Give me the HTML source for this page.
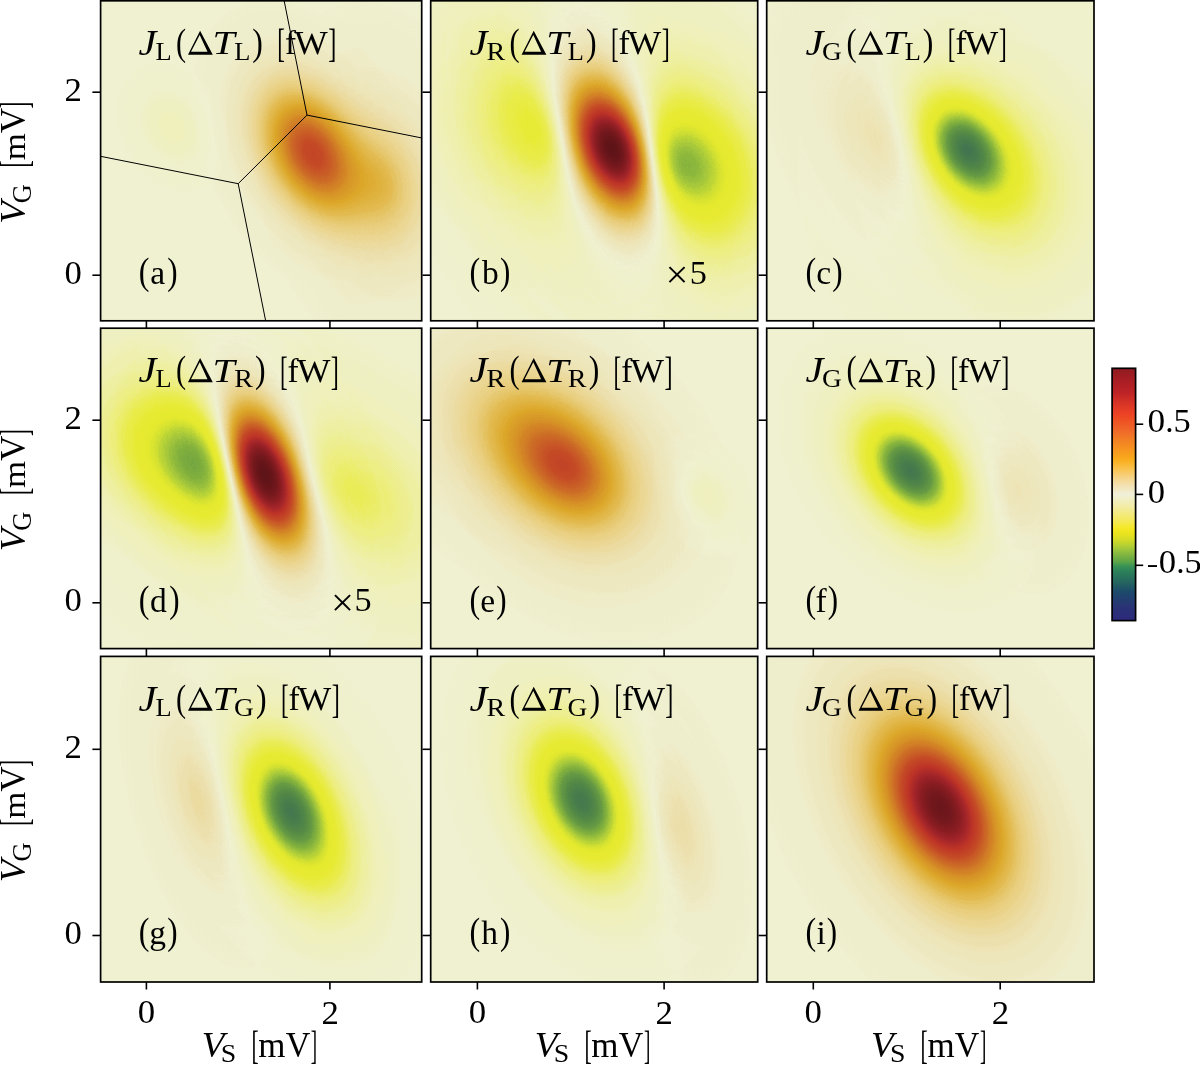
<!DOCTYPE html><html><head><meta charset="utf-8"><style>html,body{margin:0;padding:0;background:#fff;width:1200px;height:1065px;overflow:hidden}svg{display:block}text{font-family:"Liberation Serif",serif;fill:#000}.pl{mix-blend-mode:plus-lighter}</style></head><body>
<svg width="1200" height="1065" viewBox="0 0 1200 1065">
<defs>
<radialGradient id="gRn0_5"><stop offset="0.0000" stop-color="#ff0000" stop-opacity="1.00000"/><stop offset="0.0250" stop-color="#ff0000" stop-opacity="0.97695"/><stop offset="0.0500" stop-color="#ff0000" stop-opacity="0.91458"/><stop offset="0.0750" stop-color="#ff0000" stop-opacity="0.82833"/><stop offset="0.1000" stop-color="#ff0000" stop-opacity="0.73352"/><stop offset="0.1250" stop-color="#ff0000" stop-opacity="0.64056"/><stop offset="0.1500" stop-color="#ff0000" stop-opacity="0.55484"/><stop offset="0.1750" stop-color="#ff0000" stop-opacity="0.47838"/><stop offset="0.2000" stop-color="#ff0000" stop-opacity="0.41140"/><stop offset="0.2250" stop-color="#ff0000" stop-opacity="0.35331"/><stop offset="0.2500" stop-color="#ff0000" stop-opacity="0.30318"/><stop offset="0.2750" stop-color="#ff0000" stop-opacity="0.26007"/><stop offset="0.3000" stop-color="#ff0000" stop-opacity="0.22303"/><stop offset="0.3250" stop-color="#ff0000" stop-opacity="0.19124"/><stop offset="0.3500" stop-color="#ff0000" stop-opacity="0.16398"/><stop offset="0.3750" stop-color="#ff0000" stop-opacity="0.14060"/><stop offset="0.4000" stop-color="#ff0000" stop-opacity="0.12054"/><stop offset="0.4250" stop-color="#ff0000" stop-opacity="0.10335"/><stop offset="0.4500" stop-color="#ff0000" stop-opacity="0.08861"/><stop offset="0.4750" stop-color="#ff0000" stop-opacity="0.07597"/><stop offset="0.5000" stop-color="#ff0000" stop-opacity="0.06514"/><stop offset="0.5250" stop-color="#ff0000" stop-opacity="0.05584"/><stop offset="0.5500" stop-color="#ff0000" stop-opacity="0.04788"/><stop offset="0.5750" stop-color="#ff0000" stop-opacity="0.04105"/><stop offset="0.6000" stop-color="#ff0000" stop-opacity="0.03519"/><stop offset="0.6250" stop-color="#ff0000" stop-opacity="0.03017"/><stop offset="0.6500" stop-color="#ff0000" stop-opacity="0.02587"/><stop offset="0.6750" stop-color="#ff0000" stop-opacity="0.02218"/><stop offset="0.7000" stop-color="#ff0000" stop-opacity="0.01902"/><stop offset="0.7250" stop-color="#ff0000" stop-opacity="0.01630"/><stop offset="0.7500" stop-color="#ff0000" stop-opacity="0.01398"/><stop offset="0.7750" stop-color="#ff0000" stop-opacity="0.01198"/><stop offset="0.8000" stop-color="#ff0000" stop-opacity="0.01028"/><stop offset="0.8250" stop-color="#ff0000" stop-opacity="0.00881"/><stop offset="0.8500" stop-color="#ff0000" stop-opacity="0.00755"/><stop offset="0.8750" stop-color="#ff0000" stop-opacity="0.00648"/><stop offset="0.9000" stop-color="#ff0000" stop-opacity="0.00555"/><stop offset="0.9250" stop-color="#ff0000" stop-opacity="0.00476"/><stop offset="0.9500" stop-color="#ff0000" stop-opacity="0.00408"/><stop offset="0.9750" stop-color="#ff0000" stop-opacity="0.00350"/><stop offset="1.0000" stop-color="#ff0000" stop-opacity="0.00000"/></radialGradient>
<radialGradient id="gRn0_6"><stop offset="0.0000" stop-color="#ff0000" stop-opacity="1.00000"/><stop offset="0.0250" stop-color="#ff0000" stop-opacity="0.98024"/><stop offset="0.0500" stop-color="#ff0000" stop-opacity="0.92557"/><stop offset="0.0750" stop-color="#ff0000" stop-opacity="0.84720"/><stop offset="0.1000" stop-color="#ff0000" stop-opacity="0.75761"/><stop offset="0.1250" stop-color="#ff0000" stop-opacity="0.66665"/><stop offset="0.1500" stop-color="#ff0000" stop-opacity="0.58043"/><stop offset="0.1750" stop-color="#ff0000" stop-opacity="0.50199"/><stop offset="0.2000" stop-color="#ff0000" stop-opacity="0.43236"/><stop offset="0.2250" stop-color="#ff0000" stop-opacity="0.37145"/><stop offset="0.2500" stop-color="#ff0000" stop-opacity="0.31863"/><stop offset="0.2750" stop-color="#ff0000" stop-opacity="0.27308"/><stop offset="0.3000" stop-color="#ff0000" stop-opacity="0.23391"/><stop offset="0.3250" stop-color="#ff0000" stop-opacity="0.20030"/><stop offset="0.3500" stop-color="#ff0000" stop-opacity="0.17148"/><stop offset="0.3750" stop-color="#ff0000" stop-opacity="0.14679"/><stop offset="0.4000" stop-color="#ff0000" stop-opacity="0.12565"/><stop offset="0.4250" stop-color="#ff0000" stop-opacity="0.10755"/><stop offset="0.4500" stop-color="#ff0000" stop-opacity="0.09205"/><stop offset="0.4750" stop-color="#ff0000" stop-opacity="0.07878"/><stop offset="0.5000" stop-color="#ff0000" stop-opacity="0.06743"/><stop offset="0.5250" stop-color="#ff0000" stop-opacity="0.05771"/><stop offset="0.5500" stop-color="#ff0000" stop-opacity="0.04940"/><stop offset="0.5750" stop-color="#ff0000" stop-opacity="0.04228"/><stop offset="0.6000" stop-color="#ff0000" stop-opacity="0.03618"/><stop offset="0.6250" stop-color="#ff0000" stop-opacity="0.03097"/><stop offset="0.6500" stop-color="#ff0000" stop-opacity="0.02651"/><stop offset="0.6750" stop-color="#ff0000" stop-opacity="0.02269"/><stop offset="0.7000" stop-color="#ff0000" stop-opacity="0.01942"/><stop offset="0.7250" stop-color="#ff0000" stop-opacity="0.01662"/><stop offset="0.7500" stop-color="#ff0000" stop-opacity="0.01422"/><stop offset="0.7750" stop-color="#ff0000" stop-opacity="0.01217"/><stop offset="0.8000" stop-color="#ff0000" stop-opacity="0.01042"/><stop offset="0.8250" stop-color="#ff0000" stop-opacity="0.00892"/><stop offset="0.8500" stop-color="#ff0000" stop-opacity="0.00763"/><stop offset="0.8750" stop-color="#ff0000" stop-opacity="0.00653"/><stop offset="0.9000" stop-color="#ff0000" stop-opacity="0.00559"/><stop offset="0.9250" stop-color="#ff0000" stop-opacity="0.00479"/><stop offset="0.9500" stop-color="#ff0000" stop-opacity="0.00410"/><stop offset="0.9750" stop-color="#ff0000" stop-opacity="0.00351"/><stop offset="1.0000" stop-color="#ff0000" stop-opacity="0.00000"/></radialGradient>
<radialGradient id="gRn0_7"><stop offset="0.0000" stop-color="#ff0000" stop-opacity="1.00000"/><stop offset="0.0250" stop-color="#ff0000" stop-opacity="0.98261"/><stop offset="0.0500" stop-color="#ff0000" stop-opacity="0.93381"/><stop offset="0.0750" stop-color="#ff0000" stop-opacity="0.86208"/><stop offset="0.1000" stop-color="#ff0000" stop-opacity="0.77765"/><stop offset="0.1250" stop-color="#ff0000" stop-opacity="0.68944"/><stop offset="0.1500" stop-color="#ff0000" stop-opacity="0.60376"/><stop offset="0.1750" stop-color="#ff0000" stop-opacity="0.52426"/><stop offset="0.2000" stop-color="#ff0000" stop-opacity="0.45267"/><stop offset="0.2250" stop-color="#ff0000" stop-opacity="0.38940"/><stop offset="0.2500" stop-color="#ff0000" stop-opacity="0.33416"/><stop offset="0.2750" stop-color="#ff0000" stop-opacity="0.28630"/><stop offset="0.3000" stop-color="#ff0000" stop-opacity="0.24506"/><stop offset="0.3250" stop-color="#ff0000" stop-opacity="0.20961"/><stop offset="0.3500" stop-color="#ff0000" stop-opacity="0.17923"/><stop offset="0.3750" stop-color="#ff0000" stop-opacity="0.15320"/><stop offset="0.4000" stop-color="#ff0000" stop-opacity="0.13093"/><stop offset="0.4250" stop-color="#ff0000" stop-opacity="0.11189"/><stop offset="0.4500" stop-color="#ff0000" stop-opacity="0.09561"/><stop offset="0.4750" stop-color="#ff0000" stop-opacity="0.08170"/><stop offset="0.5000" stop-color="#ff0000" stop-opacity="0.06980"/><stop offset="0.5250" stop-color="#ff0000" stop-opacity="0.05964"/><stop offset="0.5500" stop-color="#ff0000" stop-opacity="0.05096"/><stop offset="0.5750" stop-color="#ff0000" stop-opacity="0.04354"/><stop offset="0.6000" stop-color="#ff0000" stop-opacity="0.03720"/><stop offset="0.6250" stop-color="#ff0000" stop-opacity="0.03178"/><stop offset="0.6500" stop-color="#ff0000" stop-opacity="0.02716"/><stop offset="0.6750" stop-color="#ff0000" stop-opacity="0.02320"/><stop offset="0.7000" stop-color="#ff0000" stop-opacity="0.01982"/><stop offset="0.7250" stop-color="#ff0000" stop-opacity="0.01694"/><stop offset="0.7500" stop-color="#ff0000" stop-opacity="0.01447"/><stop offset="0.7750" stop-color="#ff0000" stop-opacity="0.01236"/><stop offset="0.8000" stop-color="#ff0000" stop-opacity="0.01056"/><stop offset="0.8250" stop-color="#ff0000" stop-opacity="0.00903"/><stop offset="0.8500" stop-color="#ff0000" stop-opacity="0.00771"/><stop offset="0.8750" stop-color="#ff0000" stop-opacity="0.00659"/><stop offset="0.9000" stop-color="#ff0000" stop-opacity="0.00563"/><stop offset="0.9250" stop-color="#ff0000" stop-opacity="0.00481"/><stop offset="0.9500" stop-color="#ff0000" stop-opacity="0.00411"/><stop offset="0.9750" stop-color="#ff0000" stop-opacity="0.00351"/><stop offset="1.0000" stop-color="#ff0000" stop-opacity="0.00000"/></radialGradient>
<radialGradient id="gRn0_8"><stop offset="0.0000" stop-color="#ff0000" stop-opacity="1.00000"/><stop offset="0.0250" stop-color="#ff0000" stop-opacity="0.98441"/><stop offset="0.0500" stop-color="#ff0000" stop-opacity="0.94019"/><stop offset="0.0750" stop-color="#ff0000" stop-opacity="0.87402"/><stop offset="0.1000" stop-color="#ff0000" stop-opacity="0.79438"/><stop offset="0.1250" stop-color="#ff0000" stop-opacity="0.70923"/><stop offset="0.1500" stop-color="#ff0000" stop-opacity="0.62474"/><stop offset="0.1750" stop-color="#ff0000" stop-opacity="0.54494"/><stop offset="0.2000" stop-color="#ff0000" stop-opacity="0.47201"/><stop offset="0.2250" stop-color="#ff0000" stop-opacity="0.40685"/><stop offset="0.2500" stop-color="#ff0000" stop-opacity="0.34950"/><stop offset="0.2750" stop-color="#ff0000" stop-opacity="0.29954"/><stop offset="0.3000" stop-color="#ff0000" stop-opacity="0.25632"/><stop offset="0.3250" stop-color="#ff0000" stop-opacity="0.21910"/><stop offset="0.3500" stop-color="#ff0000" stop-opacity="0.18716"/><stop offset="0.3750" stop-color="#ff0000" stop-opacity="0.15979"/><stop offset="0.4000" stop-color="#ff0000" stop-opacity="0.13638"/><stop offset="0.4250" stop-color="#ff0000" stop-opacity="0.11637"/><stop offset="0.4500" stop-color="#ff0000" stop-opacity="0.09929"/><stop offset="0.4750" stop-color="#ff0000" stop-opacity="0.08470"/><stop offset="0.5000" stop-color="#ff0000" stop-opacity="0.07225"/><stop offset="0.5250" stop-color="#ff0000" stop-opacity="0.06163"/><stop offset="0.5500" stop-color="#ff0000" stop-opacity="0.05257"/><stop offset="0.5750" stop-color="#ff0000" stop-opacity="0.04484"/><stop offset="0.6000" stop-color="#ff0000" stop-opacity="0.03825"/><stop offset="0.6250" stop-color="#ff0000" stop-opacity="0.03262"/><stop offset="0.6500" stop-color="#ff0000" stop-opacity="0.02782"/><stop offset="0.6750" stop-color="#ff0000" stop-opacity="0.02373"/><stop offset="0.7000" stop-color="#ff0000" stop-opacity="0.02024"/><stop offset="0.7250" stop-color="#ff0000" stop-opacity="0.01726"/><stop offset="0.7500" stop-color="#ff0000" stop-opacity="0.01472"/><stop offset="0.7750" stop-color="#ff0000" stop-opacity="0.01256"/><stop offset="0.8000" stop-color="#ff0000" stop-opacity="0.01071"/><stop offset="0.8250" stop-color="#ff0000" stop-opacity="0.00914"/><stop offset="0.8500" stop-color="#ff0000" stop-opacity="0.00779"/><stop offset="0.8750" stop-color="#ff0000" stop-opacity="0.00665"/><stop offset="0.9000" stop-color="#ff0000" stop-opacity="0.00567"/><stop offset="0.9250" stop-color="#ff0000" stop-opacity="0.00484"/><stop offset="0.9500" stop-color="#ff0000" stop-opacity="0.00412"/><stop offset="0.9750" stop-color="#ff0000" stop-opacity="0.00352"/><stop offset="1.0000" stop-color="#ff0000" stop-opacity="0.00000"/></radialGradient>
<radialGradient id="gRn0_87"><stop offset="0.0000" stop-color="#ff0000" stop-opacity="1.00000"/><stop offset="0.0250" stop-color="#ff0000" stop-opacity="0.98542"/><stop offset="0.0500" stop-color="#ff0000" stop-opacity="0.94385"/><stop offset="0.0750" stop-color="#ff0000" stop-opacity="0.88104"/><stop offset="0.1000" stop-color="#ff0000" stop-opacity="0.80447"/><stop offset="0.1250" stop-color="#ff0000" stop-opacity="0.72151"/><stop offset="0.1500" stop-color="#ff0000" stop-opacity="0.63810"/><stop offset="0.1750" stop-color="#ff0000" stop-opacity="0.55841"/><stop offset="0.2000" stop-color="#ff0000" stop-opacity="0.48488"/><stop offset="0.2250" stop-color="#ff0000" stop-opacity="0.41866"/><stop offset="0.2500" stop-color="#ff0000" stop-opacity="0.36003"/><stop offset="0.2750" stop-color="#ff0000" stop-opacity="0.30873"/><stop offset="0.3000" stop-color="#ff0000" stop-opacity="0.26421"/><stop offset="0.3250" stop-color="#ff0000" stop-opacity="0.22580"/><stop offset="0.3500" stop-color="#ff0000" stop-opacity="0.19278"/><stop offset="0.3750" stop-color="#ff0000" stop-opacity="0.16448"/><stop offset="0.4000" stop-color="#ff0000" stop-opacity="0.14026"/><stop offset="0.4250" stop-color="#ff0000" stop-opacity="0.11958"/><stop offset="0.4500" stop-color="#ff0000" stop-opacity="0.10192"/><stop offset="0.4750" stop-color="#ff0000" stop-opacity="0.08685"/><stop offset="0.5000" stop-color="#ff0000" stop-opacity="0.07401"/><stop offset="0.5250" stop-color="#ff0000" stop-opacity="0.06306"/><stop offset="0.5500" stop-color="#ff0000" stop-opacity="0.05372"/><stop offset="0.5750" stop-color="#ff0000" stop-opacity="0.04577"/><stop offset="0.6000" stop-color="#ff0000" stop-opacity="0.03899"/><stop offset="0.6250" stop-color="#ff0000" stop-opacity="0.03322"/><stop offset="0.6500" stop-color="#ff0000" stop-opacity="0.02830"/><stop offset="0.6750" stop-color="#ff0000" stop-opacity="0.02411"/><stop offset="0.7000" stop-color="#ff0000" stop-opacity="0.02054"/><stop offset="0.7250" stop-color="#ff0000" stop-opacity="0.01750"/><stop offset="0.7500" stop-color="#ff0000" stop-opacity="0.01490"/><stop offset="0.7750" stop-color="#ff0000" stop-opacity="0.01270"/><stop offset="0.8000" stop-color="#ff0000" stop-opacity="0.01082"/><stop offset="0.8250" stop-color="#ff0000" stop-opacity="0.00921"/><stop offset="0.8500" stop-color="#ff0000" stop-opacity="0.00785"/><stop offset="0.8750" stop-color="#ff0000" stop-opacity="0.00669"/><stop offset="0.9000" stop-color="#ff0000" stop-opacity="0.00570"/><stop offset="0.9250" stop-color="#ff0000" stop-opacity="0.00485"/><stop offset="0.9500" stop-color="#ff0000" stop-opacity="0.00413"/><stop offset="0.9750" stop-color="#ff0000" stop-opacity="0.00352"/><stop offset="1.0000" stop-color="#ff0000" stop-opacity="0.00000"/></radialGradient>
<radialGradient id="gRn1"><stop offset="0.0000" stop-color="#ff0000" stop-opacity="1.00000"/><stop offset="0.0250" stop-color="#ff0000" stop-opacity="0.98693"/><stop offset="0.0500" stop-color="#ff0000" stop-opacity="0.94938"/><stop offset="0.0750" stop-color="#ff0000" stop-opacity="0.89183"/><stop offset="0.1000" stop-color="#ff0000" stop-opacity="0.82038"/><stop offset="0.1250" stop-color="#ff0000" stop-opacity="0.74134"/><stop offset="0.1500" stop-color="#ff0000" stop-opacity="0.66025"/><stop offset="0.1750" stop-color="#ff0000" stop-opacity="0.58128"/><stop offset="0.2000" stop-color="#ff0000" stop-opacity="0.50718"/><stop offset="0.2250" stop-color="#ff0000" stop-opacity="0.43951"/><stop offset="0.2500" stop-color="#ff0000" stop-opacity="0.37892"/><stop offset="0.2750" stop-color="#ff0000" stop-opacity="0.32544"/><stop offset="0.3000" stop-color="#ff0000" stop-opacity="0.27872"/><stop offset="0.3250" stop-color="#ff0000" stop-opacity="0.23821"/><stop offset="0.3500" stop-color="#ff0000" stop-opacity="0.20328"/><stop offset="0.3750" stop-color="#ff0000" stop-opacity="0.17329"/><stop offset="0.4000" stop-color="#ff0000" stop-opacity="0.14760"/><stop offset="0.4250" stop-color="#ff0000" stop-opacity="0.12564"/><stop offset="0.4500" stop-color="#ff0000" stop-opacity="0.10691"/><stop offset="0.4750" stop-color="#ff0000" stop-opacity="0.09094"/><stop offset="0.5000" stop-color="#ff0000" stop-opacity="0.07734"/><stop offset="0.5250" stop-color="#ff0000" stop-opacity="0.06577"/><stop offset="0.5500" stop-color="#ff0000" stop-opacity="0.05592"/><stop offset="0.5750" stop-color="#ff0000" stop-opacity="0.04754"/><stop offset="0.6000" stop-color="#ff0000" stop-opacity="0.04041"/><stop offset="0.6250" stop-color="#ff0000" stop-opacity="0.03435"/><stop offset="0.6500" stop-color="#ff0000" stop-opacity="0.02920"/><stop offset="0.6750" stop-color="#ff0000" stop-opacity="0.02482"/><stop offset="0.7000" stop-color="#ff0000" stop-opacity="0.02110"/><stop offset="0.7250" stop-color="#ff0000" stop-opacity="0.01793"/><stop offset="0.7500" stop-color="#ff0000" stop-opacity="0.01524"/><stop offset="0.7750" stop-color="#ff0000" stop-opacity="0.01296"/><stop offset="0.8000" stop-color="#ff0000" stop-opacity="0.01101"/><stop offset="0.8250" stop-color="#ff0000" stop-opacity="0.00936"/><stop offset="0.8500" stop-color="#ff0000" stop-opacity="0.00796"/><stop offset="0.8750" stop-color="#ff0000" stop-opacity="0.00676"/><stop offset="0.9000" stop-color="#ff0000" stop-opacity="0.00575"/><stop offset="0.9250" stop-color="#ff0000" stop-opacity="0.00489"/><stop offset="0.9500" stop-color="#ff0000" stop-opacity="0.00415"/><stop offset="0.9750" stop-color="#ff0000" stop-opacity="0.00353"/><stop offset="1.0000" stop-color="#ff0000" stop-opacity="0.00000"/></radialGradient>
<radialGradient id="gRn1_2"><stop offset="0.0000" stop-color="#ff0000" stop-opacity="1.00000"/><stop offset="0.0250" stop-color="#ff0000" stop-opacity="0.98862"/><stop offset="0.0500" stop-color="#ff0000" stop-opacity="0.95565"/><stop offset="0.0750" stop-color="#ff0000" stop-opacity="0.90436"/><stop offset="0.1000" stop-color="#ff0000" stop-opacity="0.83939"/><stop offset="0.1250" stop-color="#ff0000" stop-opacity="0.76585"/><stop offset="0.1500" stop-color="#ff0000" stop-opacity="0.68853"/><stop offset="0.1750" stop-color="#ff0000" stop-opacity="0.61142"/><stop offset="0.2000" stop-color="#ff0000" stop-opacity="0.53747"/><stop offset="0.2250" stop-color="#ff0000" stop-opacity="0.46861"/><stop offset="0.2500" stop-color="#ff0000" stop-opacity="0.40592"/><stop offset="0.2750" stop-color="#ff0000" stop-opacity="0.34982"/><stop offset="0.3000" stop-color="#ff0000" stop-opacity="0.30026"/><stop offset="0.3250" stop-color="#ff0000" stop-opacity="0.25693"/><stop offset="0.3500" stop-color="#ff0000" stop-opacity="0.21932"/><stop offset="0.3750" stop-color="#ff0000" stop-opacity="0.18687"/><stop offset="0.4000" stop-color="#ff0000" stop-opacity="0.15900"/><stop offset="0.4250" stop-color="#ff0000" stop-opacity="0.13514"/><stop offset="0.4500" stop-color="#ff0000" stop-opacity="0.11477"/><stop offset="0.4750" stop-color="#ff0000" stop-opacity="0.09740"/><stop offset="0.5000" stop-color="#ff0000" stop-opacity="0.08263"/><stop offset="0.5250" stop-color="#ff0000" stop-opacity="0.07007"/><stop offset="0.5500" stop-color="#ff0000" stop-opacity="0.05940"/><stop offset="0.5750" stop-color="#ff0000" stop-opacity="0.05035"/><stop offset="0.6000" stop-color="#ff0000" stop-opacity="0.04267"/><stop offset="0.6250" stop-color="#ff0000" stop-opacity="0.03615"/><stop offset="0.6500" stop-color="#ff0000" stop-opacity="0.03063"/><stop offset="0.6750" stop-color="#ff0000" stop-opacity="0.02595"/><stop offset="0.7000" stop-color="#ff0000" stop-opacity="0.02199"/><stop offset="0.7250" stop-color="#ff0000" stop-opacity="0.01862"/><stop offset="0.7500" stop-color="#ff0000" stop-opacity="0.01578"/><stop offset="0.7750" stop-color="#ff0000" stop-opacity="0.01336"/><stop offset="0.8000" stop-color="#ff0000" stop-opacity="0.01132"/><stop offset="0.8250" stop-color="#ff0000" stop-opacity="0.00959"/><stop offset="0.8500" stop-color="#ff0000" stop-opacity="0.00812"/><stop offset="0.8750" stop-color="#ff0000" stop-opacity="0.00688"/><stop offset="0.9000" stop-color="#ff0000" stop-opacity="0.00583"/><stop offset="0.9250" stop-color="#ff0000" stop-opacity="0.00494"/><stop offset="0.9500" stop-color="#ff0000" stop-opacity="0.00418"/><stop offset="0.9750" stop-color="#ff0000" stop-opacity="0.00354"/><stop offset="1.0000" stop-color="#ff0000" stop-opacity="0.00000"/></radialGradient>
<radialGradient id="gRn1_36"><stop offset="0.0000" stop-color="#ff0000" stop-opacity="1.00000"/><stop offset="0.0250" stop-color="#ff0000" stop-opacity="0.98961"/><stop offset="0.0500" stop-color="#ff0000" stop-opacity="0.95937"/><stop offset="0.0750" stop-color="#ff0000" stop-opacity="0.91195"/><stop offset="0.1000" stop-color="#ff0000" stop-opacity="0.85118"/><stop offset="0.1250" stop-color="#ff0000" stop-opacity="0.78145"/><stop offset="0.1500" stop-color="#ff0000" stop-opacity="0.70705"/><stop offset="0.1750" stop-color="#ff0000" stop-opacity="0.63173"/><stop offset="0.2000" stop-color="#ff0000" stop-opacity="0.55844"/><stop offset="0.2250" stop-color="#ff0000" stop-opacity="0.48927"/><stop offset="0.2500" stop-color="#ff0000" stop-opacity="0.42554"/><stop offset="0.2750" stop-color="#ff0000" stop-opacity="0.36790"/><stop offset="0.3000" stop-color="#ff0000" stop-opacity="0.31654"/><stop offset="0.3250" stop-color="#ff0000" stop-opacity="0.27129"/><stop offset="0.3500" stop-color="#ff0000" stop-opacity="0.23180"/><stop offset="0.3750" stop-color="#ff0000" stop-opacity="0.19757"/><stop offset="0.4000" stop-color="#ff0000" stop-opacity="0.16806"/><stop offset="0.4250" stop-color="#ff0000" stop-opacity="0.14275"/><stop offset="0.4500" stop-color="#ff0000" stop-opacity="0.12110"/><stop offset="0.4750" stop-color="#ff0000" stop-opacity="0.10264"/><stop offset="0.5000" stop-color="#ff0000" stop-opacity="0.08693"/><stop offset="0.5250" stop-color="#ff0000" stop-opacity="0.07358"/><stop offset="0.5500" stop-color="#ff0000" stop-opacity="0.06225"/><stop offset="0.5750" stop-color="#ff0000" stop-opacity="0.05265"/><stop offset="0.6000" stop-color="#ff0000" stop-opacity="0.04452"/><stop offset="0.6250" stop-color="#ff0000" stop-opacity="0.03763"/><stop offset="0.6500" stop-color="#ff0000" stop-opacity="0.03181"/><stop offset="0.6750" stop-color="#ff0000" stop-opacity="0.02688"/><stop offset="0.7000" stop-color="#ff0000" stop-opacity="0.02271"/><stop offset="0.7250" stop-color="#ff0000" stop-opacity="0.01919"/><stop offset="0.7500" stop-color="#ff0000" stop-opacity="0.01621"/><stop offset="0.7750" stop-color="#ff0000" stop-opacity="0.01370"/><stop offset="0.8000" stop-color="#ff0000" stop-opacity="0.01157"/><stop offset="0.8250" stop-color="#ff0000" stop-opacity="0.00978"/><stop offset="0.8500" stop-color="#ff0000" stop-opacity="0.00826"/><stop offset="0.8750" stop-color="#ff0000" stop-opacity="0.00698"/><stop offset="0.9000" stop-color="#ff0000" stop-opacity="0.00589"/><stop offset="0.9250" stop-color="#ff0000" stop-opacity="0.00498"/><stop offset="0.9500" stop-color="#ff0000" stop-opacity="0.00420"/><stop offset="0.9750" stop-color="#ff0000" stop-opacity="0.00355"/><stop offset="1.0000" stop-color="#ff0000" stop-opacity="0.00000"/></radialGradient>
<radialGradient id="gRn1_5"><stop offset="0.0000" stop-color="#ff0000" stop-opacity="1.00000"/><stop offset="0.0250" stop-color="#ff0000" stop-opacity="0.99030"/><stop offset="0.0500" stop-color="#ff0000" stop-opacity="0.96199"/><stop offset="0.0750" stop-color="#ff0000" stop-opacity="0.91734"/><stop offset="0.1000" stop-color="#ff0000" stop-opacity="0.85967"/><stop offset="0.1250" stop-color="#ff0000" stop-opacity="0.79288"/><stop offset="0.1500" stop-color="#ff0000" stop-opacity="0.72087"/><stop offset="0.1750" stop-color="#ff0000" stop-opacity="0.64717"/><stop offset="0.2000" stop-color="#ff0000" stop-opacity="0.57468"/><stop offset="0.2250" stop-color="#ff0000" stop-opacity="0.50556"/><stop offset="0.2500" stop-color="#ff0000" stop-opacity="0.44126"/><stop offset="0.2750" stop-color="#ff0000" stop-opacity="0.38261"/><stop offset="0.3000" stop-color="#ff0000" stop-opacity="0.32996"/><stop offset="0.3250" stop-color="#ff0000" stop-opacity="0.28328"/><stop offset="0.3500" stop-color="#ff0000" stop-opacity="0.24232"/><stop offset="0.3750" stop-color="#ff0000" stop-opacity="0.20667"/><stop offset="0.4000" stop-color="#ff0000" stop-opacity="0.17585"/><stop offset="0.4250" stop-color="#ff0000" stop-opacity="0.14933"/><stop offset="0.4500" stop-color="#ff0000" stop-opacity="0.12661"/><stop offset="0.4750" stop-color="#ff0000" stop-opacity="0.10722"/><stop offset="0.5000" stop-color="#ff0000" stop-opacity="0.09070"/><stop offset="0.5250" stop-color="#ff0000" stop-opacity="0.07667"/><stop offset="0.5500" stop-color="#ff0000" stop-opacity="0.06477"/><stop offset="0.5750" stop-color="#ff0000" stop-opacity="0.05469"/><stop offset="0.6000" stop-color="#ff0000" stop-opacity="0.04616"/><stop offset="0.6250" stop-color="#ff0000" stop-opacity="0.03894"/><stop offset="0.6500" stop-color="#ff0000" stop-opacity="0.03285"/><stop offset="0.6750" stop-color="#ff0000" stop-opacity="0.02770"/><stop offset="0.7000" stop-color="#ff0000" stop-opacity="0.02336"/><stop offset="0.7250" stop-color="#ff0000" stop-opacity="0.01969"/><stop offset="0.7500" stop-color="#ff0000" stop-opacity="0.01660"/><stop offset="0.7750" stop-color="#ff0000" stop-opacity="0.01399"/><stop offset="0.8000" stop-color="#ff0000" stop-opacity="0.01179"/><stop offset="0.8250" stop-color="#ff0000" stop-opacity="0.00994"/><stop offset="0.8500" stop-color="#ff0000" stop-opacity="0.00838"/><stop offset="0.8750" stop-color="#ff0000" stop-opacity="0.00706"/><stop offset="0.9000" stop-color="#ff0000" stop-opacity="0.00595"/><stop offset="0.9250" stop-color="#ff0000" stop-opacity="0.00501"/><stop offset="0.9500" stop-color="#ff0000" stop-opacity="0.00422"/><stop offset="0.9750" stop-color="#ff0000" stop-opacity="0.00356"/><stop offset="1.0000" stop-color="#ff0000" stop-opacity="0.00000"/></radialGradient>
<radialGradient id="gRn1_864"><stop offset="0.0000" stop-color="#ff0000" stop-opacity="1.00000"/><stop offset="0.0250" stop-color="#ff0000" stop-opacity="0.99160"/><stop offset="0.0500" stop-color="#ff0000" stop-opacity="0.96695"/><stop offset="0.0750" stop-color="#ff0000" stop-opacity="0.92769"/><stop offset="0.1000" stop-color="#ff0000" stop-opacity="0.87627"/><stop offset="0.1250" stop-color="#ff0000" stop-opacity="0.81565"/><stop offset="0.1500" stop-color="#ff0000" stop-opacity="0.74899"/><stop offset="0.1750" stop-color="#ff0000" stop-opacity="0.67931"/><stop offset="0.2000" stop-color="#ff0000" stop-opacity="0.60927"/><stop offset="0.2250" stop-color="#ff0000" stop-opacity="0.54105"/><stop offset="0.2500" stop-color="#ff0000" stop-opacity="0.47628"/><stop offset="0.2750" stop-color="#ff0000" stop-opacity="0.41608"/><stop offset="0.3000" stop-color="#ff0000" stop-opacity="0.36109"/><stop offset="0.3250" stop-color="#ff0000" stop-opacity="0.31160"/><stop offset="0.3500" stop-color="#ff0000" stop-opacity="0.26759"/><stop offset="0.3750" stop-color="#ff0000" stop-opacity="0.22885"/><stop offset="0.4000" stop-color="#ff0000" stop-opacity="0.19504"/><stop offset="0.4250" stop-color="#ff0000" stop-opacity="0.16574"/><stop offset="0.4500" stop-color="#ff0000" stop-opacity="0.14049"/><stop offset="0.4750" stop-color="#ff0000" stop-opacity="0.11885"/><stop offset="0.5000" stop-color="#ff0000" stop-opacity="0.10036"/><stop offset="0.5250" stop-color="#ff0000" stop-opacity="0.08463"/><stop offset="0.5500" stop-color="#ff0000" stop-opacity="0.07128"/><stop offset="0.5750" stop-color="#ff0000" stop-opacity="0.05998"/><stop offset="0.6000" stop-color="#ff0000" stop-opacity="0.05042"/><stop offset="0.6250" stop-color="#ff0000" stop-opacity="0.04236"/><stop offset="0.6500" stop-color="#ff0000" stop-opacity="0.03557"/><stop offset="0.6750" stop-color="#ff0000" stop-opacity="0.02985"/><stop offset="0.7000" stop-color="#ff0000" stop-opacity="0.02504"/><stop offset="0.7250" stop-color="#ff0000" stop-opacity="0.02100"/><stop offset="0.7500" stop-color="#ff0000" stop-opacity="0.01761"/><stop offset="0.7750" stop-color="#ff0000" stop-opacity="0.01476"/><stop offset="0.8000" stop-color="#ff0000" stop-opacity="0.01237"/><stop offset="0.8250" stop-color="#ff0000" stop-opacity="0.01037"/><stop offset="0.8500" stop-color="#ff0000" stop-opacity="0.00869"/><stop offset="0.8750" stop-color="#ff0000" stop-opacity="0.00728"/><stop offset="0.9000" stop-color="#ff0000" stop-opacity="0.00610"/><stop offset="0.9250" stop-color="#ff0000" stop-opacity="0.00511"/><stop offset="0.9500" stop-color="#ff0000" stop-opacity="0.00428"/><stop offset="0.9750" stop-color="#ff0000" stop-opacity="0.00358"/><stop offset="1.0000" stop-color="#ff0000" stop-opacity="0.00000"/></radialGradient>
<radialGradient id="gRn2"><stop offset="0.0000" stop-color="#ff0000" stop-opacity="1.00000"/><stop offset="0.0250" stop-color="#ff0000" stop-opacity="0.99196"/><stop offset="0.0500" stop-color="#ff0000" stop-opacity="0.96834"/><stop offset="0.0750" stop-color="#ff0000" stop-opacity="0.93061"/><stop offset="0.1000" stop-color="#ff0000" stop-opacity="0.88101"/><stop offset="0.1250" stop-color="#ff0000" stop-opacity="0.82226"/><stop offset="0.1500" stop-color="#ff0000" stop-opacity="0.75730"/><stop offset="0.1750" stop-color="#ff0000" stop-opacity="0.68899"/><stop offset="0.2000" stop-color="#ff0000" stop-opacity="0.61989"/><stop offset="0.2250" stop-color="#ff0000" stop-opacity="0.55215"/><stop offset="0.2500" stop-color="#ff0000" stop-opacity="0.48745"/><stop offset="0.2750" stop-color="#ff0000" stop-opacity="0.42694"/><stop offset="0.3000" stop-color="#ff0000" stop-opacity="0.37137"/><stop offset="0.3250" stop-color="#ff0000" stop-opacity="0.32110"/><stop offset="0.3500" stop-color="#ff0000" stop-opacity="0.27619"/><stop offset="0.3750" stop-color="#ff0000" stop-opacity="0.23650"/><stop offset="0.4000" stop-color="#ff0000" stop-opacity="0.20174"/><stop offset="0.4250" stop-color="#ff0000" stop-opacity="0.17153"/><stop offset="0.4500" stop-color="#ff0000" stop-opacity="0.14544"/><stop offset="0.4750" stop-color="#ff0000" stop-opacity="0.12302"/><stop offset="0.5000" stop-color="#ff0000" stop-opacity="0.10386"/><stop offset="0.5250" stop-color="#ff0000" stop-opacity="0.08753"/><stop offset="0.5500" stop-color="#ff0000" stop-opacity="0.07366"/><stop offset="0.5750" stop-color="#ff0000" stop-opacity="0.06192"/><stop offset="0.6000" stop-color="#ff0000" stop-opacity="0.05200"/><stop offset="0.6250" stop-color="#ff0000" stop-opacity="0.04363"/><stop offset="0.6500" stop-color="#ff0000" stop-opacity="0.03658"/><stop offset="0.6750" stop-color="#ff0000" stop-opacity="0.03065"/><stop offset="0.7000" stop-color="#ff0000" stop-opacity="0.02567"/><stop offset="0.7250" stop-color="#ff0000" stop-opacity="0.02149"/><stop offset="0.7500" stop-color="#ff0000" stop-opacity="0.01799"/><stop offset="0.7750" stop-color="#ff0000" stop-opacity="0.01505"/><stop offset="0.8000" stop-color="#ff0000" stop-opacity="0.01259"/><stop offset="0.8250" stop-color="#ff0000" stop-opacity="0.01053"/><stop offset="0.8500" stop-color="#ff0000" stop-opacity="0.00880"/><stop offset="0.8750" stop-color="#ff0000" stop-opacity="0.00736"/><stop offset="0.9000" stop-color="#ff0000" stop-opacity="0.00615"/><stop offset="0.9250" stop-color="#ff0000" stop-opacity="0.00514"/><stop offset="0.9500" stop-color="#ff0000" stop-opacity="0.00430"/><stop offset="0.9750" stop-color="#ff0000" stop-opacity="0.00359"/><stop offset="1.0000" stop-color="#ff0000" stop-opacity="0.00000"/></radialGradient>
<radialGradient id="gRn3_07"><stop offset="0.0000" stop-color="#ff0000" stop-opacity="1.00000"/><stop offset="0.0250" stop-color="#ff0000" stop-opacity="0.99364"/><stop offset="0.0500" stop-color="#ff0000" stop-opacity="0.97486"/><stop offset="0.0750" stop-color="#ff0000" stop-opacity="0.94450"/><stop offset="0.1000" stop-color="#ff0000" stop-opacity="0.90390"/><stop offset="0.1250" stop-color="#ff0000" stop-opacity="0.85478"/><stop offset="0.1500" stop-color="#ff0000" stop-opacity="0.79906"/><stop offset="0.1750" stop-color="#ff0000" stop-opacity="0.73879"/><stop offset="0.2000" stop-color="#ff0000" stop-opacity="0.67594"/><stop offset="0.2250" stop-color="#ff0000" stop-opacity="0.61235"/><stop offset="0.2500" stop-color="#ff0000" stop-opacity="0.54962"/><stop offset="0.2750" stop-color="#ff0000" stop-opacity="0.48907"/><stop offset="0.3000" stop-color="#ff0000" stop-opacity="0.43172"/><stop offset="0.3250" stop-color="#ff0000" stop-opacity="0.37828"/><stop offset="0.3500" stop-color="#ff0000" stop-opacity="0.32923"/><stop offset="0.3750" stop-color="#ff0000" stop-opacity="0.28476"/><stop offset="0.4000" stop-color="#ff0000" stop-opacity="0.24492"/><stop offset="0.4250" stop-color="#ff0000" stop-opacity="0.20957"/><stop offset="0.4500" stop-color="#ff0000" stop-opacity="0.17850"/><stop offset="0.4750" stop-color="#ff0000" stop-opacity="0.15141"/><stop offset="0.5000" stop-color="#ff0000" stop-opacity="0.12795"/><stop offset="0.5250" stop-color="#ff0000" stop-opacity="0.10776"/><stop offset="0.5500" stop-color="#ff0000" stop-opacity="0.09049"/><stop offset="0.5750" stop-color="#ff0000" stop-opacity="0.07578"/><stop offset="0.6000" stop-color="#ff0000" stop-opacity="0.06332"/><stop offset="0.6250" stop-color="#ff0000" stop-opacity="0.05279"/><stop offset="0.6500" stop-color="#ff0000" stop-opacity="0.04393"/><stop offset="0.6750" stop-color="#ff0000" stop-opacity="0.03649"/><stop offset="0.7000" stop-color="#ff0000" stop-opacity="0.03027"/><stop offset="0.7250" stop-color="#ff0000" stop-opacity="0.02508"/><stop offset="0.7500" stop-color="#ff0000" stop-opacity="0.02075"/><stop offset="0.7750" stop-color="#ff0000" stop-opacity="0.01715"/><stop offset="0.8000" stop-color="#ff0000" stop-opacity="0.01417"/><stop offset="0.8250" stop-color="#ff0000" stop-opacity="0.01169"/><stop offset="0.8500" stop-color="#ff0000" stop-opacity="0.00964"/><stop offset="0.8750" stop-color="#ff0000" stop-opacity="0.00795"/><stop offset="0.9000" stop-color="#ff0000" stop-opacity="0.00655"/><stop offset="0.9250" stop-color="#ff0000" stop-opacity="0.00539"/><stop offset="0.9500" stop-color="#ff0000" stop-opacity="0.00443"/><stop offset="0.9750" stop-color="#ff0000" stop-opacity="0.00365"/><stop offset="1.0000" stop-color="#ff0000" stop-opacity="0.00000"/></radialGradient>
<radialGradient id="gRn3_5"><stop offset="0.0000" stop-color="#ff0000" stop-opacity="1.00000"/><stop offset="0.0250" stop-color="#ff0000" stop-opacity="0.99401"/><stop offset="0.0500" stop-color="#ff0000" stop-opacity="0.97631"/><stop offset="0.0750" stop-color="#ff0000" stop-opacity="0.94762"/><stop offset="0.1000" stop-color="#ff0000" stop-opacity="0.90913"/><stop offset="0.1250" stop-color="#ff0000" stop-opacity="0.86234"/><stop offset="0.1500" stop-color="#ff0000" stop-opacity="0.80898"/><stop offset="0.1750" stop-color="#ff0000" stop-opacity="0.75089"/><stop offset="0.2000" stop-color="#ff0000" stop-opacity="0.68990"/><stop offset="0.2250" stop-color="#ff0000" stop-opacity="0.62773"/><stop offset="0.2500" stop-color="#ff0000" stop-opacity="0.56593"/><stop offset="0.2750" stop-color="#ff0000" stop-opacity="0.50581"/><stop offset="0.3000" stop-color="#ff0000" stop-opacity="0.44841"/><stop offset="0.3250" stop-color="#ff0000" stop-opacity="0.39451"/><stop offset="0.3500" stop-color="#ff0000" stop-opacity="0.34465"/><stop offset="0.3750" stop-color="#ff0000" stop-opacity="0.29913"/><stop offset="0.4000" stop-color="#ff0000" stop-opacity="0.25806"/><stop offset="0.4250" stop-color="#ff0000" stop-opacity="0.22139"/><stop offset="0.4500" stop-color="#ff0000" stop-opacity="0.18898"/><stop offset="0.4750" stop-color="#ff0000" stop-opacity="0.16056"/><stop offset="0.5000" stop-color="#ff0000" stop-opacity="0.13584"/><stop offset="0.5250" stop-color="#ff0000" stop-opacity="0.11449"/><stop offset="0.5500" stop-color="#ff0000" stop-opacity="0.09616"/><stop offset="0.5750" stop-color="#ff0000" stop-opacity="0.08050"/><stop offset="0.6000" stop-color="#ff0000" stop-opacity="0.06721"/><stop offset="0.6250" stop-color="#ff0000" stop-opacity="0.05596"/><stop offset="0.6500" stop-color="#ff0000" stop-opacity="0.04649"/><stop offset="0.6750" stop-color="#ff0000" stop-opacity="0.03855"/><stop offset="0.7000" stop-color="#ff0000" stop-opacity="0.03190"/><stop offset="0.7250" stop-color="#ff0000" stop-opacity="0.02635"/><stop offset="0.7500" stop-color="#ff0000" stop-opacity="0.02174"/><stop offset="0.7750" stop-color="#ff0000" stop-opacity="0.01790"/><stop offset="0.8000" stop-color="#ff0000" stop-opacity="0.01473"/><stop offset="0.8250" stop-color="#ff0000" stop-opacity="0.01211"/><stop offset="0.8500" stop-color="#ff0000" stop-opacity="0.00994"/><stop offset="0.8750" stop-color="#ff0000" stop-opacity="0.00816"/><stop offset="0.9000" stop-color="#ff0000" stop-opacity="0.00669"/><stop offset="0.9250" stop-color="#ff0000" stop-opacity="0.00548"/><stop offset="0.9500" stop-color="#ff0000" stop-opacity="0.00448"/><stop offset="0.9750" stop-color="#ff0000" stop-opacity="0.00367"/><stop offset="1.0000" stop-color="#ff0000" stop-opacity="0.00000"/></radialGradient>
<radialGradient id="gRp1"><stop offset="0.0000" stop-color="#ff0000" stop-opacity="1.00000"/><stop offset="0.0250" stop-color="#ff0000" stop-opacity="0.98734"/><stop offset="0.0500" stop-color="#ff0000" stop-opacity="0.95090"/><stop offset="0.0750" stop-color="#ff0000" stop-opacity="0.89491"/><stop offset="0.1000" stop-color="#ff0000" stop-opacity="0.82516"/><stop offset="0.1250" stop-color="#ff0000" stop-opacity="0.74770"/><stop offset="0.1500" stop-color="#ff0000" stop-opacity="0.66787"/><stop offset="0.1750" stop-color="#ff0000" stop-opacity="0.58977"/><stop offset="0.2000" stop-color="#ff0000" stop-opacity="0.51617"/><stop offset="0.2250" stop-color="#ff0000" stop-opacity="0.44867"/><stop offset="0.2500" stop-color="#ff0000" stop-opacity="0.38798"/><stop offset="0.2750" stop-color="#ff0000" stop-opacity="0.33420"/><stop offset="0.3000" stop-color="#ff0000" stop-opacity="0.28704"/><stop offset="0.3250" stop-color="#ff0000" stop-opacity="0.24602"/><stop offset="0.3500" stop-color="#ff0000" stop-opacity="0.21053"/><stop offset="0.3750" stop-color="#ff0000" stop-opacity="0.17995"/><stop offset="0.4000" stop-color="#ff0000" stop-opacity="0.15369"/><stop offset="0.4250" stop-color="#ff0000" stop-opacity="0.13118"/><stop offset="0.4500" stop-color="#ff0000" stop-opacity="0.11192"/><stop offset="0.4750" stop-color="#ff0000" stop-opacity="0.09545"/><stop offset="0.5000" stop-color="#ff0000" stop-opacity="0.08139"/><stop offset="0.5250" stop-color="#ff0000" stop-opacity="0.06939"/><stop offset="0.5500" stop-color="#ff0000" stop-opacity="0.05915"/><stop offset="0.5750" stop-color="#ff0000" stop-opacity="0.05041"/><stop offset="0.6000" stop-color="#ff0000" stop-opacity="0.04297"/><stop offset="0.6250" stop-color="#ff0000" stop-opacity="0.03662"/><stop offset="0.6500" stop-color="#ff0000" stop-opacity="0.03121"/><stop offset="0.6750" stop-color="#ff0000" stop-opacity="0.02660"/><stop offset="0.7000" stop-color="#ff0000" stop-opacity="0.02266"/><stop offset="0.7250" stop-color="#ff0000" stop-opacity="0.01931"/><stop offset="0.7500" stop-color="#ff0000" stop-opacity="0.01646"/><stop offset="0.7750" stop-color="#ff0000" stop-opacity="0.01403"/><stop offset="0.8000" stop-color="#ff0000" stop-opacity="0.01195"/><stop offset="0.8250" stop-color="#ff0000" stop-opacity="0.01018"/><stop offset="0.8500" stop-color="#ff0000" stop-opacity="0.00868"/><stop offset="0.8750" stop-color="#ff0000" stop-opacity="0.00740"/><stop offset="0.9000" stop-color="#ff0000" stop-opacity="0.00630"/><stop offset="0.9250" stop-color="#ff0000" stop-opacity="0.00537"/><stop offset="0.9500" stop-color="#ff0000" stop-opacity="0.00458"/><stop offset="0.9750" stop-color="#ff0000" stop-opacity="0.00390"/><stop offset="1.0000" stop-color="#ff0000" stop-opacity="0.00000"/></radialGradient>
<radialGradient id="gGn0_5"><stop offset="0.0000" stop-color="#00ff00" stop-opacity="1.00000"/><stop offset="0.0250" stop-color="#00ff00" stop-opacity="0.97695"/><stop offset="0.0500" stop-color="#00ff00" stop-opacity="0.91458"/><stop offset="0.0750" stop-color="#00ff00" stop-opacity="0.82833"/><stop offset="0.1000" stop-color="#00ff00" stop-opacity="0.73352"/><stop offset="0.1250" stop-color="#00ff00" stop-opacity="0.64056"/><stop offset="0.1500" stop-color="#00ff00" stop-opacity="0.55484"/><stop offset="0.1750" stop-color="#00ff00" stop-opacity="0.47838"/><stop offset="0.2000" stop-color="#00ff00" stop-opacity="0.41140"/><stop offset="0.2250" stop-color="#00ff00" stop-opacity="0.35331"/><stop offset="0.2500" stop-color="#00ff00" stop-opacity="0.30318"/><stop offset="0.2750" stop-color="#00ff00" stop-opacity="0.26007"/><stop offset="0.3000" stop-color="#00ff00" stop-opacity="0.22303"/><stop offset="0.3250" stop-color="#00ff00" stop-opacity="0.19124"/><stop offset="0.3500" stop-color="#00ff00" stop-opacity="0.16398"/><stop offset="0.3750" stop-color="#00ff00" stop-opacity="0.14060"/><stop offset="0.4000" stop-color="#00ff00" stop-opacity="0.12054"/><stop offset="0.4250" stop-color="#00ff00" stop-opacity="0.10335"/><stop offset="0.4500" stop-color="#00ff00" stop-opacity="0.08861"/><stop offset="0.4750" stop-color="#00ff00" stop-opacity="0.07597"/><stop offset="0.5000" stop-color="#00ff00" stop-opacity="0.06514"/><stop offset="0.5250" stop-color="#00ff00" stop-opacity="0.05584"/><stop offset="0.5500" stop-color="#00ff00" stop-opacity="0.04788"/><stop offset="0.5750" stop-color="#00ff00" stop-opacity="0.04105"/><stop offset="0.6000" stop-color="#00ff00" stop-opacity="0.03519"/><stop offset="0.6250" stop-color="#00ff00" stop-opacity="0.03017"/><stop offset="0.6500" stop-color="#00ff00" stop-opacity="0.02587"/><stop offset="0.6750" stop-color="#00ff00" stop-opacity="0.02218"/><stop offset="0.7000" stop-color="#00ff00" stop-opacity="0.01902"/><stop offset="0.7250" stop-color="#00ff00" stop-opacity="0.01630"/><stop offset="0.7500" stop-color="#00ff00" stop-opacity="0.01398"/><stop offset="0.7750" stop-color="#00ff00" stop-opacity="0.01198"/><stop offset="0.8000" stop-color="#00ff00" stop-opacity="0.01028"/><stop offset="0.8250" stop-color="#00ff00" stop-opacity="0.00881"/><stop offset="0.8500" stop-color="#00ff00" stop-opacity="0.00755"/><stop offset="0.8750" stop-color="#00ff00" stop-opacity="0.00648"/><stop offset="0.9000" stop-color="#00ff00" stop-opacity="0.00555"/><stop offset="0.9250" stop-color="#00ff00" stop-opacity="0.00476"/><stop offset="0.9500" stop-color="#00ff00" stop-opacity="0.00408"/><stop offset="0.9750" stop-color="#00ff00" stop-opacity="0.00350"/><stop offset="1.0000" stop-color="#00ff00" stop-opacity="0.00000"/></radialGradient>
<radialGradient id="gGn0_6"><stop offset="0.0000" stop-color="#00ff00" stop-opacity="1.00000"/><stop offset="0.0250" stop-color="#00ff00" stop-opacity="0.98024"/><stop offset="0.0500" stop-color="#00ff00" stop-opacity="0.92557"/><stop offset="0.0750" stop-color="#00ff00" stop-opacity="0.84720"/><stop offset="0.1000" stop-color="#00ff00" stop-opacity="0.75761"/><stop offset="0.1250" stop-color="#00ff00" stop-opacity="0.66665"/><stop offset="0.1500" stop-color="#00ff00" stop-opacity="0.58043"/><stop offset="0.1750" stop-color="#00ff00" stop-opacity="0.50199"/><stop offset="0.2000" stop-color="#00ff00" stop-opacity="0.43236"/><stop offset="0.2250" stop-color="#00ff00" stop-opacity="0.37145"/><stop offset="0.2500" stop-color="#00ff00" stop-opacity="0.31863"/><stop offset="0.2750" stop-color="#00ff00" stop-opacity="0.27308"/><stop offset="0.3000" stop-color="#00ff00" stop-opacity="0.23391"/><stop offset="0.3250" stop-color="#00ff00" stop-opacity="0.20030"/><stop offset="0.3500" stop-color="#00ff00" stop-opacity="0.17148"/><stop offset="0.3750" stop-color="#00ff00" stop-opacity="0.14679"/><stop offset="0.4000" stop-color="#00ff00" stop-opacity="0.12565"/><stop offset="0.4250" stop-color="#00ff00" stop-opacity="0.10755"/><stop offset="0.4500" stop-color="#00ff00" stop-opacity="0.09205"/><stop offset="0.4750" stop-color="#00ff00" stop-opacity="0.07878"/><stop offset="0.5000" stop-color="#00ff00" stop-opacity="0.06743"/><stop offset="0.5250" stop-color="#00ff00" stop-opacity="0.05771"/><stop offset="0.5500" stop-color="#00ff00" stop-opacity="0.04940"/><stop offset="0.5750" stop-color="#00ff00" stop-opacity="0.04228"/><stop offset="0.6000" stop-color="#00ff00" stop-opacity="0.03618"/><stop offset="0.6250" stop-color="#00ff00" stop-opacity="0.03097"/><stop offset="0.6500" stop-color="#00ff00" stop-opacity="0.02651"/><stop offset="0.6750" stop-color="#00ff00" stop-opacity="0.02269"/><stop offset="0.7000" stop-color="#00ff00" stop-opacity="0.01942"/><stop offset="0.7250" stop-color="#00ff00" stop-opacity="0.01662"/><stop offset="0.7500" stop-color="#00ff00" stop-opacity="0.01422"/><stop offset="0.7750" stop-color="#00ff00" stop-opacity="0.01217"/><stop offset="0.8000" stop-color="#00ff00" stop-opacity="0.01042"/><stop offset="0.8250" stop-color="#00ff00" stop-opacity="0.00892"/><stop offset="0.8500" stop-color="#00ff00" stop-opacity="0.00763"/><stop offset="0.8750" stop-color="#00ff00" stop-opacity="0.00653"/><stop offset="0.9000" stop-color="#00ff00" stop-opacity="0.00559"/><stop offset="0.9250" stop-color="#00ff00" stop-opacity="0.00479"/><stop offset="0.9500" stop-color="#00ff00" stop-opacity="0.00410"/><stop offset="0.9750" stop-color="#00ff00" stop-opacity="0.00351"/><stop offset="1.0000" stop-color="#00ff00" stop-opacity="0.00000"/></radialGradient>
<radialGradient id="gGn0_7"><stop offset="0.0000" stop-color="#00ff00" stop-opacity="1.00000"/><stop offset="0.0250" stop-color="#00ff00" stop-opacity="0.98261"/><stop offset="0.0500" stop-color="#00ff00" stop-opacity="0.93381"/><stop offset="0.0750" stop-color="#00ff00" stop-opacity="0.86208"/><stop offset="0.1000" stop-color="#00ff00" stop-opacity="0.77765"/><stop offset="0.1250" stop-color="#00ff00" stop-opacity="0.68944"/><stop offset="0.1500" stop-color="#00ff00" stop-opacity="0.60376"/><stop offset="0.1750" stop-color="#00ff00" stop-opacity="0.52426"/><stop offset="0.2000" stop-color="#00ff00" stop-opacity="0.45267"/><stop offset="0.2250" stop-color="#00ff00" stop-opacity="0.38940"/><stop offset="0.2500" stop-color="#00ff00" stop-opacity="0.33416"/><stop offset="0.2750" stop-color="#00ff00" stop-opacity="0.28630"/><stop offset="0.3000" stop-color="#00ff00" stop-opacity="0.24506"/><stop offset="0.3250" stop-color="#00ff00" stop-opacity="0.20961"/><stop offset="0.3500" stop-color="#00ff00" stop-opacity="0.17923"/><stop offset="0.3750" stop-color="#00ff00" stop-opacity="0.15320"/><stop offset="0.4000" stop-color="#00ff00" stop-opacity="0.13093"/><stop offset="0.4250" stop-color="#00ff00" stop-opacity="0.11189"/><stop offset="0.4500" stop-color="#00ff00" stop-opacity="0.09561"/><stop offset="0.4750" stop-color="#00ff00" stop-opacity="0.08170"/><stop offset="0.5000" stop-color="#00ff00" stop-opacity="0.06980"/><stop offset="0.5250" stop-color="#00ff00" stop-opacity="0.05964"/><stop offset="0.5500" stop-color="#00ff00" stop-opacity="0.05096"/><stop offset="0.5750" stop-color="#00ff00" stop-opacity="0.04354"/><stop offset="0.6000" stop-color="#00ff00" stop-opacity="0.03720"/><stop offset="0.6250" stop-color="#00ff00" stop-opacity="0.03178"/><stop offset="0.6500" stop-color="#00ff00" stop-opacity="0.02716"/><stop offset="0.6750" stop-color="#00ff00" stop-opacity="0.02320"/><stop offset="0.7000" stop-color="#00ff00" stop-opacity="0.01982"/><stop offset="0.7250" stop-color="#00ff00" stop-opacity="0.01694"/><stop offset="0.7500" stop-color="#00ff00" stop-opacity="0.01447"/><stop offset="0.7750" stop-color="#00ff00" stop-opacity="0.01236"/><stop offset="0.8000" stop-color="#00ff00" stop-opacity="0.01056"/><stop offset="0.8250" stop-color="#00ff00" stop-opacity="0.00903"/><stop offset="0.8500" stop-color="#00ff00" stop-opacity="0.00771"/><stop offset="0.8750" stop-color="#00ff00" stop-opacity="0.00659"/><stop offset="0.9000" stop-color="#00ff00" stop-opacity="0.00563"/><stop offset="0.9250" stop-color="#00ff00" stop-opacity="0.00481"/><stop offset="0.9500" stop-color="#00ff00" stop-opacity="0.00411"/><stop offset="0.9750" stop-color="#00ff00" stop-opacity="0.00351"/><stop offset="1.0000" stop-color="#00ff00" stop-opacity="0.00000"/></radialGradient>
<radialGradient id="gGn0_8"><stop offset="0.0000" stop-color="#00ff00" stop-opacity="1.00000"/><stop offset="0.0250" stop-color="#00ff00" stop-opacity="0.98441"/><stop offset="0.0500" stop-color="#00ff00" stop-opacity="0.94019"/><stop offset="0.0750" stop-color="#00ff00" stop-opacity="0.87402"/><stop offset="0.1000" stop-color="#00ff00" stop-opacity="0.79438"/><stop offset="0.1250" stop-color="#00ff00" stop-opacity="0.70923"/><stop offset="0.1500" stop-color="#00ff00" stop-opacity="0.62474"/><stop offset="0.1750" stop-color="#00ff00" stop-opacity="0.54494"/><stop offset="0.2000" stop-color="#00ff00" stop-opacity="0.47201"/><stop offset="0.2250" stop-color="#00ff00" stop-opacity="0.40685"/><stop offset="0.2500" stop-color="#00ff00" stop-opacity="0.34950"/><stop offset="0.2750" stop-color="#00ff00" stop-opacity="0.29954"/><stop offset="0.3000" stop-color="#00ff00" stop-opacity="0.25632"/><stop offset="0.3250" stop-color="#00ff00" stop-opacity="0.21910"/><stop offset="0.3500" stop-color="#00ff00" stop-opacity="0.18716"/><stop offset="0.3750" stop-color="#00ff00" stop-opacity="0.15979"/><stop offset="0.4000" stop-color="#00ff00" stop-opacity="0.13638"/><stop offset="0.4250" stop-color="#00ff00" stop-opacity="0.11637"/><stop offset="0.4500" stop-color="#00ff00" stop-opacity="0.09929"/><stop offset="0.4750" stop-color="#00ff00" stop-opacity="0.08470"/><stop offset="0.5000" stop-color="#00ff00" stop-opacity="0.07225"/><stop offset="0.5250" stop-color="#00ff00" stop-opacity="0.06163"/><stop offset="0.5500" stop-color="#00ff00" stop-opacity="0.05257"/><stop offset="0.5750" stop-color="#00ff00" stop-opacity="0.04484"/><stop offset="0.6000" stop-color="#00ff00" stop-opacity="0.03825"/><stop offset="0.6250" stop-color="#00ff00" stop-opacity="0.03262"/><stop offset="0.6500" stop-color="#00ff00" stop-opacity="0.02782"/><stop offset="0.6750" stop-color="#00ff00" stop-opacity="0.02373"/><stop offset="0.7000" stop-color="#00ff00" stop-opacity="0.02024"/><stop offset="0.7250" stop-color="#00ff00" stop-opacity="0.01726"/><stop offset="0.7500" stop-color="#00ff00" stop-opacity="0.01472"/><stop offset="0.7750" stop-color="#00ff00" stop-opacity="0.01256"/><stop offset="0.8000" stop-color="#00ff00" stop-opacity="0.01071"/><stop offset="0.8250" stop-color="#00ff00" stop-opacity="0.00914"/><stop offset="0.8500" stop-color="#00ff00" stop-opacity="0.00779"/><stop offset="0.8750" stop-color="#00ff00" stop-opacity="0.00665"/><stop offset="0.9000" stop-color="#00ff00" stop-opacity="0.00567"/><stop offset="0.9250" stop-color="#00ff00" stop-opacity="0.00484"/><stop offset="0.9500" stop-color="#00ff00" stop-opacity="0.00412"/><stop offset="0.9750" stop-color="#00ff00" stop-opacity="0.00352"/><stop offset="1.0000" stop-color="#00ff00" stop-opacity="0.00000"/></radialGradient>
<radialGradient id="gGn0_87"><stop offset="0.0000" stop-color="#00ff00" stop-opacity="1.00000"/><stop offset="0.0250" stop-color="#00ff00" stop-opacity="0.98542"/><stop offset="0.0500" stop-color="#00ff00" stop-opacity="0.94385"/><stop offset="0.0750" stop-color="#00ff00" stop-opacity="0.88104"/><stop offset="0.1000" stop-color="#00ff00" stop-opacity="0.80447"/><stop offset="0.1250" stop-color="#00ff00" stop-opacity="0.72151"/><stop offset="0.1500" stop-color="#00ff00" stop-opacity="0.63810"/><stop offset="0.1750" stop-color="#00ff00" stop-opacity="0.55841"/><stop offset="0.2000" stop-color="#00ff00" stop-opacity="0.48488"/><stop offset="0.2250" stop-color="#00ff00" stop-opacity="0.41866"/><stop offset="0.2500" stop-color="#00ff00" stop-opacity="0.36003"/><stop offset="0.2750" stop-color="#00ff00" stop-opacity="0.30873"/><stop offset="0.3000" stop-color="#00ff00" stop-opacity="0.26421"/><stop offset="0.3250" stop-color="#00ff00" stop-opacity="0.22580"/><stop offset="0.3500" stop-color="#00ff00" stop-opacity="0.19278"/><stop offset="0.3750" stop-color="#00ff00" stop-opacity="0.16448"/><stop offset="0.4000" stop-color="#00ff00" stop-opacity="0.14026"/><stop offset="0.4250" stop-color="#00ff00" stop-opacity="0.11958"/><stop offset="0.4500" stop-color="#00ff00" stop-opacity="0.10192"/><stop offset="0.4750" stop-color="#00ff00" stop-opacity="0.08685"/><stop offset="0.5000" stop-color="#00ff00" stop-opacity="0.07401"/><stop offset="0.5250" stop-color="#00ff00" stop-opacity="0.06306"/><stop offset="0.5500" stop-color="#00ff00" stop-opacity="0.05372"/><stop offset="0.5750" stop-color="#00ff00" stop-opacity="0.04577"/><stop offset="0.6000" stop-color="#00ff00" stop-opacity="0.03899"/><stop offset="0.6250" stop-color="#00ff00" stop-opacity="0.03322"/><stop offset="0.6500" stop-color="#00ff00" stop-opacity="0.02830"/><stop offset="0.6750" stop-color="#00ff00" stop-opacity="0.02411"/><stop offset="0.7000" stop-color="#00ff00" stop-opacity="0.02054"/><stop offset="0.7250" stop-color="#00ff00" stop-opacity="0.01750"/><stop offset="0.7500" stop-color="#00ff00" stop-opacity="0.01490"/><stop offset="0.7750" stop-color="#00ff00" stop-opacity="0.01270"/><stop offset="0.8000" stop-color="#00ff00" stop-opacity="0.01082"/><stop offset="0.8250" stop-color="#00ff00" stop-opacity="0.00921"/><stop offset="0.8500" stop-color="#00ff00" stop-opacity="0.00785"/><stop offset="0.8750" stop-color="#00ff00" stop-opacity="0.00669"/><stop offset="0.9000" stop-color="#00ff00" stop-opacity="0.00570"/><stop offset="0.9250" stop-color="#00ff00" stop-opacity="0.00485"/><stop offset="0.9500" stop-color="#00ff00" stop-opacity="0.00413"/><stop offset="0.9750" stop-color="#00ff00" stop-opacity="0.00352"/><stop offset="1.0000" stop-color="#00ff00" stop-opacity="0.00000"/></radialGradient>
<radialGradient id="gGn1"><stop offset="0.0000" stop-color="#00ff00" stop-opacity="1.00000"/><stop offset="0.0250" stop-color="#00ff00" stop-opacity="0.98693"/><stop offset="0.0500" stop-color="#00ff00" stop-opacity="0.94938"/><stop offset="0.0750" stop-color="#00ff00" stop-opacity="0.89183"/><stop offset="0.1000" stop-color="#00ff00" stop-opacity="0.82038"/><stop offset="0.1250" stop-color="#00ff00" stop-opacity="0.74134"/><stop offset="0.1500" stop-color="#00ff00" stop-opacity="0.66025"/><stop offset="0.1750" stop-color="#00ff00" stop-opacity="0.58128"/><stop offset="0.2000" stop-color="#00ff00" stop-opacity="0.50718"/><stop offset="0.2250" stop-color="#00ff00" stop-opacity="0.43951"/><stop offset="0.2500" stop-color="#00ff00" stop-opacity="0.37892"/><stop offset="0.2750" stop-color="#00ff00" stop-opacity="0.32544"/><stop offset="0.3000" stop-color="#00ff00" stop-opacity="0.27872"/><stop offset="0.3250" stop-color="#00ff00" stop-opacity="0.23821"/><stop offset="0.3500" stop-color="#00ff00" stop-opacity="0.20328"/><stop offset="0.3750" stop-color="#00ff00" stop-opacity="0.17329"/><stop offset="0.4000" stop-color="#00ff00" stop-opacity="0.14760"/><stop offset="0.4250" stop-color="#00ff00" stop-opacity="0.12564"/><stop offset="0.4500" stop-color="#00ff00" stop-opacity="0.10691"/><stop offset="0.4750" stop-color="#00ff00" stop-opacity="0.09094"/><stop offset="0.5000" stop-color="#00ff00" stop-opacity="0.07734"/><stop offset="0.5250" stop-color="#00ff00" stop-opacity="0.06577"/><stop offset="0.5500" stop-color="#00ff00" stop-opacity="0.05592"/><stop offset="0.5750" stop-color="#00ff00" stop-opacity="0.04754"/><stop offset="0.6000" stop-color="#00ff00" stop-opacity="0.04041"/><stop offset="0.6250" stop-color="#00ff00" stop-opacity="0.03435"/><stop offset="0.6500" stop-color="#00ff00" stop-opacity="0.02920"/><stop offset="0.6750" stop-color="#00ff00" stop-opacity="0.02482"/><stop offset="0.7000" stop-color="#00ff00" stop-opacity="0.02110"/><stop offset="0.7250" stop-color="#00ff00" stop-opacity="0.01793"/><stop offset="0.7500" stop-color="#00ff00" stop-opacity="0.01524"/><stop offset="0.7750" stop-color="#00ff00" stop-opacity="0.01296"/><stop offset="0.8000" stop-color="#00ff00" stop-opacity="0.01101"/><stop offset="0.8250" stop-color="#00ff00" stop-opacity="0.00936"/><stop offset="0.8500" stop-color="#00ff00" stop-opacity="0.00796"/><stop offset="0.8750" stop-color="#00ff00" stop-opacity="0.00676"/><stop offset="0.9000" stop-color="#00ff00" stop-opacity="0.00575"/><stop offset="0.9250" stop-color="#00ff00" stop-opacity="0.00489"/><stop offset="0.9500" stop-color="#00ff00" stop-opacity="0.00415"/><stop offset="0.9750" stop-color="#00ff00" stop-opacity="0.00353"/><stop offset="1.0000" stop-color="#00ff00" stop-opacity="0.00000"/></radialGradient>
<radialGradient id="gGn1_2"><stop offset="0.0000" stop-color="#00ff00" stop-opacity="1.00000"/><stop offset="0.0250" stop-color="#00ff00" stop-opacity="0.98862"/><stop offset="0.0500" stop-color="#00ff00" stop-opacity="0.95565"/><stop offset="0.0750" stop-color="#00ff00" stop-opacity="0.90436"/><stop offset="0.1000" stop-color="#00ff00" stop-opacity="0.83939"/><stop offset="0.1250" stop-color="#00ff00" stop-opacity="0.76585"/><stop offset="0.1500" stop-color="#00ff00" stop-opacity="0.68853"/><stop offset="0.1750" stop-color="#00ff00" stop-opacity="0.61142"/><stop offset="0.2000" stop-color="#00ff00" stop-opacity="0.53747"/><stop offset="0.2250" stop-color="#00ff00" stop-opacity="0.46861"/><stop offset="0.2500" stop-color="#00ff00" stop-opacity="0.40592"/><stop offset="0.2750" stop-color="#00ff00" stop-opacity="0.34982"/><stop offset="0.3000" stop-color="#00ff00" stop-opacity="0.30026"/><stop offset="0.3250" stop-color="#00ff00" stop-opacity="0.25693"/><stop offset="0.3500" stop-color="#00ff00" stop-opacity="0.21932"/><stop offset="0.3750" stop-color="#00ff00" stop-opacity="0.18687"/><stop offset="0.4000" stop-color="#00ff00" stop-opacity="0.15900"/><stop offset="0.4250" stop-color="#00ff00" stop-opacity="0.13514"/><stop offset="0.4500" stop-color="#00ff00" stop-opacity="0.11477"/><stop offset="0.4750" stop-color="#00ff00" stop-opacity="0.09740"/><stop offset="0.5000" stop-color="#00ff00" stop-opacity="0.08263"/><stop offset="0.5250" stop-color="#00ff00" stop-opacity="0.07007"/><stop offset="0.5500" stop-color="#00ff00" stop-opacity="0.05940"/><stop offset="0.5750" stop-color="#00ff00" stop-opacity="0.05035"/><stop offset="0.6000" stop-color="#00ff00" stop-opacity="0.04267"/><stop offset="0.6250" stop-color="#00ff00" stop-opacity="0.03615"/><stop offset="0.6500" stop-color="#00ff00" stop-opacity="0.03063"/><stop offset="0.6750" stop-color="#00ff00" stop-opacity="0.02595"/><stop offset="0.7000" stop-color="#00ff00" stop-opacity="0.02199"/><stop offset="0.7250" stop-color="#00ff00" stop-opacity="0.01862"/><stop offset="0.7500" stop-color="#00ff00" stop-opacity="0.01578"/><stop offset="0.7750" stop-color="#00ff00" stop-opacity="0.01336"/><stop offset="0.8000" stop-color="#00ff00" stop-opacity="0.01132"/><stop offset="0.8250" stop-color="#00ff00" stop-opacity="0.00959"/><stop offset="0.8500" stop-color="#00ff00" stop-opacity="0.00812"/><stop offset="0.8750" stop-color="#00ff00" stop-opacity="0.00688"/><stop offset="0.9000" stop-color="#00ff00" stop-opacity="0.00583"/><stop offset="0.9250" stop-color="#00ff00" stop-opacity="0.00494"/><stop offset="0.9500" stop-color="#00ff00" stop-opacity="0.00418"/><stop offset="0.9750" stop-color="#00ff00" stop-opacity="0.00354"/><stop offset="1.0000" stop-color="#00ff00" stop-opacity="0.00000"/></radialGradient>
<radialGradient id="gGn1_36"><stop offset="0.0000" stop-color="#00ff00" stop-opacity="1.00000"/><stop offset="0.0250" stop-color="#00ff00" stop-opacity="0.98961"/><stop offset="0.0500" stop-color="#00ff00" stop-opacity="0.95937"/><stop offset="0.0750" stop-color="#00ff00" stop-opacity="0.91195"/><stop offset="0.1000" stop-color="#00ff00" stop-opacity="0.85118"/><stop offset="0.1250" stop-color="#00ff00" stop-opacity="0.78145"/><stop offset="0.1500" stop-color="#00ff00" stop-opacity="0.70705"/><stop offset="0.1750" stop-color="#00ff00" stop-opacity="0.63173"/><stop offset="0.2000" stop-color="#00ff00" stop-opacity="0.55844"/><stop offset="0.2250" stop-color="#00ff00" stop-opacity="0.48927"/><stop offset="0.2500" stop-color="#00ff00" stop-opacity="0.42554"/><stop offset="0.2750" stop-color="#00ff00" stop-opacity="0.36790"/><stop offset="0.3000" stop-color="#00ff00" stop-opacity="0.31654"/><stop offset="0.3250" stop-color="#00ff00" stop-opacity="0.27129"/><stop offset="0.3500" stop-color="#00ff00" stop-opacity="0.23180"/><stop offset="0.3750" stop-color="#00ff00" stop-opacity="0.19757"/><stop offset="0.4000" stop-color="#00ff00" stop-opacity="0.16806"/><stop offset="0.4250" stop-color="#00ff00" stop-opacity="0.14275"/><stop offset="0.4500" stop-color="#00ff00" stop-opacity="0.12110"/><stop offset="0.4750" stop-color="#00ff00" stop-opacity="0.10264"/><stop offset="0.5000" stop-color="#00ff00" stop-opacity="0.08693"/><stop offset="0.5250" stop-color="#00ff00" stop-opacity="0.07358"/><stop offset="0.5500" stop-color="#00ff00" stop-opacity="0.06225"/><stop offset="0.5750" stop-color="#00ff00" stop-opacity="0.05265"/><stop offset="0.6000" stop-color="#00ff00" stop-opacity="0.04452"/><stop offset="0.6250" stop-color="#00ff00" stop-opacity="0.03763"/><stop offset="0.6500" stop-color="#00ff00" stop-opacity="0.03181"/><stop offset="0.6750" stop-color="#00ff00" stop-opacity="0.02688"/><stop offset="0.7000" stop-color="#00ff00" stop-opacity="0.02271"/><stop offset="0.7250" stop-color="#00ff00" stop-opacity="0.01919"/><stop offset="0.7500" stop-color="#00ff00" stop-opacity="0.01621"/><stop offset="0.7750" stop-color="#00ff00" stop-opacity="0.01370"/><stop offset="0.8000" stop-color="#00ff00" stop-opacity="0.01157"/><stop offset="0.8250" stop-color="#00ff00" stop-opacity="0.00978"/><stop offset="0.8500" stop-color="#00ff00" stop-opacity="0.00826"/><stop offset="0.8750" stop-color="#00ff00" stop-opacity="0.00698"/><stop offset="0.9000" stop-color="#00ff00" stop-opacity="0.00589"/><stop offset="0.9250" stop-color="#00ff00" stop-opacity="0.00498"/><stop offset="0.9500" stop-color="#00ff00" stop-opacity="0.00420"/><stop offset="0.9750" stop-color="#00ff00" stop-opacity="0.00355"/><stop offset="1.0000" stop-color="#00ff00" stop-opacity="0.00000"/></radialGradient>
<radialGradient id="gGn1_5"><stop offset="0.0000" stop-color="#00ff00" stop-opacity="1.00000"/><stop offset="0.0250" stop-color="#00ff00" stop-opacity="0.99030"/><stop offset="0.0500" stop-color="#00ff00" stop-opacity="0.96199"/><stop offset="0.0750" stop-color="#00ff00" stop-opacity="0.91734"/><stop offset="0.1000" stop-color="#00ff00" stop-opacity="0.85967"/><stop offset="0.1250" stop-color="#00ff00" stop-opacity="0.79288"/><stop offset="0.1500" stop-color="#00ff00" stop-opacity="0.72087"/><stop offset="0.1750" stop-color="#00ff00" stop-opacity="0.64717"/><stop offset="0.2000" stop-color="#00ff00" stop-opacity="0.57468"/><stop offset="0.2250" stop-color="#00ff00" stop-opacity="0.50556"/><stop offset="0.2500" stop-color="#00ff00" stop-opacity="0.44126"/><stop offset="0.2750" stop-color="#00ff00" stop-opacity="0.38261"/><stop offset="0.3000" stop-color="#00ff00" stop-opacity="0.32996"/><stop offset="0.3250" stop-color="#00ff00" stop-opacity="0.28328"/><stop offset="0.3500" stop-color="#00ff00" stop-opacity="0.24232"/><stop offset="0.3750" stop-color="#00ff00" stop-opacity="0.20667"/><stop offset="0.4000" stop-color="#00ff00" stop-opacity="0.17585"/><stop offset="0.4250" stop-color="#00ff00" stop-opacity="0.14933"/><stop offset="0.4500" stop-color="#00ff00" stop-opacity="0.12661"/><stop offset="0.4750" stop-color="#00ff00" stop-opacity="0.10722"/><stop offset="0.5000" stop-color="#00ff00" stop-opacity="0.09070"/><stop offset="0.5250" stop-color="#00ff00" stop-opacity="0.07667"/><stop offset="0.5500" stop-color="#00ff00" stop-opacity="0.06477"/><stop offset="0.5750" stop-color="#00ff00" stop-opacity="0.05469"/><stop offset="0.6000" stop-color="#00ff00" stop-opacity="0.04616"/><stop offset="0.6250" stop-color="#00ff00" stop-opacity="0.03894"/><stop offset="0.6500" stop-color="#00ff00" stop-opacity="0.03285"/><stop offset="0.6750" stop-color="#00ff00" stop-opacity="0.02770"/><stop offset="0.7000" stop-color="#00ff00" stop-opacity="0.02336"/><stop offset="0.7250" stop-color="#00ff00" stop-opacity="0.01969"/><stop offset="0.7500" stop-color="#00ff00" stop-opacity="0.01660"/><stop offset="0.7750" stop-color="#00ff00" stop-opacity="0.01399"/><stop offset="0.8000" stop-color="#00ff00" stop-opacity="0.01179"/><stop offset="0.8250" stop-color="#00ff00" stop-opacity="0.00994"/><stop offset="0.8500" stop-color="#00ff00" stop-opacity="0.00838"/><stop offset="0.8750" stop-color="#00ff00" stop-opacity="0.00706"/><stop offset="0.9000" stop-color="#00ff00" stop-opacity="0.00595"/><stop offset="0.9250" stop-color="#00ff00" stop-opacity="0.00501"/><stop offset="0.9500" stop-color="#00ff00" stop-opacity="0.00422"/><stop offset="0.9750" stop-color="#00ff00" stop-opacity="0.00356"/><stop offset="1.0000" stop-color="#00ff00" stop-opacity="0.00000"/></radialGradient>
<radialGradient id="gGn1_864"><stop offset="0.0000" stop-color="#00ff00" stop-opacity="1.00000"/><stop offset="0.0250" stop-color="#00ff00" stop-opacity="0.99160"/><stop offset="0.0500" stop-color="#00ff00" stop-opacity="0.96695"/><stop offset="0.0750" stop-color="#00ff00" stop-opacity="0.92769"/><stop offset="0.1000" stop-color="#00ff00" stop-opacity="0.87627"/><stop offset="0.1250" stop-color="#00ff00" stop-opacity="0.81565"/><stop offset="0.1500" stop-color="#00ff00" stop-opacity="0.74899"/><stop offset="0.1750" stop-color="#00ff00" stop-opacity="0.67931"/><stop offset="0.2000" stop-color="#00ff00" stop-opacity="0.60927"/><stop offset="0.2250" stop-color="#00ff00" stop-opacity="0.54105"/><stop offset="0.2500" stop-color="#00ff00" stop-opacity="0.47628"/><stop offset="0.2750" stop-color="#00ff00" stop-opacity="0.41608"/><stop offset="0.3000" stop-color="#00ff00" stop-opacity="0.36109"/><stop offset="0.3250" stop-color="#00ff00" stop-opacity="0.31160"/><stop offset="0.3500" stop-color="#00ff00" stop-opacity="0.26759"/><stop offset="0.3750" stop-color="#00ff00" stop-opacity="0.22885"/><stop offset="0.4000" stop-color="#00ff00" stop-opacity="0.19504"/><stop offset="0.4250" stop-color="#00ff00" stop-opacity="0.16574"/><stop offset="0.4500" stop-color="#00ff00" stop-opacity="0.14049"/><stop offset="0.4750" stop-color="#00ff00" stop-opacity="0.11885"/><stop offset="0.5000" stop-color="#00ff00" stop-opacity="0.10036"/><stop offset="0.5250" stop-color="#00ff00" stop-opacity="0.08463"/><stop offset="0.5500" stop-color="#00ff00" stop-opacity="0.07128"/><stop offset="0.5750" stop-color="#00ff00" stop-opacity="0.05998"/><stop offset="0.6000" stop-color="#00ff00" stop-opacity="0.05042"/><stop offset="0.6250" stop-color="#00ff00" stop-opacity="0.04236"/><stop offset="0.6500" stop-color="#00ff00" stop-opacity="0.03557"/><stop offset="0.6750" stop-color="#00ff00" stop-opacity="0.02985"/><stop offset="0.7000" stop-color="#00ff00" stop-opacity="0.02504"/><stop offset="0.7250" stop-color="#00ff00" stop-opacity="0.02100"/><stop offset="0.7500" stop-color="#00ff00" stop-opacity="0.01761"/><stop offset="0.7750" stop-color="#00ff00" stop-opacity="0.01476"/><stop offset="0.8000" stop-color="#00ff00" stop-opacity="0.01237"/><stop offset="0.8250" stop-color="#00ff00" stop-opacity="0.01037"/><stop offset="0.8500" stop-color="#00ff00" stop-opacity="0.00869"/><stop offset="0.8750" stop-color="#00ff00" stop-opacity="0.00728"/><stop offset="0.9000" stop-color="#00ff00" stop-opacity="0.00610"/><stop offset="0.9250" stop-color="#00ff00" stop-opacity="0.00511"/><stop offset="0.9500" stop-color="#00ff00" stop-opacity="0.00428"/><stop offset="0.9750" stop-color="#00ff00" stop-opacity="0.00358"/><stop offset="1.0000" stop-color="#00ff00" stop-opacity="0.00000"/></radialGradient>
<radialGradient id="gGn2"><stop offset="0.0000" stop-color="#00ff00" stop-opacity="1.00000"/><stop offset="0.0250" stop-color="#00ff00" stop-opacity="0.99196"/><stop offset="0.0500" stop-color="#00ff00" stop-opacity="0.96834"/><stop offset="0.0750" stop-color="#00ff00" stop-opacity="0.93061"/><stop offset="0.1000" stop-color="#00ff00" stop-opacity="0.88101"/><stop offset="0.1250" stop-color="#00ff00" stop-opacity="0.82226"/><stop offset="0.1500" stop-color="#00ff00" stop-opacity="0.75730"/><stop offset="0.1750" stop-color="#00ff00" stop-opacity="0.68899"/><stop offset="0.2000" stop-color="#00ff00" stop-opacity="0.61989"/><stop offset="0.2250" stop-color="#00ff00" stop-opacity="0.55215"/><stop offset="0.2500" stop-color="#00ff00" stop-opacity="0.48745"/><stop offset="0.2750" stop-color="#00ff00" stop-opacity="0.42694"/><stop offset="0.3000" stop-color="#00ff00" stop-opacity="0.37137"/><stop offset="0.3250" stop-color="#00ff00" stop-opacity="0.32110"/><stop offset="0.3500" stop-color="#00ff00" stop-opacity="0.27619"/><stop offset="0.3750" stop-color="#00ff00" stop-opacity="0.23650"/><stop offset="0.4000" stop-color="#00ff00" stop-opacity="0.20174"/><stop offset="0.4250" stop-color="#00ff00" stop-opacity="0.17153"/><stop offset="0.4500" stop-color="#00ff00" stop-opacity="0.14544"/><stop offset="0.4750" stop-color="#00ff00" stop-opacity="0.12302"/><stop offset="0.5000" stop-color="#00ff00" stop-opacity="0.10386"/><stop offset="0.5250" stop-color="#00ff00" stop-opacity="0.08753"/><stop offset="0.5500" stop-color="#00ff00" stop-opacity="0.07366"/><stop offset="0.5750" stop-color="#00ff00" stop-opacity="0.06192"/><stop offset="0.6000" stop-color="#00ff00" stop-opacity="0.05200"/><stop offset="0.6250" stop-color="#00ff00" stop-opacity="0.04363"/><stop offset="0.6500" stop-color="#00ff00" stop-opacity="0.03658"/><stop offset="0.6750" stop-color="#00ff00" stop-opacity="0.03065"/><stop offset="0.7000" stop-color="#00ff00" stop-opacity="0.02567"/><stop offset="0.7250" stop-color="#00ff00" stop-opacity="0.02149"/><stop offset="0.7500" stop-color="#00ff00" stop-opacity="0.01799"/><stop offset="0.7750" stop-color="#00ff00" stop-opacity="0.01505"/><stop offset="0.8000" stop-color="#00ff00" stop-opacity="0.01259"/><stop offset="0.8250" stop-color="#00ff00" stop-opacity="0.01053"/><stop offset="0.8500" stop-color="#00ff00" stop-opacity="0.00880"/><stop offset="0.8750" stop-color="#00ff00" stop-opacity="0.00736"/><stop offset="0.9000" stop-color="#00ff00" stop-opacity="0.00615"/><stop offset="0.9250" stop-color="#00ff00" stop-opacity="0.00514"/><stop offset="0.9500" stop-color="#00ff00" stop-opacity="0.00430"/><stop offset="0.9750" stop-color="#00ff00" stop-opacity="0.00359"/><stop offset="1.0000" stop-color="#00ff00" stop-opacity="0.00000"/></radialGradient>
<radialGradient id="gGn3_07"><stop offset="0.0000" stop-color="#00ff00" stop-opacity="1.00000"/><stop offset="0.0250" stop-color="#00ff00" stop-opacity="0.99364"/><stop offset="0.0500" stop-color="#00ff00" stop-opacity="0.97486"/><stop offset="0.0750" stop-color="#00ff00" stop-opacity="0.94450"/><stop offset="0.1000" stop-color="#00ff00" stop-opacity="0.90390"/><stop offset="0.1250" stop-color="#00ff00" stop-opacity="0.85478"/><stop offset="0.1500" stop-color="#00ff00" stop-opacity="0.79906"/><stop offset="0.1750" stop-color="#00ff00" stop-opacity="0.73879"/><stop offset="0.2000" stop-color="#00ff00" stop-opacity="0.67594"/><stop offset="0.2250" stop-color="#00ff00" stop-opacity="0.61235"/><stop offset="0.2500" stop-color="#00ff00" stop-opacity="0.54962"/><stop offset="0.2750" stop-color="#00ff00" stop-opacity="0.48907"/><stop offset="0.3000" stop-color="#00ff00" stop-opacity="0.43172"/><stop offset="0.3250" stop-color="#00ff00" stop-opacity="0.37828"/><stop offset="0.3500" stop-color="#00ff00" stop-opacity="0.32923"/><stop offset="0.3750" stop-color="#00ff00" stop-opacity="0.28476"/><stop offset="0.4000" stop-color="#00ff00" stop-opacity="0.24492"/><stop offset="0.4250" stop-color="#00ff00" stop-opacity="0.20957"/><stop offset="0.4500" stop-color="#00ff00" stop-opacity="0.17850"/><stop offset="0.4750" stop-color="#00ff00" stop-opacity="0.15141"/><stop offset="0.5000" stop-color="#00ff00" stop-opacity="0.12795"/><stop offset="0.5250" stop-color="#00ff00" stop-opacity="0.10776"/><stop offset="0.5500" stop-color="#00ff00" stop-opacity="0.09049"/><stop offset="0.5750" stop-color="#00ff00" stop-opacity="0.07578"/><stop offset="0.6000" stop-color="#00ff00" stop-opacity="0.06332"/><stop offset="0.6250" stop-color="#00ff00" stop-opacity="0.05279"/><stop offset="0.6500" stop-color="#00ff00" stop-opacity="0.04393"/><stop offset="0.6750" stop-color="#00ff00" stop-opacity="0.03649"/><stop offset="0.7000" stop-color="#00ff00" stop-opacity="0.03027"/><stop offset="0.7250" stop-color="#00ff00" stop-opacity="0.02508"/><stop offset="0.7500" stop-color="#00ff00" stop-opacity="0.02075"/><stop offset="0.7750" stop-color="#00ff00" stop-opacity="0.01715"/><stop offset="0.8000" stop-color="#00ff00" stop-opacity="0.01417"/><stop offset="0.8250" stop-color="#00ff00" stop-opacity="0.01169"/><stop offset="0.8500" stop-color="#00ff00" stop-opacity="0.00964"/><stop offset="0.8750" stop-color="#00ff00" stop-opacity="0.00795"/><stop offset="0.9000" stop-color="#00ff00" stop-opacity="0.00655"/><stop offset="0.9250" stop-color="#00ff00" stop-opacity="0.00539"/><stop offset="0.9500" stop-color="#00ff00" stop-opacity="0.00443"/><stop offset="0.9750" stop-color="#00ff00" stop-opacity="0.00365"/><stop offset="1.0000" stop-color="#00ff00" stop-opacity="0.00000"/></radialGradient>
<radialGradient id="gGn3_5"><stop offset="0.0000" stop-color="#00ff00" stop-opacity="1.00000"/><stop offset="0.0250" stop-color="#00ff00" stop-opacity="0.99401"/><stop offset="0.0500" stop-color="#00ff00" stop-opacity="0.97631"/><stop offset="0.0750" stop-color="#00ff00" stop-opacity="0.94762"/><stop offset="0.1000" stop-color="#00ff00" stop-opacity="0.90913"/><stop offset="0.1250" stop-color="#00ff00" stop-opacity="0.86234"/><stop offset="0.1500" stop-color="#00ff00" stop-opacity="0.80898"/><stop offset="0.1750" stop-color="#00ff00" stop-opacity="0.75089"/><stop offset="0.2000" stop-color="#00ff00" stop-opacity="0.68990"/><stop offset="0.2250" stop-color="#00ff00" stop-opacity="0.62773"/><stop offset="0.2500" stop-color="#00ff00" stop-opacity="0.56593"/><stop offset="0.2750" stop-color="#00ff00" stop-opacity="0.50581"/><stop offset="0.3000" stop-color="#00ff00" stop-opacity="0.44841"/><stop offset="0.3250" stop-color="#00ff00" stop-opacity="0.39451"/><stop offset="0.3500" stop-color="#00ff00" stop-opacity="0.34465"/><stop offset="0.3750" stop-color="#00ff00" stop-opacity="0.29913"/><stop offset="0.4000" stop-color="#00ff00" stop-opacity="0.25806"/><stop offset="0.4250" stop-color="#00ff00" stop-opacity="0.22139"/><stop offset="0.4500" stop-color="#00ff00" stop-opacity="0.18898"/><stop offset="0.4750" stop-color="#00ff00" stop-opacity="0.16056"/><stop offset="0.5000" stop-color="#00ff00" stop-opacity="0.13584"/><stop offset="0.5250" stop-color="#00ff00" stop-opacity="0.11449"/><stop offset="0.5500" stop-color="#00ff00" stop-opacity="0.09616"/><stop offset="0.5750" stop-color="#00ff00" stop-opacity="0.08050"/><stop offset="0.6000" stop-color="#00ff00" stop-opacity="0.06721"/><stop offset="0.6250" stop-color="#00ff00" stop-opacity="0.05596"/><stop offset="0.6500" stop-color="#00ff00" stop-opacity="0.04649"/><stop offset="0.6750" stop-color="#00ff00" stop-opacity="0.03855"/><stop offset="0.7000" stop-color="#00ff00" stop-opacity="0.03190"/><stop offset="0.7250" stop-color="#00ff00" stop-opacity="0.02635"/><stop offset="0.7500" stop-color="#00ff00" stop-opacity="0.02174"/><stop offset="0.7750" stop-color="#00ff00" stop-opacity="0.01790"/><stop offset="0.8000" stop-color="#00ff00" stop-opacity="0.01473"/><stop offset="0.8250" stop-color="#00ff00" stop-opacity="0.01211"/><stop offset="0.8500" stop-color="#00ff00" stop-opacity="0.00994"/><stop offset="0.8750" stop-color="#00ff00" stop-opacity="0.00816"/><stop offset="0.9000" stop-color="#00ff00" stop-opacity="0.00669"/><stop offset="0.9250" stop-color="#00ff00" stop-opacity="0.00548"/><stop offset="0.9500" stop-color="#00ff00" stop-opacity="0.00448"/><stop offset="0.9750" stop-color="#00ff00" stop-opacity="0.00367"/><stop offset="1.0000" stop-color="#00ff00" stop-opacity="0.00000"/></radialGradient>
<radialGradient id="gGp1"><stop offset="0.0000" stop-color="#00ff00" stop-opacity="1.00000"/><stop offset="0.0250" stop-color="#00ff00" stop-opacity="0.98734"/><stop offset="0.0500" stop-color="#00ff00" stop-opacity="0.95090"/><stop offset="0.0750" stop-color="#00ff00" stop-opacity="0.89491"/><stop offset="0.1000" stop-color="#00ff00" stop-opacity="0.82516"/><stop offset="0.1250" stop-color="#00ff00" stop-opacity="0.74770"/><stop offset="0.1500" stop-color="#00ff00" stop-opacity="0.66787"/><stop offset="0.1750" stop-color="#00ff00" stop-opacity="0.58977"/><stop offset="0.2000" stop-color="#00ff00" stop-opacity="0.51617"/><stop offset="0.2250" stop-color="#00ff00" stop-opacity="0.44867"/><stop offset="0.2500" stop-color="#00ff00" stop-opacity="0.38798"/><stop offset="0.2750" stop-color="#00ff00" stop-opacity="0.33420"/><stop offset="0.3000" stop-color="#00ff00" stop-opacity="0.28704"/><stop offset="0.3250" stop-color="#00ff00" stop-opacity="0.24602"/><stop offset="0.3500" stop-color="#00ff00" stop-opacity="0.21053"/><stop offset="0.3750" stop-color="#00ff00" stop-opacity="0.17995"/><stop offset="0.4000" stop-color="#00ff00" stop-opacity="0.15369"/><stop offset="0.4250" stop-color="#00ff00" stop-opacity="0.13118"/><stop offset="0.4500" stop-color="#00ff00" stop-opacity="0.11192"/><stop offset="0.4750" stop-color="#00ff00" stop-opacity="0.09545"/><stop offset="0.5000" stop-color="#00ff00" stop-opacity="0.08139"/><stop offset="0.5250" stop-color="#00ff00" stop-opacity="0.06939"/><stop offset="0.5500" stop-color="#00ff00" stop-opacity="0.05915"/><stop offset="0.5750" stop-color="#00ff00" stop-opacity="0.05041"/><stop offset="0.6000" stop-color="#00ff00" stop-opacity="0.04297"/><stop offset="0.6250" stop-color="#00ff00" stop-opacity="0.03662"/><stop offset="0.6500" stop-color="#00ff00" stop-opacity="0.03121"/><stop offset="0.6750" stop-color="#00ff00" stop-opacity="0.02660"/><stop offset="0.7000" stop-color="#00ff00" stop-opacity="0.02266"/><stop offset="0.7250" stop-color="#00ff00" stop-opacity="0.01931"/><stop offset="0.7500" stop-color="#00ff00" stop-opacity="0.01646"/><stop offset="0.7750" stop-color="#00ff00" stop-opacity="0.01403"/><stop offset="0.8000" stop-color="#00ff00" stop-opacity="0.01195"/><stop offset="0.8250" stop-color="#00ff00" stop-opacity="0.01018"/><stop offset="0.8500" stop-color="#00ff00" stop-opacity="0.00868"/><stop offset="0.8750" stop-color="#00ff00" stop-opacity="0.00740"/><stop offset="0.9000" stop-color="#00ff00" stop-opacity="0.00630"/><stop offset="0.9250" stop-color="#00ff00" stop-opacity="0.00537"/><stop offset="0.9500" stop-color="#00ff00" stop-opacity="0.00458"/><stop offset="0.9750" stop-color="#00ff00" stop-opacity="0.00390"/><stop offset="1.0000" stop-color="#00ff00" stop-opacity="0.00000"/></radialGradient>
<clipPath id="cp00"><rect x="100.6" y="0.8" width="321.1" height="320.0"/></clipPath>
<filter id="f00" filterUnits="userSpaceOnUse" x="98.6" y="-1.2" width="325.1" height="324.0" color-interpolation-filters="sRGB"><feColorMatrix type="matrix" values="0.64 -0.64 0 0 0.50196 0.64 -0.64 0 0 0.50196 0.64 -0.64 0 0 0.50196 0 0 0 0 1"/><feComponentTransfer><feFuncR type="table" tableValues="0.1725 0.1725 0.1725 0.1725 0.1725 0.1725 0.1725 0.1725 0.1725 0.1725 0.1725 0.1725 0.1725 0.1725 0.1725 0.1725 0.1725 0.1725 0.1725 0.1725 0.1725 0.1725 0.1725 0.1725 0.1725 0.1725 0.1725 0.1725 0.1725 0.1725 0.1725 0.1725 0.1725 0.1725 0.1725 0.1725 0.1725 0.1725 0.1725 0.1725 0.1725 0.1725 0.1758 0.1804 0.1850 0.1896 0.1942 0.1988 0.2035 0.2081 0.2127 0.2173 0.2220 0.2267 0.2314 0.2361 0.2408 0.2455 0.2502 0.2549 0.2595 0.2646 0.2704 0.2761 0.2819 0.2877 0.2934 0.2994 0.3065 0.3135 0.3206 0.3276 0.3347 0.3420 0.3529 0.3638 0.3747 0.3856 0.3965 0.4074 0.4263 0.4455 0.4647 0.4840 0.5032 0.5224 0.5481 0.5750 0.6019 0.6288 0.6557 0.6827 0.7137 0.7464 0.7791 0.8118 0.8352 0.8535 0.8717 0.8900 0.8991 0.9010 0.9030 0.9049 0.9068 0.9087 0.9105 0.9120 0.9136 0.9151 0.9166 0.9184 0.9207 0.9230 0.9254 0.9277 0.9297 0.9310 0.9323 0.9336 0.9348 0.9361 0.9373 0.9373 0.9373 0.9373 0.9373 0.9373 0.9373 0.9365 0.9357 0.9349 0.9342 0.9334 0.9313 0.9290 0.9266 0.9243 0.9220 0.9185 0.9146 0.9108 0.9070 0.9031 0.8993 0.8954 0.8916 0.8877 0.8839 0.8805 0.8774 0.8744 0.8713 0.8682 0.8647 0.8609 0.8571 0.8532 0.8494 0.8455 0.8417 0.8377 0.8333 0.8290 0.8247 0.8204 0.8160 0.8117 0.8074 0.8033 0.8002 0.7972 0.7941 0.7910 0.7879 0.7849 0.7818 0.7787 0.7756 0.7725 0.7699 0.7672 0.7645 0.7618 0.7591 0.7564 0.7537 0.7510 0.7483 0.7456 0.7368 0.7264 0.7160 0.7057 0.6953 0.6849 0.6745 0.6641 0.6537 0.6434 0.6334 0.6238 0.6142 0.6046 0.5950 0.5854 0.5758 0.5662 0.5566 0.5469 0.5381 0.5304 0.5227 0.5150 0.5073 0.4997 0.4920 0.4843 0.4766 0.4689 0.4614 0.4549 0.4484 0.4418 0.4353 0.4288 0.4222 0.4157 0.4092 0.4026 0.3961 0.3903 0.3845 0.3788 0.3730 0.3672 0.3615 0.3557 0.3499 0.3442 0.3384 0.3354 0.3331 0.3308 0.3285 0.3262 0.3239 0.3216 0.3193 0.3170 0.3146 0.3123 0.3100 0.3077 0.3054 0.3031"/><feFuncG type="table" tableValues="0.2078 0.2078 0.2078 0.2078 0.2078 0.2078 0.2078 0.2078 0.2078 0.2078 0.2078 0.2078 0.2078 0.2078 0.2078 0.2078 0.2078 0.2078 0.2078 0.2078 0.2078 0.2078 0.2078 0.2078 0.2078 0.2078 0.2078 0.2078 0.2078 0.2078 0.2078 0.2078 0.2158 0.2246 0.2335 0.2423 0.2512 0.2600 0.2689 0.2777 0.2865 0.2954 0.3048 0.3144 0.3240 0.3336 0.3432 0.3528 0.3624 0.3720 0.3817 0.3913 0.3997 0.4070 0.4142 0.4215 0.4288 0.4360 0.4433 0.4505 0.4578 0.4650 0.4720 0.4791 0.4861 0.4932 0.5002 0.5073 0.5143 0.5214 0.5284 0.5355 0.5425 0.5498 0.5601 0.5703 0.5806 0.5908 0.6011 0.6114 0.6265 0.6419 0.6573 0.6727 0.6880 0.7034 0.7199 0.7365 0.7532 0.7699 0.7865 0.8032 0.8203 0.8376 0.8549 0.8722 0.8846 0.8942 0.9038 0.9134 0.9180 0.9186 0.9193 0.9199 0.9206 0.9212 0.9219 0.9227 0.9234 0.9242 0.9250 0.9260 0.9276 0.9291 0.9306 0.9322 0.9336 0.9349 0.9362 0.9375 0.9388 0.9400 0.9413 0.9419 0.9425 0.9432 0.9438 0.9445 0.9451 0.9343 0.9236 0.9128 0.9020 0.8913 0.8812 0.8712 0.8612 0.8512 0.8412 0.8306 0.8198 0.8091 0.7983 0.7875 0.7746 0.7608 0.7469 0.7331 0.7193 0.7073 0.6965 0.6857 0.6750 0.6642 0.6520 0.6382 0.6245 0.6108 0.5970 0.5833 0.5696 0.5551 0.5392 0.5234 0.5075 0.4916 0.4758 0.4599 0.4441 0.4287 0.4152 0.4018 0.3883 0.3749 0.3614 0.3479 0.3345 0.3210 0.3076 0.2941 0.2853 0.2764 0.2676 0.2587 0.2499 0.2411 0.2322 0.2234 0.2145 0.2057 0.1993 0.1935 0.1878 0.1820 0.1762 0.1705 0.1647 0.1589 0.1532 0.1474 0.1433 0.1402 0.1371 0.1340 0.1309 0.1279 0.1248 0.1217 0.1186 0.1156 0.1131 0.1116 0.1100 0.1085 0.1070 0.1054 0.1039 0.1023 0.1008 0.0993 0.0977 0.0962 0.0947 0.0931 0.0916 0.0900 0.0885 0.0870 0.0854 0.0839 0.0824 0.0816 0.0808 0.0800 0.0793 0.0785 0.0777 0.0770 0.0762 0.0754 0.0747 0.0740 0.0735 0.0729 0.0723 0.0717 0.0712 0.0706 0.0700 0.0694 0.0689 0.0683 0.0677 0.0671 0.0666 0.0660"/><feFuncB type="table" tableValues="0.4667 0.4667 0.4667 0.4667 0.4667 0.4667 0.4667 0.4667 0.4667 0.4667 0.4667 0.4667 0.4667 0.4667 0.4667 0.4667 0.4667 0.4667 0.4667 0.4667 0.4667 0.4667 0.4667 0.4667 0.4667 0.4667 0.4667 0.4667 0.4667 0.4667 0.4667 0.4667 0.4615 0.4557 0.4499 0.4442 0.4384 0.4326 0.4269 0.4211 0.4153 0.4096 0.4041 0.3987 0.3933 0.3879 0.3825 0.3772 0.3718 0.3664 0.3610 0.3556 0.3508 0.3465 0.3423 0.3380 0.3337 0.3294 0.3252 0.3209 0.3166 0.3125 0.3087 0.3048 0.3010 0.2971 0.2933 0.2897 0.2871 0.2846 0.2820 0.2794 0.2769 0.2744 0.2724 0.2705 0.2686 0.2667 0.2647 0.2628 0.2597 0.2565 0.2533 0.2501 0.2469 0.2436 0.2410 0.2384 0.2359 0.2333 0.2307 0.2282 0.2219 0.2142 0.2065 0.1988 0.1936 0.1898 0.1859 0.1821 0.1822 0.1854 0.1886 0.1918 0.1950 0.1982 0.2105 0.2343 0.2582 0.2820 0.3058 0.3341 0.3710 0.4079 0.4448 0.4818 0.5169 0.5464 0.5758 0.6053 0.6348 0.6643 0.6928 0.7146 0.7364 0.7582 0.7800 0.8017 0.8235 0.8012 0.7789 0.7566 0.7343 0.7120 0.6863 0.6601 0.6340 0.6078 0.5817 0.5537 0.5253 0.4968 0.4684 0.4399 0.4098 0.3791 0.3483 0.3176 0.2868 0.2616 0.2401 0.2185 0.1970 0.1755 0.1639 0.1622 0.1606 0.1589 0.1573 0.1556 0.1540 0.1528 0.1523 0.1518 0.1513 0.1508 0.1504 0.1499 0.1494 0.1491 0.1495 0.1499 0.1502 0.1506 0.1510 0.1514 0.1518 0.1522 0.1526 0.1529 0.1529 0.1529 0.1529 0.1529 0.1529 0.1529 0.1529 0.1529 0.1529 0.1529 0.1539 0.1550 0.1562 0.1573 0.1585 0.1596 0.1608 0.1619 0.1631 0.1642 0.1629 0.1598 0.1567 0.1536 0.1506 0.1475 0.1444 0.1413 0.1383 0.1352 0.1327 0.1312 0.1296 0.1281 0.1266 0.1250 0.1235 0.1220 0.1204 0.1189 0.1173 0.1153 0.1134 0.1115 0.1096 0.1077 0.1057 0.1038 0.1019 0.1000 0.0980 0.0977 0.0973 0.0969 0.0965 0.0961 0.0957 0.0953 0.0950 0.0946 0.0942 0.0937 0.0931 0.0925 0.0919 0.0913 0.0908 0.0902 0.0896 0.0890 0.0885 0.0879 0.0873 0.0867 0.0862 0.0856"/></feComponentTransfer></filter>
<clipPath id="cp01"><rect x="430.7" y="0.8" width="327.0" height="320.0"/></clipPath>
<filter id="f01" filterUnits="userSpaceOnUse" x="428.7" y="-1.2" width="331.0" height="324.0" color-interpolation-filters="sRGB"><feColorMatrix type="matrix" values="0.64 -0.64 0 0 0.50196 0.64 -0.64 0 0 0.50196 0.64 -0.64 0 0 0.50196 0 0 0 0 1"/><feComponentTransfer><feFuncR type="table" tableValues="0.1725 0.1725 0.1725 0.1725 0.1725 0.1725 0.1725 0.1725 0.1725 0.1725 0.1725 0.1725 0.1725 0.1725 0.1725 0.1725 0.1725 0.1725 0.1725 0.1725 0.1725 0.1725 0.1725 0.1725 0.1725 0.1725 0.1725 0.1725 0.1725 0.1725 0.1725 0.1725 0.1725 0.1725 0.1725 0.1725 0.1725 0.1725 0.1725 0.1725 0.1725 0.1725 0.1758 0.1804 0.1850 0.1896 0.1942 0.1988 0.2035 0.2081 0.2127 0.2173 0.2220 0.2267 0.2314 0.2361 0.2408 0.2455 0.2502 0.2549 0.2595 0.2646 0.2704 0.2761 0.2819 0.2877 0.2934 0.2994 0.3065 0.3135 0.3206 0.3276 0.3347 0.3420 0.3529 0.3638 0.3747 0.3856 0.3965 0.4074 0.4263 0.4455 0.4647 0.4840 0.5032 0.5224 0.5481 0.5750 0.6019 0.6288 0.6557 0.6827 0.7137 0.7464 0.7791 0.8118 0.8352 0.8535 0.8717 0.8900 0.8991 0.9010 0.9030 0.9049 0.9068 0.9087 0.9105 0.9120 0.9136 0.9151 0.9166 0.9184 0.9207 0.9230 0.9254 0.9277 0.9297 0.9310 0.9323 0.9336 0.9348 0.9361 0.9373 0.9373 0.9373 0.9373 0.9373 0.9373 0.9373 0.9365 0.9357 0.9349 0.9342 0.9334 0.9313 0.9290 0.9266 0.9243 0.9220 0.9185 0.9146 0.9108 0.9070 0.9031 0.8993 0.8954 0.8916 0.8877 0.8839 0.8805 0.8774 0.8744 0.8713 0.8682 0.8647 0.8609 0.8571 0.8532 0.8494 0.8455 0.8417 0.8377 0.8333 0.8290 0.8247 0.8204 0.8160 0.8117 0.8074 0.8033 0.8002 0.7972 0.7941 0.7910 0.7879 0.7849 0.7818 0.7787 0.7756 0.7725 0.7699 0.7672 0.7645 0.7618 0.7591 0.7564 0.7537 0.7510 0.7483 0.7456 0.7368 0.7264 0.7160 0.7057 0.6953 0.6849 0.6745 0.6641 0.6537 0.6434 0.6334 0.6238 0.6142 0.6046 0.5950 0.5854 0.5758 0.5662 0.5566 0.5469 0.5381 0.5304 0.5227 0.5150 0.5073 0.4997 0.4920 0.4843 0.4766 0.4689 0.4614 0.4549 0.4484 0.4418 0.4353 0.4288 0.4222 0.4157 0.4092 0.4026 0.3961 0.3903 0.3845 0.3788 0.3730 0.3672 0.3615 0.3557 0.3499 0.3442 0.3384 0.3354 0.3331 0.3308 0.3285 0.3262 0.3239 0.3216 0.3193 0.3170 0.3146 0.3123 0.3100 0.3077 0.3054 0.3031"/><feFuncG type="table" tableValues="0.2078 0.2078 0.2078 0.2078 0.2078 0.2078 0.2078 0.2078 0.2078 0.2078 0.2078 0.2078 0.2078 0.2078 0.2078 0.2078 0.2078 0.2078 0.2078 0.2078 0.2078 0.2078 0.2078 0.2078 0.2078 0.2078 0.2078 0.2078 0.2078 0.2078 0.2078 0.2078 0.2158 0.2246 0.2335 0.2423 0.2512 0.2600 0.2689 0.2777 0.2865 0.2954 0.3048 0.3144 0.3240 0.3336 0.3432 0.3528 0.3624 0.3720 0.3817 0.3913 0.3997 0.4070 0.4142 0.4215 0.4288 0.4360 0.4433 0.4505 0.4578 0.4650 0.4720 0.4791 0.4861 0.4932 0.5002 0.5073 0.5143 0.5214 0.5284 0.5355 0.5425 0.5498 0.5601 0.5703 0.5806 0.5908 0.6011 0.6114 0.6265 0.6419 0.6573 0.6727 0.6880 0.7034 0.7199 0.7365 0.7532 0.7699 0.7865 0.8032 0.8203 0.8376 0.8549 0.8722 0.8846 0.8942 0.9038 0.9134 0.9180 0.9186 0.9193 0.9199 0.9206 0.9212 0.9219 0.9227 0.9234 0.9242 0.9250 0.9260 0.9276 0.9291 0.9306 0.9322 0.9336 0.9349 0.9362 0.9375 0.9388 0.9400 0.9413 0.9419 0.9425 0.9432 0.9438 0.9445 0.9451 0.9343 0.9236 0.9128 0.9020 0.8913 0.8812 0.8712 0.8612 0.8512 0.8412 0.8306 0.8198 0.8091 0.7983 0.7875 0.7746 0.7608 0.7469 0.7331 0.7193 0.7073 0.6965 0.6857 0.6750 0.6642 0.6520 0.6382 0.6245 0.6108 0.5970 0.5833 0.5696 0.5551 0.5392 0.5234 0.5075 0.4916 0.4758 0.4599 0.4441 0.4287 0.4152 0.4018 0.3883 0.3749 0.3614 0.3479 0.3345 0.3210 0.3076 0.2941 0.2853 0.2764 0.2676 0.2587 0.2499 0.2411 0.2322 0.2234 0.2145 0.2057 0.1993 0.1935 0.1878 0.1820 0.1762 0.1705 0.1647 0.1589 0.1532 0.1474 0.1433 0.1402 0.1371 0.1340 0.1309 0.1279 0.1248 0.1217 0.1186 0.1156 0.1131 0.1116 0.1100 0.1085 0.1070 0.1054 0.1039 0.1023 0.1008 0.0993 0.0977 0.0962 0.0947 0.0931 0.0916 0.0900 0.0885 0.0870 0.0854 0.0839 0.0824 0.0816 0.0808 0.0800 0.0793 0.0785 0.0777 0.0770 0.0762 0.0754 0.0747 0.0740 0.0735 0.0729 0.0723 0.0717 0.0712 0.0706 0.0700 0.0694 0.0689 0.0683 0.0677 0.0671 0.0666 0.0660"/><feFuncB type="table" tableValues="0.4667 0.4667 0.4667 0.4667 0.4667 0.4667 0.4667 0.4667 0.4667 0.4667 0.4667 0.4667 0.4667 0.4667 0.4667 0.4667 0.4667 0.4667 0.4667 0.4667 0.4667 0.4667 0.4667 0.4667 0.4667 0.4667 0.4667 0.4667 0.4667 0.4667 0.4667 0.4667 0.4615 0.4557 0.4499 0.4442 0.4384 0.4326 0.4269 0.4211 0.4153 0.4096 0.4041 0.3987 0.3933 0.3879 0.3825 0.3772 0.3718 0.3664 0.3610 0.3556 0.3508 0.3465 0.3423 0.3380 0.3337 0.3294 0.3252 0.3209 0.3166 0.3125 0.3087 0.3048 0.3010 0.2971 0.2933 0.2897 0.2871 0.2846 0.2820 0.2794 0.2769 0.2744 0.2724 0.2705 0.2686 0.2667 0.2647 0.2628 0.2597 0.2565 0.2533 0.2501 0.2469 0.2436 0.2410 0.2384 0.2359 0.2333 0.2307 0.2282 0.2219 0.2142 0.2065 0.1988 0.1936 0.1898 0.1859 0.1821 0.1822 0.1854 0.1886 0.1918 0.1950 0.1982 0.2105 0.2343 0.2582 0.2820 0.3058 0.3341 0.3710 0.4079 0.4448 0.4818 0.5169 0.5464 0.5758 0.6053 0.6348 0.6643 0.6928 0.7146 0.7364 0.7582 0.7800 0.8017 0.8235 0.8012 0.7789 0.7566 0.7343 0.7120 0.6863 0.6601 0.6340 0.6078 0.5817 0.5537 0.5253 0.4968 0.4684 0.4399 0.4098 0.3791 0.3483 0.3176 0.2868 0.2616 0.2401 0.2185 0.1970 0.1755 0.1639 0.1622 0.1606 0.1589 0.1573 0.1556 0.1540 0.1528 0.1523 0.1518 0.1513 0.1508 0.1504 0.1499 0.1494 0.1491 0.1495 0.1499 0.1502 0.1506 0.1510 0.1514 0.1518 0.1522 0.1526 0.1529 0.1529 0.1529 0.1529 0.1529 0.1529 0.1529 0.1529 0.1529 0.1529 0.1529 0.1539 0.1550 0.1562 0.1573 0.1585 0.1596 0.1608 0.1619 0.1631 0.1642 0.1629 0.1598 0.1567 0.1536 0.1506 0.1475 0.1444 0.1413 0.1383 0.1352 0.1327 0.1312 0.1296 0.1281 0.1266 0.1250 0.1235 0.1220 0.1204 0.1189 0.1173 0.1153 0.1134 0.1115 0.1096 0.1077 0.1057 0.1038 0.1019 0.1000 0.0980 0.0977 0.0973 0.0969 0.0965 0.0961 0.0957 0.0953 0.0950 0.0946 0.0942 0.0937 0.0931 0.0925 0.0919 0.0913 0.0908 0.0902 0.0896 0.0890 0.0885 0.0879 0.0873 0.0867 0.0862 0.0856"/></feComponentTransfer></filter>
<clipPath id="cp02"><rect x="766.7" y="0.8" width="327.3" height="320.0"/></clipPath>
<filter id="f02" filterUnits="userSpaceOnUse" x="764.7" y="-1.2" width="331.3" height="324.0" color-interpolation-filters="sRGB"><feColorMatrix type="matrix" values="0.64 -0.64 0 0 0.50196 0.64 -0.64 0 0 0.50196 0.64 -0.64 0 0 0.50196 0 0 0 0 1"/><feComponentTransfer><feFuncR type="table" tableValues="0.1725 0.1725 0.1725 0.1725 0.1725 0.1725 0.1725 0.1725 0.1725 0.1725 0.1725 0.1725 0.1725 0.1725 0.1725 0.1725 0.1725 0.1725 0.1725 0.1725 0.1725 0.1725 0.1725 0.1725 0.1725 0.1725 0.1725 0.1725 0.1725 0.1725 0.1725 0.1725 0.1725 0.1725 0.1725 0.1725 0.1725 0.1725 0.1725 0.1725 0.1725 0.1725 0.1758 0.1804 0.1850 0.1896 0.1942 0.1988 0.2035 0.2081 0.2127 0.2173 0.2220 0.2267 0.2314 0.2361 0.2408 0.2455 0.2502 0.2549 0.2595 0.2646 0.2704 0.2761 0.2819 0.2877 0.2934 0.2994 0.3065 0.3135 0.3206 0.3276 0.3347 0.3420 0.3529 0.3638 0.3747 0.3856 0.3965 0.4074 0.4263 0.4455 0.4647 0.4840 0.5032 0.5224 0.5481 0.5750 0.6019 0.6288 0.6557 0.6827 0.7137 0.7464 0.7791 0.8118 0.8352 0.8535 0.8717 0.8900 0.8991 0.9010 0.9030 0.9049 0.9068 0.9087 0.9105 0.9120 0.9136 0.9151 0.9166 0.9184 0.9207 0.9230 0.9254 0.9277 0.9297 0.9310 0.9323 0.9336 0.9348 0.9361 0.9373 0.9373 0.9373 0.9373 0.9373 0.9373 0.9373 0.9365 0.9357 0.9349 0.9342 0.9334 0.9313 0.9290 0.9266 0.9243 0.9220 0.9185 0.9146 0.9108 0.9070 0.9031 0.8993 0.8954 0.8916 0.8877 0.8839 0.8805 0.8774 0.8744 0.8713 0.8682 0.8647 0.8609 0.8571 0.8532 0.8494 0.8455 0.8417 0.8377 0.8333 0.8290 0.8247 0.8204 0.8160 0.8117 0.8074 0.8033 0.8002 0.7972 0.7941 0.7910 0.7879 0.7849 0.7818 0.7787 0.7756 0.7725 0.7699 0.7672 0.7645 0.7618 0.7591 0.7564 0.7537 0.7510 0.7483 0.7456 0.7368 0.7264 0.7160 0.7057 0.6953 0.6849 0.6745 0.6641 0.6537 0.6434 0.6334 0.6238 0.6142 0.6046 0.5950 0.5854 0.5758 0.5662 0.5566 0.5469 0.5381 0.5304 0.5227 0.5150 0.5073 0.4997 0.4920 0.4843 0.4766 0.4689 0.4614 0.4549 0.4484 0.4418 0.4353 0.4288 0.4222 0.4157 0.4092 0.4026 0.3961 0.3903 0.3845 0.3788 0.3730 0.3672 0.3615 0.3557 0.3499 0.3442 0.3384 0.3354 0.3331 0.3308 0.3285 0.3262 0.3239 0.3216 0.3193 0.3170 0.3146 0.3123 0.3100 0.3077 0.3054 0.3031"/><feFuncG type="table" tableValues="0.2078 0.2078 0.2078 0.2078 0.2078 0.2078 0.2078 0.2078 0.2078 0.2078 0.2078 0.2078 0.2078 0.2078 0.2078 0.2078 0.2078 0.2078 0.2078 0.2078 0.2078 0.2078 0.2078 0.2078 0.2078 0.2078 0.2078 0.2078 0.2078 0.2078 0.2078 0.2078 0.2158 0.2246 0.2335 0.2423 0.2512 0.2600 0.2689 0.2777 0.2865 0.2954 0.3048 0.3144 0.3240 0.3336 0.3432 0.3528 0.3624 0.3720 0.3817 0.3913 0.3997 0.4070 0.4142 0.4215 0.4288 0.4360 0.4433 0.4505 0.4578 0.4650 0.4720 0.4791 0.4861 0.4932 0.5002 0.5073 0.5143 0.5214 0.5284 0.5355 0.5425 0.5498 0.5601 0.5703 0.5806 0.5908 0.6011 0.6114 0.6265 0.6419 0.6573 0.6727 0.6880 0.7034 0.7199 0.7365 0.7532 0.7699 0.7865 0.8032 0.8203 0.8376 0.8549 0.8722 0.8846 0.8942 0.9038 0.9134 0.9180 0.9186 0.9193 0.9199 0.9206 0.9212 0.9219 0.9227 0.9234 0.9242 0.9250 0.9260 0.9276 0.9291 0.9306 0.9322 0.9336 0.9349 0.9362 0.9375 0.9388 0.9400 0.9413 0.9419 0.9425 0.9432 0.9438 0.9445 0.9451 0.9343 0.9236 0.9128 0.9020 0.8913 0.8812 0.8712 0.8612 0.8512 0.8412 0.8306 0.8198 0.8091 0.7983 0.7875 0.7746 0.7608 0.7469 0.7331 0.7193 0.7073 0.6965 0.6857 0.6750 0.6642 0.6520 0.6382 0.6245 0.6108 0.5970 0.5833 0.5696 0.5551 0.5392 0.5234 0.5075 0.4916 0.4758 0.4599 0.4441 0.4287 0.4152 0.4018 0.3883 0.3749 0.3614 0.3479 0.3345 0.3210 0.3076 0.2941 0.2853 0.2764 0.2676 0.2587 0.2499 0.2411 0.2322 0.2234 0.2145 0.2057 0.1993 0.1935 0.1878 0.1820 0.1762 0.1705 0.1647 0.1589 0.1532 0.1474 0.1433 0.1402 0.1371 0.1340 0.1309 0.1279 0.1248 0.1217 0.1186 0.1156 0.1131 0.1116 0.1100 0.1085 0.1070 0.1054 0.1039 0.1023 0.1008 0.0993 0.0977 0.0962 0.0947 0.0931 0.0916 0.0900 0.0885 0.0870 0.0854 0.0839 0.0824 0.0816 0.0808 0.0800 0.0793 0.0785 0.0777 0.0770 0.0762 0.0754 0.0747 0.0740 0.0735 0.0729 0.0723 0.0717 0.0712 0.0706 0.0700 0.0694 0.0689 0.0683 0.0677 0.0671 0.0666 0.0660"/><feFuncB type="table" tableValues="0.4667 0.4667 0.4667 0.4667 0.4667 0.4667 0.4667 0.4667 0.4667 0.4667 0.4667 0.4667 0.4667 0.4667 0.4667 0.4667 0.4667 0.4667 0.4667 0.4667 0.4667 0.4667 0.4667 0.4667 0.4667 0.4667 0.4667 0.4667 0.4667 0.4667 0.4667 0.4667 0.4615 0.4557 0.4499 0.4442 0.4384 0.4326 0.4269 0.4211 0.4153 0.4096 0.4041 0.3987 0.3933 0.3879 0.3825 0.3772 0.3718 0.3664 0.3610 0.3556 0.3508 0.3465 0.3423 0.3380 0.3337 0.3294 0.3252 0.3209 0.3166 0.3125 0.3087 0.3048 0.3010 0.2971 0.2933 0.2897 0.2871 0.2846 0.2820 0.2794 0.2769 0.2744 0.2724 0.2705 0.2686 0.2667 0.2647 0.2628 0.2597 0.2565 0.2533 0.2501 0.2469 0.2436 0.2410 0.2384 0.2359 0.2333 0.2307 0.2282 0.2219 0.2142 0.2065 0.1988 0.1936 0.1898 0.1859 0.1821 0.1822 0.1854 0.1886 0.1918 0.1950 0.1982 0.2105 0.2343 0.2582 0.2820 0.3058 0.3341 0.3710 0.4079 0.4448 0.4818 0.5169 0.5464 0.5758 0.6053 0.6348 0.6643 0.6928 0.7146 0.7364 0.7582 0.7800 0.8017 0.8235 0.8012 0.7789 0.7566 0.7343 0.7120 0.6863 0.6601 0.6340 0.6078 0.5817 0.5537 0.5253 0.4968 0.4684 0.4399 0.4098 0.3791 0.3483 0.3176 0.2868 0.2616 0.2401 0.2185 0.1970 0.1755 0.1639 0.1622 0.1606 0.1589 0.1573 0.1556 0.1540 0.1528 0.1523 0.1518 0.1513 0.1508 0.1504 0.1499 0.1494 0.1491 0.1495 0.1499 0.1502 0.1506 0.1510 0.1514 0.1518 0.1522 0.1526 0.1529 0.1529 0.1529 0.1529 0.1529 0.1529 0.1529 0.1529 0.1529 0.1529 0.1529 0.1539 0.1550 0.1562 0.1573 0.1585 0.1596 0.1608 0.1619 0.1631 0.1642 0.1629 0.1598 0.1567 0.1536 0.1506 0.1475 0.1444 0.1413 0.1383 0.1352 0.1327 0.1312 0.1296 0.1281 0.1266 0.1250 0.1235 0.1220 0.1204 0.1189 0.1173 0.1153 0.1134 0.1115 0.1096 0.1077 0.1057 0.1038 0.1019 0.1000 0.0980 0.0977 0.0973 0.0969 0.0965 0.0961 0.0957 0.0953 0.0950 0.0946 0.0942 0.0937 0.0931 0.0925 0.0919 0.0913 0.0908 0.0902 0.0896 0.0890 0.0885 0.0879 0.0873 0.0867 0.0862 0.0856"/></feComponentTransfer></filter>
<clipPath id="cp10"><rect x="100.6" y="328.2" width="321.1" height="320.4"/></clipPath>
<filter id="f10" filterUnits="userSpaceOnUse" x="98.6" y="326.2" width="325.1" height="324.4" color-interpolation-filters="sRGB"><feColorMatrix type="matrix" values="0.64 -0.64 0 0 0.50196 0.64 -0.64 0 0 0.50196 0.64 -0.64 0 0 0.50196 0 0 0 0 1"/><feComponentTransfer><feFuncR type="table" tableValues="0.1725 0.1725 0.1725 0.1725 0.1725 0.1725 0.1725 0.1725 0.1725 0.1725 0.1725 0.1725 0.1725 0.1725 0.1725 0.1725 0.1725 0.1725 0.1725 0.1725 0.1725 0.1725 0.1725 0.1725 0.1725 0.1725 0.1725 0.1725 0.1725 0.1725 0.1725 0.1725 0.1725 0.1725 0.1725 0.1725 0.1725 0.1725 0.1725 0.1725 0.1725 0.1725 0.1758 0.1804 0.1850 0.1896 0.1942 0.1988 0.2035 0.2081 0.2127 0.2173 0.2220 0.2267 0.2314 0.2361 0.2408 0.2455 0.2502 0.2549 0.2595 0.2646 0.2704 0.2761 0.2819 0.2877 0.2934 0.2994 0.3065 0.3135 0.3206 0.3276 0.3347 0.3420 0.3529 0.3638 0.3747 0.3856 0.3965 0.4074 0.4263 0.4455 0.4647 0.4840 0.5032 0.5224 0.5481 0.5750 0.6019 0.6288 0.6557 0.6827 0.7137 0.7464 0.7791 0.8118 0.8352 0.8535 0.8717 0.8900 0.8991 0.9010 0.9030 0.9049 0.9068 0.9087 0.9105 0.9120 0.9136 0.9151 0.9166 0.9184 0.9207 0.9230 0.9254 0.9277 0.9297 0.9310 0.9323 0.9336 0.9348 0.9361 0.9373 0.9373 0.9373 0.9373 0.9373 0.9373 0.9373 0.9365 0.9357 0.9349 0.9342 0.9334 0.9313 0.9290 0.9266 0.9243 0.9220 0.9185 0.9146 0.9108 0.9070 0.9031 0.8993 0.8954 0.8916 0.8877 0.8839 0.8805 0.8774 0.8744 0.8713 0.8682 0.8647 0.8609 0.8571 0.8532 0.8494 0.8455 0.8417 0.8377 0.8333 0.8290 0.8247 0.8204 0.8160 0.8117 0.8074 0.8033 0.8002 0.7972 0.7941 0.7910 0.7879 0.7849 0.7818 0.7787 0.7756 0.7725 0.7699 0.7672 0.7645 0.7618 0.7591 0.7564 0.7537 0.7510 0.7483 0.7456 0.7368 0.7264 0.7160 0.7057 0.6953 0.6849 0.6745 0.6641 0.6537 0.6434 0.6334 0.6238 0.6142 0.6046 0.5950 0.5854 0.5758 0.5662 0.5566 0.5469 0.5381 0.5304 0.5227 0.5150 0.5073 0.4997 0.4920 0.4843 0.4766 0.4689 0.4614 0.4549 0.4484 0.4418 0.4353 0.4288 0.4222 0.4157 0.4092 0.4026 0.3961 0.3903 0.3845 0.3788 0.3730 0.3672 0.3615 0.3557 0.3499 0.3442 0.3384 0.3354 0.3331 0.3308 0.3285 0.3262 0.3239 0.3216 0.3193 0.3170 0.3146 0.3123 0.3100 0.3077 0.3054 0.3031"/><feFuncG type="table" tableValues="0.2078 0.2078 0.2078 0.2078 0.2078 0.2078 0.2078 0.2078 0.2078 0.2078 0.2078 0.2078 0.2078 0.2078 0.2078 0.2078 0.2078 0.2078 0.2078 0.2078 0.2078 0.2078 0.2078 0.2078 0.2078 0.2078 0.2078 0.2078 0.2078 0.2078 0.2078 0.2078 0.2158 0.2246 0.2335 0.2423 0.2512 0.2600 0.2689 0.2777 0.2865 0.2954 0.3048 0.3144 0.3240 0.3336 0.3432 0.3528 0.3624 0.3720 0.3817 0.3913 0.3997 0.4070 0.4142 0.4215 0.4288 0.4360 0.4433 0.4505 0.4578 0.4650 0.4720 0.4791 0.4861 0.4932 0.5002 0.5073 0.5143 0.5214 0.5284 0.5355 0.5425 0.5498 0.5601 0.5703 0.5806 0.5908 0.6011 0.6114 0.6265 0.6419 0.6573 0.6727 0.6880 0.7034 0.7199 0.7365 0.7532 0.7699 0.7865 0.8032 0.8203 0.8376 0.8549 0.8722 0.8846 0.8942 0.9038 0.9134 0.9180 0.9186 0.9193 0.9199 0.9206 0.9212 0.9219 0.9227 0.9234 0.9242 0.9250 0.9260 0.9276 0.9291 0.9306 0.9322 0.9336 0.9349 0.9362 0.9375 0.9388 0.9400 0.9413 0.9419 0.9425 0.9432 0.9438 0.9445 0.9451 0.9343 0.9236 0.9128 0.9020 0.8913 0.8812 0.8712 0.8612 0.8512 0.8412 0.8306 0.8198 0.8091 0.7983 0.7875 0.7746 0.7608 0.7469 0.7331 0.7193 0.7073 0.6965 0.6857 0.6750 0.6642 0.6520 0.6382 0.6245 0.6108 0.5970 0.5833 0.5696 0.5551 0.5392 0.5234 0.5075 0.4916 0.4758 0.4599 0.4441 0.4287 0.4152 0.4018 0.3883 0.3749 0.3614 0.3479 0.3345 0.3210 0.3076 0.2941 0.2853 0.2764 0.2676 0.2587 0.2499 0.2411 0.2322 0.2234 0.2145 0.2057 0.1993 0.1935 0.1878 0.1820 0.1762 0.1705 0.1647 0.1589 0.1532 0.1474 0.1433 0.1402 0.1371 0.1340 0.1309 0.1279 0.1248 0.1217 0.1186 0.1156 0.1131 0.1116 0.1100 0.1085 0.1070 0.1054 0.1039 0.1023 0.1008 0.0993 0.0977 0.0962 0.0947 0.0931 0.0916 0.0900 0.0885 0.0870 0.0854 0.0839 0.0824 0.0816 0.0808 0.0800 0.0793 0.0785 0.0777 0.0770 0.0762 0.0754 0.0747 0.0740 0.0735 0.0729 0.0723 0.0717 0.0712 0.0706 0.0700 0.0694 0.0689 0.0683 0.0677 0.0671 0.0666 0.0660"/><feFuncB type="table" tableValues="0.4667 0.4667 0.4667 0.4667 0.4667 0.4667 0.4667 0.4667 0.4667 0.4667 0.4667 0.4667 0.4667 0.4667 0.4667 0.4667 0.4667 0.4667 0.4667 0.4667 0.4667 0.4667 0.4667 0.4667 0.4667 0.4667 0.4667 0.4667 0.4667 0.4667 0.4667 0.4667 0.4615 0.4557 0.4499 0.4442 0.4384 0.4326 0.4269 0.4211 0.4153 0.4096 0.4041 0.3987 0.3933 0.3879 0.3825 0.3772 0.3718 0.3664 0.3610 0.3556 0.3508 0.3465 0.3423 0.3380 0.3337 0.3294 0.3252 0.3209 0.3166 0.3125 0.3087 0.3048 0.3010 0.2971 0.2933 0.2897 0.2871 0.2846 0.2820 0.2794 0.2769 0.2744 0.2724 0.2705 0.2686 0.2667 0.2647 0.2628 0.2597 0.2565 0.2533 0.2501 0.2469 0.2436 0.2410 0.2384 0.2359 0.2333 0.2307 0.2282 0.2219 0.2142 0.2065 0.1988 0.1936 0.1898 0.1859 0.1821 0.1822 0.1854 0.1886 0.1918 0.1950 0.1982 0.2105 0.2343 0.2582 0.2820 0.3058 0.3341 0.3710 0.4079 0.4448 0.4818 0.5169 0.5464 0.5758 0.6053 0.6348 0.6643 0.6928 0.7146 0.7364 0.7582 0.7800 0.8017 0.8235 0.8012 0.7789 0.7566 0.7343 0.7120 0.6863 0.6601 0.6340 0.6078 0.5817 0.5537 0.5253 0.4968 0.4684 0.4399 0.4098 0.3791 0.3483 0.3176 0.2868 0.2616 0.2401 0.2185 0.1970 0.1755 0.1639 0.1622 0.1606 0.1589 0.1573 0.1556 0.1540 0.1528 0.1523 0.1518 0.1513 0.1508 0.1504 0.1499 0.1494 0.1491 0.1495 0.1499 0.1502 0.1506 0.1510 0.1514 0.1518 0.1522 0.1526 0.1529 0.1529 0.1529 0.1529 0.1529 0.1529 0.1529 0.1529 0.1529 0.1529 0.1529 0.1539 0.1550 0.1562 0.1573 0.1585 0.1596 0.1608 0.1619 0.1631 0.1642 0.1629 0.1598 0.1567 0.1536 0.1506 0.1475 0.1444 0.1413 0.1383 0.1352 0.1327 0.1312 0.1296 0.1281 0.1266 0.1250 0.1235 0.1220 0.1204 0.1189 0.1173 0.1153 0.1134 0.1115 0.1096 0.1077 0.1057 0.1038 0.1019 0.1000 0.0980 0.0977 0.0973 0.0969 0.0965 0.0961 0.0957 0.0953 0.0950 0.0946 0.0942 0.0937 0.0931 0.0925 0.0919 0.0913 0.0908 0.0902 0.0896 0.0890 0.0885 0.0879 0.0873 0.0867 0.0862 0.0856"/></feComponentTransfer></filter>
<clipPath id="cp11"><rect x="430.7" y="328.2" width="327.0" height="320.4"/></clipPath>
<filter id="f11" filterUnits="userSpaceOnUse" x="428.7" y="326.2" width="331.0" height="324.4" color-interpolation-filters="sRGB"><feColorMatrix type="matrix" values="0.64 -0.64 0 0 0.50196 0.64 -0.64 0 0 0.50196 0.64 -0.64 0 0 0.50196 0 0 0 0 1"/><feComponentTransfer><feFuncR type="table" tableValues="0.1725 0.1725 0.1725 0.1725 0.1725 0.1725 0.1725 0.1725 0.1725 0.1725 0.1725 0.1725 0.1725 0.1725 0.1725 0.1725 0.1725 0.1725 0.1725 0.1725 0.1725 0.1725 0.1725 0.1725 0.1725 0.1725 0.1725 0.1725 0.1725 0.1725 0.1725 0.1725 0.1725 0.1725 0.1725 0.1725 0.1725 0.1725 0.1725 0.1725 0.1725 0.1725 0.1758 0.1804 0.1850 0.1896 0.1942 0.1988 0.2035 0.2081 0.2127 0.2173 0.2220 0.2267 0.2314 0.2361 0.2408 0.2455 0.2502 0.2549 0.2595 0.2646 0.2704 0.2761 0.2819 0.2877 0.2934 0.2994 0.3065 0.3135 0.3206 0.3276 0.3347 0.3420 0.3529 0.3638 0.3747 0.3856 0.3965 0.4074 0.4263 0.4455 0.4647 0.4840 0.5032 0.5224 0.5481 0.5750 0.6019 0.6288 0.6557 0.6827 0.7137 0.7464 0.7791 0.8118 0.8352 0.8535 0.8717 0.8900 0.8991 0.9010 0.9030 0.9049 0.9068 0.9087 0.9105 0.9120 0.9136 0.9151 0.9166 0.9184 0.9207 0.9230 0.9254 0.9277 0.9297 0.9310 0.9323 0.9336 0.9348 0.9361 0.9373 0.9373 0.9373 0.9373 0.9373 0.9373 0.9373 0.9365 0.9357 0.9349 0.9342 0.9334 0.9313 0.9290 0.9266 0.9243 0.9220 0.9185 0.9146 0.9108 0.9070 0.9031 0.8993 0.8954 0.8916 0.8877 0.8839 0.8805 0.8774 0.8744 0.8713 0.8682 0.8647 0.8609 0.8571 0.8532 0.8494 0.8455 0.8417 0.8377 0.8333 0.8290 0.8247 0.8204 0.8160 0.8117 0.8074 0.8033 0.8002 0.7972 0.7941 0.7910 0.7879 0.7849 0.7818 0.7787 0.7756 0.7725 0.7699 0.7672 0.7645 0.7618 0.7591 0.7564 0.7537 0.7510 0.7483 0.7456 0.7368 0.7264 0.7160 0.7057 0.6953 0.6849 0.6745 0.6641 0.6537 0.6434 0.6334 0.6238 0.6142 0.6046 0.5950 0.5854 0.5758 0.5662 0.5566 0.5469 0.5381 0.5304 0.5227 0.5150 0.5073 0.4997 0.4920 0.4843 0.4766 0.4689 0.4614 0.4549 0.4484 0.4418 0.4353 0.4288 0.4222 0.4157 0.4092 0.4026 0.3961 0.3903 0.3845 0.3788 0.3730 0.3672 0.3615 0.3557 0.3499 0.3442 0.3384 0.3354 0.3331 0.3308 0.3285 0.3262 0.3239 0.3216 0.3193 0.3170 0.3146 0.3123 0.3100 0.3077 0.3054 0.3031"/><feFuncG type="table" tableValues="0.2078 0.2078 0.2078 0.2078 0.2078 0.2078 0.2078 0.2078 0.2078 0.2078 0.2078 0.2078 0.2078 0.2078 0.2078 0.2078 0.2078 0.2078 0.2078 0.2078 0.2078 0.2078 0.2078 0.2078 0.2078 0.2078 0.2078 0.2078 0.2078 0.2078 0.2078 0.2078 0.2158 0.2246 0.2335 0.2423 0.2512 0.2600 0.2689 0.2777 0.2865 0.2954 0.3048 0.3144 0.3240 0.3336 0.3432 0.3528 0.3624 0.3720 0.3817 0.3913 0.3997 0.4070 0.4142 0.4215 0.4288 0.4360 0.4433 0.4505 0.4578 0.4650 0.4720 0.4791 0.4861 0.4932 0.5002 0.5073 0.5143 0.5214 0.5284 0.5355 0.5425 0.5498 0.5601 0.5703 0.5806 0.5908 0.6011 0.6114 0.6265 0.6419 0.6573 0.6727 0.6880 0.7034 0.7199 0.7365 0.7532 0.7699 0.7865 0.8032 0.8203 0.8376 0.8549 0.8722 0.8846 0.8942 0.9038 0.9134 0.9180 0.9186 0.9193 0.9199 0.9206 0.9212 0.9219 0.9227 0.9234 0.9242 0.9250 0.9260 0.9276 0.9291 0.9306 0.9322 0.9336 0.9349 0.9362 0.9375 0.9388 0.9400 0.9413 0.9419 0.9425 0.9432 0.9438 0.9445 0.9451 0.9343 0.9236 0.9128 0.9020 0.8913 0.8812 0.8712 0.8612 0.8512 0.8412 0.8306 0.8198 0.8091 0.7983 0.7875 0.7746 0.7608 0.7469 0.7331 0.7193 0.7073 0.6965 0.6857 0.6750 0.6642 0.6520 0.6382 0.6245 0.6108 0.5970 0.5833 0.5696 0.5551 0.5392 0.5234 0.5075 0.4916 0.4758 0.4599 0.4441 0.4287 0.4152 0.4018 0.3883 0.3749 0.3614 0.3479 0.3345 0.3210 0.3076 0.2941 0.2853 0.2764 0.2676 0.2587 0.2499 0.2411 0.2322 0.2234 0.2145 0.2057 0.1993 0.1935 0.1878 0.1820 0.1762 0.1705 0.1647 0.1589 0.1532 0.1474 0.1433 0.1402 0.1371 0.1340 0.1309 0.1279 0.1248 0.1217 0.1186 0.1156 0.1131 0.1116 0.1100 0.1085 0.1070 0.1054 0.1039 0.1023 0.1008 0.0993 0.0977 0.0962 0.0947 0.0931 0.0916 0.0900 0.0885 0.0870 0.0854 0.0839 0.0824 0.0816 0.0808 0.0800 0.0793 0.0785 0.0777 0.0770 0.0762 0.0754 0.0747 0.0740 0.0735 0.0729 0.0723 0.0717 0.0712 0.0706 0.0700 0.0694 0.0689 0.0683 0.0677 0.0671 0.0666 0.0660"/><feFuncB type="table" tableValues="0.4667 0.4667 0.4667 0.4667 0.4667 0.4667 0.4667 0.4667 0.4667 0.4667 0.4667 0.4667 0.4667 0.4667 0.4667 0.4667 0.4667 0.4667 0.4667 0.4667 0.4667 0.4667 0.4667 0.4667 0.4667 0.4667 0.4667 0.4667 0.4667 0.4667 0.4667 0.4667 0.4615 0.4557 0.4499 0.4442 0.4384 0.4326 0.4269 0.4211 0.4153 0.4096 0.4041 0.3987 0.3933 0.3879 0.3825 0.3772 0.3718 0.3664 0.3610 0.3556 0.3508 0.3465 0.3423 0.3380 0.3337 0.3294 0.3252 0.3209 0.3166 0.3125 0.3087 0.3048 0.3010 0.2971 0.2933 0.2897 0.2871 0.2846 0.2820 0.2794 0.2769 0.2744 0.2724 0.2705 0.2686 0.2667 0.2647 0.2628 0.2597 0.2565 0.2533 0.2501 0.2469 0.2436 0.2410 0.2384 0.2359 0.2333 0.2307 0.2282 0.2219 0.2142 0.2065 0.1988 0.1936 0.1898 0.1859 0.1821 0.1822 0.1854 0.1886 0.1918 0.1950 0.1982 0.2105 0.2343 0.2582 0.2820 0.3058 0.3341 0.3710 0.4079 0.4448 0.4818 0.5169 0.5464 0.5758 0.6053 0.6348 0.6643 0.6928 0.7146 0.7364 0.7582 0.7800 0.8017 0.8235 0.8012 0.7789 0.7566 0.7343 0.7120 0.6863 0.6601 0.6340 0.6078 0.5817 0.5537 0.5253 0.4968 0.4684 0.4399 0.4098 0.3791 0.3483 0.3176 0.2868 0.2616 0.2401 0.2185 0.1970 0.1755 0.1639 0.1622 0.1606 0.1589 0.1573 0.1556 0.1540 0.1528 0.1523 0.1518 0.1513 0.1508 0.1504 0.1499 0.1494 0.1491 0.1495 0.1499 0.1502 0.1506 0.1510 0.1514 0.1518 0.1522 0.1526 0.1529 0.1529 0.1529 0.1529 0.1529 0.1529 0.1529 0.1529 0.1529 0.1529 0.1529 0.1539 0.1550 0.1562 0.1573 0.1585 0.1596 0.1608 0.1619 0.1631 0.1642 0.1629 0.1598 0.1567 0.1536 0.1506 0.1475 0.1444 0.1413 0.1383 0.1352 0.1327 0.1312 0.1296 0.1281 0.1266 0.1250 0.1235 0.1220 0.1204 0.1189 0.1173 0.1153 0.1134 0.1115 0.1096 0.1077 0.1057 0.1038 0.1019 0.1000 0.0980 0.0977 0.0973 0.0969 0.0965 0.0961 0.0957 0.0953 0.0950 0.0946 0.0942 0.0937 0.0931 0.0925 0.0919 0.0913 0.0908 0.0902 0.0896 0.0890 0.0885 0.0879 0.0873 0.0867 0.0862 0.0856"/></feComponentTransfer></filter>
<clipPath id="cp12"><rect x="766.7" y="328.2" width="327.3" height="320.4"/></clipPath>
<filter id="f12" filterUnits="userSpaceOnUse" x="764.7" y="326.2" width="331.3" height="324.4" color-interpolation-filters="sRGB"><feColorMatrix type="matrix" values="0.64 -0.64 0 0 0.50196 0.64 -0.64 0 0 0.50196 0.64 -0.64 0 0 0.50196 0 0 0 0 1"/><feComponentTransfer><feFuncR type="table" tableValues="0.1725 0.1725 0.1725 0.1725 0.1725 0.1725 0.1725 0.1725 0.1725 0.1725 0.1725 0.1725 0.1725 0.1725 0.1725 0.1725 0.1725 0.1725 0.1725 0.1725 0.1725 0.1725 0.1725 0.1725 0.1725 0.1725 0.1725 0.1725 0.1725 0.1725 0.1725 0.1725 0.1725 0.1725 0.1725 0.1725 0.1725 0.1725 0.1725 0.1725 0.1725 0.1725 0.1758 0.1804 0.1850 0.1896 0.1942 0.1988 0.2035 0.2081 0.2127 0.2173 0.2220 0.2267 0.2314 0.2361 0.2408 0.2455 0.2502 0.2549 0.2595 0.2646 0.2704 0.2761 0.2819 0.2877 0.2934 0.2994 0.3065 0.3135 0.3206 0.3276 0.3347 0.3420 0.3529 0.3638 0.3747 0.3856 0.3965 0.4074 0.4263 0.4455 0.4647 0.4840 0.5032 0.5224 0.5481 0.5750 0.6019 0.6288 0.6557 0.6827 0.7137 0.7464 0.7791 0.8118 0.8352 0.8535 0.8717 0.8900 0.8991 0.9010 0.9030 0.9049 0.9068 0.9087 0.9105 0.9120 0.9136 0.9151 0.9166 0.9184 0.9207 0.9230 0.9254 0.9277 0.9297 0.9310 0.9323 0.9336 0.9348 0.9361 0.9373 0.9373 0.9373 0.9373 0.9373 0.9373 0.9373 0.9365 0.9357 0.9349 0.9342 0.9334 0.9313 0.9290 0.9266 0.9243 0.9220 0.9185 0.9146 0.9108 0.9070 0.9031 0.8993 0.8954 0.8916 0.8877 0.8839 0.8805 0.8774 0.8744 0.8713 0.8682 0.8647 0.8609 0.8571 0.8532 0.8494 0.8455 0.8417 0.8377 0.8333 0.8290 0.8247 0.8204 0.8160 0.8117 0.8074 0.8033 0.8002 0.7972 0.7941 0.7910 0.7879 0.7849 0.7818 0.7787 0.7756 0.7725 0.7699 0.7672 0.7645 0.7618 0.7591 0.7564 0.7537 0.7510 0.7483 0.7456 0.7368 0.7264 0.7160 0.7057 0.6953 0.6849 0.6745 0.6641 0.6537 0.6434 0.6334 0.6238 0.6142 0.6046 0.5950 0.5854 0.5758 0.5662 0.5566 0.5469 0.5381 0.5304 0.5227 0.5150 0.5073 0.4997 0.4920 0.4843 0.4766 0.4689 0.4614 0.4549 0.4484 0.4418 0.4353 0.4288 0.4222 0.4157 0.4092 0.4026 0.3961 0.3903 0.3845 0.3788 0.3730 0.3672 0.3615 0.3557 0.3499 0.3442 0.3384 0.3354 0.3331 0.3308 0.3285 0.3262 0.3239 0.3216 0.3193 0.3170 0.3146 0.3123 0.3100 0.3077 0.3054 0.3031"/><feFuncG type="table" tableValues="0.2078 0.2078 0.2078 0.2078 0.2078 0.2078 0.2078 0.2078 0.2078 0.2078 0.2078 0.2078 0.2078 0.2078 0.2078 0.2078 0.2078 0.2078 0.2078 0.2078 0.2078 0.2078 0.2078 0.2078 0.2078 0.2078 0.2078 0.2078 0.2078 0.2078 0.2078 0.2078 0.2158 0.2246 0.2335 0.2423 0.2512 0.2600 0.2689 0.2777 0.2865 0.2954 0.3048 0.3144 0.3240 0.3336 0.3432 0.3528 0.3624 0.3720 0.3817 0.3913 0.3997 0.4070 0.4142 0.4215 0.4288 0.4360 0.4433 0.4505 0.4578 0.4650 0.4720 0.4791 0.4861 0.4932 0.5002 0.5073 0.5143 0.5214 0.5284 0.5355 0.5425 0.5498 0.5601 0.5703 0.5806 0.5908 0.6011 0.6114 0.6265 0.6419 0.6573 0.6727 0.6880 0.7034 0.7199 0.7365 0.7532 0.7699 0.7865 0.8032 0.8203 0.8376 0.8549 0.8722 0.8846 0.8942 0.9038 0.9134 0.9180 0.9186 0.9193 0.9199 0.9206 0.9212 0.9219 0.9227 0.9234 0.9242 0.9250 0.9260 0.9276 0.9291 0.9306 0.9322 0.9336 0.9349 0.9362 0.9375 0.9388 0.9400 0.9413 0.9419 0.9425 0.9432 0.9438 0.9445 0.9451 0.9343 0.9236 0.9128 0.9020 0.8913 0.8812 0.8712 0.8612 0.8512 0.8412 0.8306 0.8198 0.8091 0.7983 0.7875 0.7746 0.7608 0.7469 0.7331 0.7193 0.7073 0.6965 0.6857 0.6750 0.6642 0.6520 0.6382 0.6245 0.6108 0.5970 0.5833 0.5696 0.5551 0.5392 0.5234 0.5075 0.4916 0.4758 0.4599 0.4441 0.4287 0.4152 0.4018 0.3883 0.3749 0.3614 0.3479 0.3345 0.3210 0.3076 0.2941 0.2853 0.2764 0.2676 0.2587 0.2499 0.2411 0.2322 0.2234 0.2145 0.2057 0.1993 0.1935 0.1878 0.1820 0.1762 0.1705 0.1647 0.1589 0.1532 0.1474 0.1433 0.1402 0.1371 0.1340 0.1309 0.1279 0.1248 0.1217 0.1186 0.1156 0.1131 0.1116 0.1100 0.1085 0.1070 0.1054 0.1039 0.1023 0.1008 0.0993 0.0977 0.0962 0.0947 0.0931 0.0916 0.0900 0.0885 0.0870 0.0854 0.0839 0.0824 0.0816 0.0808 0.0800 0.0793 0.0785 0.0777 0.0770 0.0762 0.0754 0.0747 0.0740 0.0735 0.0729 0.0723 0.0717 0.0712 0.0706 0.0700 0.0694 0.0689 0.0683 0.0677 0.0671 0.0666 0.0660"/><feFuncB type="table" tableValues="0.4667 0.4667 0.4667 0.4667 0.4667 0.4667 0.4667 0.4667 0.4667 0.4667 0.4667 0.4667 0.4667 0.4667 0.4667 0.4667 0.4667 0.4667 0.4667 0.4667 0.4667 0.4667 0.4667 0.4667 0.4667 0.4667 0.4667 0.4667 0.4667 0.4667 0.4667 0.4667 0.4615 0.4557 0.4499 0.4442 0.4384 0.4326 0.4269 0.4211 0.4153 0.4096 0.4041 0.3987 0.3933 0.3879 0.3825 0.3772 0.3718 0.3664 0.3610 0.3556 0.3508 0.3465 0.3423 0.3380 0.3337 0.3294 0.3252 0.3209 0.3166 0.3125 0.3087 0.3048 0.3010 0.2971 0.2933 0.2897 0.2871 0.2846 0.2820 0.2794 0.2769 0.2744 0.2724 0.2705 0.2686 0.2667 0.2647 0.2628 0.2597 0.2565 0.2533 0.2501 0.2469 0.2436 0.2410 0.2384 0.2359 0.2333 0.2307 0.2282 0.2219 0.2142 0.2065 0.1988 0.1936 0.1898 0.1859 0.1821 0.1822 0.1854 0.1886 0.1918 0.1950 0.1982 0.2105 0.2343 0.2582 0.2820 0.3058 0.3341 0.3710 0.4079 0.4448 0.4818 0.5169 0.5464 0.5758 0.6053 0.6348 0.6643 0.6928 0.7146 0.7364 0.7582 0.7800 0.8017 0.8235 0.8012 0.7789 0.7566 0.7343 0.7120 0.6863 0.6601 0.6340 0.6078 0.5817 0.5537 0.5253 0.4968 0.4684 0.4399 0.4098 0.3791 0.3483 0.3176 0.2868 0.2616 0.2401 0.2185 0.1970 0.1755 0.1639 0.1622 0.1606 0.1589 0.1573 0.1556 0.1540 0.1528 0.1523 0.1518 0.1513 0.1508 0.1504 0.1499 0.1494 0.1491 0.1495 0.1499 0.1502 0.1506 0.1510 0.1514 0.1518 0.1522 0.1526 0.1529 0.1529 0.1529 0.1529 0.1529 0.1529 0.1529 0.1529 0.1529 0.1529 0.1529 0.1539 0.1550 0.1562 0.1573 0.1585 0.1596 0.1608 0.1619 0.1631 0.1642 0.1629 0.1598 0.1567 0.1536 0.1506 0.1475 0.1444 0.1413 0.1383 0.1352 0.1327 0.1312 0.1296 0.1281 0.1266 0.1250 0.1235 0.1220 0.1204 0.1189 0.1173 0.1153 0.1134 0.1115 0.1096 0.1077 0.1057 0.1038 0.1019 0.1000 0.0980 0.0977 0.0973 0.0969 0.0965 0.0961 0.0957 0.0953 0.0950 0.0946 0.0942 0.0937 0.0931 0.0925 0.0919 0.0913 0.0908 0.0902 0.0896 0.0890 0.0885 0.0879 0.0873 0.0867 0.0862 0.0856"/></feComponentTransfer></filter>
<clipPath id="cp20"><rect x="100.6" y="656.4" width="321.1" height="325.6"/></clipPath>
<filter id="f20" filterUnits="userSpaceOnUse" x="98.6" y="654.4" width="325.1" height="329.6" color-interpolation-filters="sRGB"><feColorMatrix type="matrix" values="0.64 -0.64 0 0 0.50196 0.64 -0.64 0 0 0.50196 0.64 -0.64 0 0 0.50196 0 0 0 0 1"/><feComponentTransfer><feFuncR type="table" tableValues="0.1725 0.1725 0.1725 0.1725 0.1725 0.1725 0.1725 0.1725 0.1725 0.1725 0.1725 0.1725 0.1725 0.1725 0.1725 0.1725 0.1725 0.1725 0.1725 0.1725 0.1725 0.1725 0.1725 0.1725 0.1725 0.1725 0.1725 0.1725 0.1725 0.1725 0.1725 0.1725 0.1725 0.1725 0.1725 0.1725 0.1725 0.1725 0.1725 0.1725 0.1725 0.1725 0.1758 0.1804 0.1850 0.1896 0.1942 0.1988 0.2035 0.2081 0.2127 0.2173 0.2220 0.2267 0.2314 0.2361 0.2408 0.2455 0.2502 0.2549 0.2595 0.2646 0.2704 0.2761 0.2819 0.2877 0.2934 0.2994 0.3065 0.3135 0.3206 0.3276 0.3347 0.3420 0.3529 0.3638 0.3747 0.3856 0.3965 0.4074 0.4263 0.4455 0.4647 0.4840 0.5032 0.5224 0.5481 0.5750 0.6019 0.6288 0.6557 0.6827 0.7137 0.7464 0.7791 0.8118 0.8352 0.8535 0.8717 0.8900 0.8991 0.9010 0.9030 0.9049 0.9068 0.9087 0.9105 0.9120 0.9136 0.9151 0.9166 0.9184 0.9207 0.9230 0.9254 0.9277 0.9297 0.9310 0.9323 0.9336 0.9348 0.9361 0.9373 0.9373 0.9373 0.9373 0.9373 0.9373 0.9373 0.9365 0.9357 0.9349 0.9342 0.9334 0.9313 0.9290 0.9266 0.9243 0.9220 0.9185 0.9146 0.9108 0.9070 0.9031 0.8993 0.8954 0.8916 0.8877 0.8839 0.8805 0.8774 0.8744 0.8713 0.8682 0.8647 0.8609 0.8571 0.8532 0.8494 0.8455 0.8417 0.8377 0.8333 0.8290 0.8247 0.8204 0.8160 0.8117 0.8074 0.8033 0.8002 0.7972 0.7941 0.7910 0.7879 0.7849 0.7818 0.7787 0.7756 0.7725 0.7699 0.7672 0.7645 0.7618 0.7591 0.7564 0.7537 0.7510 0.7483 0.7456 0.7368 0.7264 0.7160 0.7057 0.6953 0.6849 0.6745 0.6641 0.6537 0.6434 0.6334 0.6238 0.6142 0.6046 0.5950 0.5854 0.5758 0.5662 0.5566 0.5469 0.5381 0.5304 0.5227 0.5150 0.5073 0.4997 0.4920 0.4843 0.4766 0.4689 0.4614 0.4549 0.4484 0.4418 0.4353 0.4288 0.4222 0.4157 0.4092 0.4026 0.3961 0.3903 0.3845 0.3788 0.3730 0.3672 0.3615 0.3557 0.3499 0.3442 0.3384 0.3354 0.3331 0.3308 0.3285 0.3262 0.3239 0.3216 0.3193 0.3170 0.3146 0.3123 0.3100 0.3077 0.3054 0.3031"/><feFuncG type="table" tableValues="0.2078 0.2078 0.2078 0.2078 0.2078 0.2078 0.2078 0.2078 0.2078 0.2078 0.2078 0.2078 0.2078 0.2078 0.2078 0.2078 0.2078 0.2078 0.2078 0.2078 0.2078 0.2078 0.2078 0.2078 0.2078 0.2078 0.2078 0.2078 0.2078 0.2078 0.2078 0.2078 0.2158 0.2246 0.2335 0.2423 0.2512 0.2600 0.2689 0.2777 0.2865 0.2954 0.3048 0.3144 0.3240 0.3336 0.3432 0.3528 0.3624 0.3720 0.3817 0.3913 0.3997 0.4070 0.4142 0.4215 0.4288 0.4360 0.4433 0.4505 0.4578 0.4650 0.4720 0.4791 0.4861 0.4932 0.5002 0.5073 0.5143 0.5214 0.5284 0.5355 0.5425 0.5498 0.5601 0.5703 0.5806 0.5908 0.6011 0.6114 0.6265 0.6419 0.6573 0.6727 0.6880 0.7034 0.7199 0.7365 0.7532 0.7699 0.7865 0.8032 0.8203 0.8376 0.8549 0.8722 0.8846 0.8942 0.9038 0.9134 0.9180 0.9186 0.9193 0.9199 0.9206 0.9212 0.9219 0.9227 0.9234 0.9242 0.9250 0.9260 0.9276 0.9291 0.9306 0.9322 0.9336 0.9349 0.9362 0.9375 0.9388 0.9400 0.9413 0.9419 0.9425 0.9432 0.9438 0.9445 0.9451 0.9343 0.9236 0.9128 0.9020 0.8913 0.8812 0.8712 0.8612 0.8512 0.8412 0.8306 0.8198 0.8091 0.7983 0.7875 0.7746 0.7608 0.7469 0.7331 0.7193 0.7073 0.6965 0.6857 0.6750 0.6642 0.6520 0.6382 0.6245 0.6108 0.5970 0.5833 0.5696 0.5551 0.5392 0.5234 0.5075 0.4916 0.4758 0.4599 0.4441 0.4287 0.4152 0.4018 0.3883 0.3749 0.3614 0.3479 0.3345 0.3210 0.3076 0.2941 0.2853 0.2764 0.2676 0.2587 0.2499 0.2411 0.2322 0.2234 0.2145 0.2057 0.1993 0.1935 0.1878 0.1820 0.1762 0.1705 0.1647 0.1589 0.1532 0.1474 0.1433 0.1402 0.1371 0.1340 0.1309 0.1279 0.1248 0.1217 0.1186 0.1156 0.1131 0.1116 0.1100 0.1085 0.1070 0.1054 0.1039 0.1023 0.1008 0.0993 0.0977 0.0962 0.0947 0.0931 0.0916 0.0900 0.0885 0.0870 0.0854 0.0839 0.0824 0.0816 0.0808 0.0800 0.0793 0.0785 0.0777 0.0770 0.0762 0.0754 0.0747 0.0740 0.0735 0.0729 0.0723 0.0717 0.0712 0.0706 0.0700 0.0694 0.0689 0.0683 0.0677 0.0671 0.0666 0.0660"/><feFuncB type="table" tableValues="0.4667 0.4667 0.4667 0.4667 0.4667 0.4667 0.4667 0.4667 0.4667 0.4667 0.4667 0.4667 0.4667 0.4667 0.4667 0.4667 0.4667 0.4667 0.4667 0.4667 0.4667 0.4667 0.4667 0.4667 0.4667 0.4667 0.4667 0.4667 0.4667 0.4667 0.4667 0.4667 0.4615 0.4557 0.4499 0.4442 0.4384 0.4326 0.4269 0.4211 0.4153 0.4096 0.4041 0.3987 0.3933 0.3879 0.3825 0.3772 0.3718 0.3664 0.3610 0.3556 0.3508 0.3465 0.3423 0.3380 0.3337 0.3294 0.3252 0.3209 0.3166 0.3125 0.3087 0.3048 0.3010 0.2971 0.2933 0.2897 0.2871 0.2846 0.2820 0.2794 0.2769 0.2744 0.2724 0.2705 0.2686 0.2667 0.2647 0.2628 0.2597 0.2565 0.2533 0.2501 0.2469 0.2436 0.2410 0.2384 0.2359 0.2333 0.2307 0.2282 0.2219 0.2142 0.2065 0.1988 0.1936 0.1898 0.1859 0.1821 0.1822 0.1854 0.1886 0.1918 0.1950 0.1982 0.2105 0.2343 0.2582 0.2820 0.3058 0.3341 0.3710 0.4079 0.4448 0.4818 0.5169 0.5464 0.5758 0.6053 0.6348 0.6643 0.6928 0.7146 0.7364 0.7582 0.7800 0.8017 0.8235 0.8012 0.7789 0.7566 0.7343 0.7120 0.6863 0.6601 0.6340 0.6078 0.5817 0.5537 0.5253 0.4968 0.4684 0.4399 0.4098 0.3791 0.3483 0.3176 0.2868 0.2616 0.2401 0.2185 0.1970 0.1755 0.1639 0.1622 0.1606 0.1589 0.1573 0.1556 0.1540 0.1528 0.1523 0.1518 0.1513 0.1508 0.1504 0.1499 0.1494 0.1491 0.1495 0.1499 0.1502 0.1506 0.1510 0.1514 0.1518 0.1522 0.1526 0.1529 0.1529 0.1529 0.1529 0.1529 0.1529 0.1529 0.1529 0.1529 0.1529 0.1529 0.1539 0.1550 0.1562 0.1573 0.1585 0.1596 0.1608 0.1619 0.1631 0.1642 0.1629 0.1598 0.1567 0.1536 0.1506 0.1475 0.1444 0.1413 0.1383 0.1352 0.1327 0.1312 0.1296 0.1281 0.1266 0.1250 0.1235 0.1220 0.1204 0.1189 0.1173 0.1153 0.1134 0.1115 0.1096 0.1077 0.1057 0.1038 0.1019 0.1000 0.0980 0.0977 0.0973 0.0969 0.0965 0.0961 0.0957 0.0953 0.0950 0.0946 0.0942 0.0937 0.0931 0.0925 0.0919 0.0913 0.0908 0.0902 0.0896 0.0890 0.0885 0.0879 0.0873 0.0867 0.0862 0.0856"/></feComponentTransfer></filter>
<clipPath id="cp21"><rect x="430.7" y="656.4" width="327.0" height="325.6"/></clipPath>
<filter id="f21" filterUnits="userSpaceOnUse" x="428.7" y="654.4" width="331.0" height="329.6" color-interpolation-filters="sRGB"><feColorMatrix type="matrix" values="0.64 -0.64 0 0 0.50196 0.64 -0.64 0 0 0.50196 0.64 -0.64 0 0 0.50196 0 0 0 0 1"/><feComponentTransfer><feFuncR type="table" tableValues="0.1725 0.1725 0.1725 0.1725 0.1725 0.1725 0.1725 0.1725 0.1725 0.1725 0.1725 0.1725 0.1725 0.1725 0.1725 0.1725 0.1725 0.1725 0.1725 0.1725 0.1725 0.1725 0.1725 0.1725 0.1725 0.1725 0.1725 0.1725 0.1725 0.1725 0.1725 0.1725 0.1725 0.1725 0.1725 0.1725 0.1725 0.1725 0.1725 0.1725 0.1725 0.1725 0.1758 0.1804 0.1850 0.1896 0.1942 0.1988 0.2035 0.2081 0.2127 0.2173 0.2220 0.2267 0.2314 0.2361 0.2408 0.2455 0.2502 0.2549 0.2595 0.2646 0.2704 0.2761 0.2819 0.2877 0.2934 0.2994 0.3065 0.3135 0.3206 0.3276 0.3347 0.3420 0.3529 0.3638 0.3747 0.3856 0.3965 0.4074 0.4263 0.4455 0.4647 0.4840 0.5032 0.5224 0.5481 0.5750 0.6019 0.6288 0.6557 0.6827 0.7137 0.7464 0.7791 0.8118 0.8352 0.8535 0.8717 0.8900 0.8991 0.9010 0.9030 0.9049 0.9068 0.9087 0.9105 0.9120 0.9136 0.9151 0.9166 0.9184 0.9207 0.9230 0.9254 0.9277 0.9297 0.9310 0.9323 0.9336 0.9348 0.9361 0.9373 0.9373 0.9373 0.9373 0.9373 0.9373 0.9373 0.9365 0.9357 0.9349 0.9342 0.9334 0.9313 0.9290 0.9266 0.9243 0.9220 0.9185 0.9146 0.9108 0.9070 0.9031 0.8993 0.8954 0.8916 0.8877 0.8839 0.8805 0.8774 0.8744 0.8713 0.8682 0.8647 0.8609 0.8571 0.8532 0.8494 0.8455 0.8417 0.8377 0.8333 0.8290 0.8247 0.8204 0.8160 0.8117 0.8074 0.8033 0.8002 0.7972 0.7941 0.7910 0.7879 0.7849 0.7818 0.7787 0.7756 0.7725 0.7699 0.7672 0.7645 0.7618 0.7591 0.7564 0.7537 0.7510 0.7483 0.7456 0.7368 0.7264 0.7160 0.7057 0.6953 0.6849 0.6745 0.6641 0.6537 0.6434 0.6334 0.6238 0.6142 0.6046 0.5950 0.5854 0.5758 0.5662 0.5566 0.5469 0.5381 0.5304 0.5227 0.5150 0.5073 0.4997 0.4920 0.4843 0.4766 0.4689 0.4614 0.4549 0.4484 0.4418 0.4353 0.4288 0.4222 0.4157 0.4092 0.4026 0.3961 0.3903 0.3845 0.3788 0.3730 0.3672 0.3615 0.3557 0.3499 0.3442 0.3384 0.3354 0.3331 0.3308 0.3285 0.3262 0.3239 0.3216 0.3193 0.3170 0.3146 0.3123 0.3100 0.3077 0.3054 0.3031"/><feFuncG type="table" tableValues="0.2078 0.2078 0.2078 0.2078 0.2078 0.2078 0.2078 0.2078 0.2078 0.2078 0.2078 0.2078 0.2078 0.2078 0.2078 0.2078 0.2078 0.2078 0.2078 0.2078 0.2078 0.2078 0.2078 0.2078 0.2078 0.2078 0.2078 0.2078 0.2078 0.2078 0.2078 0.2078 0.2158 0.2246 0.2335 0.2423 0.2512 0.2600 0.2689 0.2777 0.2865 0.2954 0.3048 0.3144 0.3240 0.3336 0.3432 0.3528 0.3624 0.3720 0.3817 0.3913 0.3997 0.4070 0.4142 0.4215 0.4288 0.4360 0.4433 0.4505 0.4578 0.4650 0.4720 0.4791 0.4861 0.4932 0.5002 0.5073 0.5143 0.5214 0.5284 0.5355 0.5425 0.5498 0.5601 0.5703 0.5806 0.5908 0.6011 0.6114 0.6265 0.6419 0.6573 0.6727 0.6880 0.7034 0.7199 0.7365 0.7532 0.7699 0.7865 0.8032 0.8203 0.8376 0.8549 0.8722 0.8846 0.8942 0.9038 0.9134 0.9180 0.9186 0.9193 0.9199 0.9206 0.9212 0.9219 0.9227 0.9234 0.9242 0.9250 0.9260 0.9276 0.9291 0.9306 0.9322 0.9336 0.9349 0.9362 0.9375 0.9388 0.9400 0.9413 0.9419 0.9425 0.9432 0.9438 0.9445 0.9451 0.9343 0.9236 0.9128 0.9020 0.8913 0.8812 0.8712 0.8612 0.8512 0.8412 0.8306 0.8198 0.8091 0.7983 0.7875 0.7746 0.7608 0.7469 0.7331 0.7193 0.7073 0.6965 0.6857 0.6750 0.6642 0.6520 0.6382 0.6245 0.6108 0.5970 0.5833 0.5696 0.5551 0.5392 0.5234 0.5075 0.4916 0.4758 0.4599 0.4441 0.4287 0.4152 0.4018 0.3883 0.3749 0.3614 0.3479 0.3345 0.3210 0.3076 0.2941 0.2853 0.2764 0.2676 0.2587 0.2499 0.2411 0.2322 0.2234 0.2145 0.2057 0.1993 0.1935 0.1878 0.1820 0.1762 0.1705 0.1647 0.1589 0.1532 0.1474 0.1433 0.1402 0.1371 0.1340 0.1309 0.1279 0.1248 0.1217 0.1186 0.1156 0.1131 0.1116 0.1100 0.1085 0.1070 0.1054 0.1039 0.1023 0.1008 0.0993 0.0977 0.0962 0.0947 0.0931 0.0916 0.0900 0.0885 0.0870 0.0854 0.0839 0.0824 0.0816 0.0808 0.0800 0.0793 0.0785 0.0777 0.0770 0.0762 0.0754 0.0747 0.0740 0.0735 0.0729 0.0723 0.0717 0.0712 0.0706 0.0700 0.0694 0.0689 0.0683 0.0677 0.0671 0.0666 0.0660"/><feFuncB type="table" tableValues="0.4667 0.4667 0.4667 0.4667 0.4667 0.4667 0.4667 0.4667 0.4667 0.4667 0.4667 0.4667 0.4667 0.4667 0.4667 0.4667 0.4667 0.4667 0.4667 0.4667 0.4667 0.4667 0.4667 0.4667 0.4667 0.4667 0.4667 0.4667 0.4667 0.4667 0.4667 0.4667 0.4615 0.4557 0.4499 0.4442 0.4384 0.4326 0.4269 0.4211 0.4153 0.4096 0.4041 0.3987 0.3933 0.3879 0.3825 0.3772 0.3718 0.3664 0.3610 0.3556 0.3508 0.3465 0.3423 0.3380 0.3337 0.3294 0.3252 0.3209 0.3166 0.3125 0.3087 0.3048 0.3010 0.2971 0.2933 0.2897 0.2871 0.2846 0.2820 0.2794 0.2769 0.2744 0.2724 0.2705 0.2686 0.2667 0.2647 0.2628 0.2597 0.2565 0.2533 0.2501 0.2469 0.2436 0.2410 0.2384 0.2359 0.2333 0.2307 0.2282 0.2219 0.2142 0.2065 0.1988 0.1936 0.1898 0.1859 0.1821 0.1822 0.1854 0.1886 0.1918 0.1950 0.1982 0.2105 0.2343 0.2582 0.2820 0.3058 0.3341 0.3710 0.4079 0.4448 0.4818 0.5169 0.5464 0.5758 0.6053 0.6348 0.6643 0.6928 0.7146 0.7364 0.7582 0.7800 0.8017 0.8235 0.8012 0.7789 0.7566 0.7343 0.7120 0.6863 0.6601 0.6340 0.6078 0.5817 0.5537 0.5253 0.4968 0.4684 0.4399 0.4098 0.3791 0.3483 0.3176 0.2868 0.2616 0.2401 0.2185 0.1970 0.1755 0.1639 0.1622 0.1606 0.1589 0.1573 0.1556 0.1540 0.1528 0.1523 0.1518 0.1513 0.1508 0.1504 0.1499 0.1494 0.1491 0.1495 0.1499 0.1502 0.1506 0.1510 0.1514 0.1518 0.1522 0.1526 0.1529 0.1529 0.1529 0.1529 0.1529 0.1529 0.1529 0.1529 0.1529 0.1529 0.1529 0.1539 0.1550 0.1562 0.1573 0.1585 0.1596 0.1608 0.1619 0.1631 0.1642 0.1629 0.1598 0.1567 0.1536 0.1506 0.1475 0.1444 0.1413 0.1383 0.1352 0.1327 0.1312 0.1296 0.1281 0.1266 0.1250 0.1235 0.1220 0.1204 0.1189 0.1173 0.1153 0.1134 0.1115 0.1096 0.1077 0.1057 0.1038 0.1019 0.1000 0.0980 0.0977 0.0973 0.0969 0.0965 0.0961 0.0957 0.0953 0.0950 0.0946 0.0942 0.0937 0.0931 0.0925 0.0919 0.0913 0.0908 0.0902 0.0896 0.0890 0.0885 0.0879 0.0873 0.0867 0.0862 0.0856"/></feComponentTransfer></filter>
<clipPath id="cp22"><rect x="766.7" y="656.4" width="327.3" height="325.6"/></clipPath>
<filter id="f22" filterUnits="userSpaceOnUse" x="764.7" y="654.4" width="331.3" height="329.6" color-interpolation-filters="sRGB"><feColorMatrix type="matrix" values="0.64 -0.64 0 0 0.50196 0.64 -0.64 0 0 0.50196 0.64 -0.64 0 0 0.50196 0 0 0 0 1"/><feComponentTransfer><feFuncR type="table" tableValues="0.1725 0.1725 0.1725 0.1725 0.1725 0.1725 0.1725 0.1725 0.1725 0.1725 0.1725 0.1725 0.1725 0.1725 0.1725 0.1725 0.1725 0.1725 0.1725 0.1725 0.1725 0.1725 0.1725 0.1725 0.1725 0.1725 0.1725 0.1725 0.1725 0.1725 0.1725 0.1725 0.1725 0.1725 0.1725 0.1725 0.1725 0.1725 0.1725 0.1725 0.1725 0.1725 0.1758 0.1804 0.1850 0.1896 0.1942 0.1988 0.2035 0.2081 0.2127 0.2173 0.2220 0.2267 0.2314 0.2361 0.2408 0.2455 0.2502 0.2549 0.2595 0.2646 0.2704 0.2761 0.2819 0.2877 0.2934 0.2994 0.3065 0.3135 0.3206 0.3276 0.3347 0.3420 0.3529 0.3638 0.3747 0.3856 0.3965 0.4074 0.4263 0.4455 0.4647 0.4840 0.5032 0.5224 0.5481 0.5750 0.6019 0.6288 0.6557 0.6827 0.7137 0.7464 0.7791 0.8118 0.8352 0.8535 0.8717 0.8900 0.8991 0.9010 0.9030 0.9049 0.9068 0.9087 0.9105 0.9120 0.9136 0.9151 0.9166 0.9184 0.9207 0.9230 0.9254 0.9277 0.9297 0.9310 0.9323 0.9336 0.9348 0.9361 0.9373 0.9373 0.9373 0.9373 0.9373 0.9373 0.9373 0.9365 0.9357 0.9349 0.9342 0.9334 0.9313 0.9290 0.9266 0.9243 0.9220 0.9185 0.9146 0.9108 0.9070 0.9031 0.8993 0.8954 0.8916 0.8877 0.8839 0.8805 0.8774 0.8744 0.8713 0.8682 0.8647 0.8609 0.8571 0.8532 0.8494 0.8455 0.8417 0.8377 0.8333 0.8290 0.8247 0.8204 0.8160 0.8117 0.8074 0.8033 0.8002 0.7972 0.7941 0.7910 0.7879 0.7849 0.7818 0.7787 0.7756 0.7725 0.7699 0.7672 0.7645 0.7618 0.7591 0.7564 0.7537 0.7510 0.7483 0.7456 0.7368 0.7264 0.7160 0.7057 0.6953 0.6849 0.6745 0.6641 0.6537 0.6434 0.6334 0.6238 0.6142 0.6046 0.5950 0.5854 0.5758 0.5662 0.5566 0.5469 0.5381 0.5304 0.5227 0.5150 0.5073 0.4997 0.4920 0.4843 0.4766 0.4689 0.4614 0.4549 0.4484 0.4418 0.4353 0.4288 0.4222 0.4157 0.4092 0.4026 0.3961 0.3903 0.3845 0.3788 0.3730 0.3672 0.3615 0.3557 0.3499 0.3442 0.3384 0.3354 0.3331 0.3308 0.3285 0.3262 0.3239 0.3216 0.3193 0.3170 0.3146 0.3123 0.3100 0.3077 0.3054 0.3031"/><feFuncG type="table" tableValues="0.2078 0.2078 0.2078 0.2078 0.2078 0.2078 0.2078 0.2078 0.2078 0.2078 0.2078 0.2078 0.2078 0.2078 0.2078 0.2078 0.2078 0.2078 0.2078 0.2078 0.2078 0.2078 0.2078 0.2078 0.2078 0.2078 0.2078 0.2078 0.2078 0.2078 0.2078 0.2078 0.2158 0.2246 0.2335 0.2423 0.2512 0.2600 0.2689 0.2777 0.2865 0.2954 0.3048 0.3144 0.3240 0.3336 0.3432 0.3528 0.3624 0.3720 0.3817 0.3913 0.3997 0.4070 0.4142 0.4215 0.4288 0.4360 0.4433 0.4505 0.4578 0.4650 0.4720 0.4791 0.4861 0.4932 0.5002 0.5073 0.5143 0.5214 0.5284 0.5355 0.5425 0.5498 0.5601 0.5703 0.5806 0.5908 0.6011 0.6114 0.6265 0.6419 0.6573 0.6727 0.6880 0.7034 0.7199 0.7365 0.7532 0.7699 0.7865 0.8032 0.8203 0.8376 0.8549 0.8722 0.8846 0.8942 0.9038 0.9134 0.9180 0.9186 0.9193 0.9199 0.9206 0.9212 0.9219 0.9227 0.9234 0.9242 0.9250 0.9260 0.9276 0.9291 0.9306 0.9322 0.9336 0.9349 0.9362 0.9375 0.9388 0.9400 0.9413 0.9419 0.9425 0.9432 0.9438 0.9445 0.9451 0.9343 0.9236 0.9128 0.9020 0.8913 0.8812 0.8712 0.8612 0.8512 0.8412 0.8306 0.8198 0.8091 0.7983 0.7875 0.7746 0.7608 0.7469 0.7331 0.7193 0.7073 0.6965 0.6857 0.6750 0.6642 0.6520 0.6382 0.6245 0.6108 0.5970 0.5833 0.5696 0.5551 0.5392 0.5234 0.5075 0.4916 0.4758 0.4599 0.4441 0.4287 0.4152 0.4018 0.3883 0.3749 0.3614 0.3479 0.3345 0.3210 0.3076 0.2941 0.2853 0.2764 0.2676 0.2587 0.2499 0.2411 0.2322 0.2234 0.2145 0.2057 0.1993 0.1935 0.1878 0.1820 0.1762 0.1705 0.1647 0.1589 0.1532 0.1474 0.1433 0.1402 0.1371 0.1340 0.1309 0.1279 0.1248 0.1217 0.1186 0.1156 0.1131 0.1116 0.1100 0.1085 0.1070 0.1054 0.1039 0.1023 0.1008 0.0993 0.0977 0.0962 0.0947 0.0931 0.0916 0.0900 0.0885 0.0870 0.0854 0.0839 0.0824 0.0816 0.0808 0.0800 0.0793 0.0785 0.0777 0.0770 0.0762 0.0754 0.0747 0.0740 0.0735 0.0729 0.0723 0.0717 0.0712 0.0706 0.0700 0.0694 0.0689 0.0683 0.0677 0.0671 0.0666 0.0660"/><feFuncB type="table" tableValues="0.4667 0.4667 0.4667 0.4667 0.4667 0.4667 0.4667 0.4667 0.4667 0.4667 0.4667 0.4667 0.4667 0.4667 0.4667 0.4667 0.4667 0.4667 0.4667 0.4667 0.4667 0.4667 0.4667 0.4667 0.4667 0.4667 0.4667 0.4667 0.4667 0.4667 0.4667 0.4667 0.4615 0.4557 0.4499 0.4442 0.4384 0.4326 0.4269 0.4211 0.4153 0.4096 0.4041 0.3987 0.3933 0.3879 0.3825 0.3772 0.3718 0.3664 0.3610 0.3556 0.3508 0.3465 0.3423 0.3380 0.3337 0.3294 0.3252 0.3209 0.3166 0.3125 0.3087 0.3048 0.3010 0.2971 0.2933 0.2897 0.2871 0.2846 0.2820 0.2794 0.2769 0.2744 0.2724 0.2705 0.2686 0.2667 0.2647 0.2628 0.2597 0.2565 0.2533 0.2501 0.2469 0.2436 0.2410 0.2384 0.2359 0.2333 0.2307 0.2282 0.2219 0.2142 0.2065 0.1988 0.1936 0.1898 0.1859 0.1821 0.1822 0.1854 0.1886 0.1918 0.1950 0.1982 0.2105 0.2343 0.2582 0.2820 0.3058 0.3341 0.3710 0.4079 0.4448 0.4818 0.5169 0.5464 0.5758 0.6053 0.6348 0.6643 0.6928 0.7146 0.7364 0.7582 0.7800 0.8017 0.8235 0.8012 0.7789 0.7566 0.7343 0.7120 0.6863 0.6601 0.6340 0.6078 0.5817 0.5537 0.5253 0.4968 0.4684 0.4399 0.4098 0.3791 0.3483 0.3176 0.2868 0.2616 0.2401 0.2185 0.1970 0.1755 0.1639 0.1622 0.1606 0.1589 0.1573 0.1556 0.1540 0.1528 0.1523 0.1518 0.1513 0.1508 0.1504 0.1499 0.1494 0.1491 0.1495 0.1499 0.1502 0.1506 0.1510 0.1514 0.1518 0.1522 0.1526 0.1529 0.1529 0.1529 0.1529 0.1529 0.1529 0.1529 0.1529 0.1529 0.1529 0.1529 0.1539 0.1550 0.1562 0.1573 0.1585 0.1596 0.1608 0.1619 0.1631 0.1642 0.1629 0.1598 0.1567 0.1536 0.1506 0.1475 0.1444 0.1413 0.1383 0.1352 0.1327 0.1312 0.1296 0.1281 0.1266 0.1250 0.1235 0.1220 0.1204 0.1189 0.1173 0.1153 0.1134 0.1115 0.1096 0.1077 0.1057 0.1038 0.1019 0.1000 0.0980 0.0977 0.0973 0.0969 0.0965 0.0961 0.0957 0.0953 0.0950 0.0946 0.0942 0.0937 0.0931 0.0925 0.0919 0.0913 0.0908 0.0902 0.0896 0.0890 0.0885 0.0879 0.0873 0.0867 0.0862 0.0856"/></feComponentTransfer></filter>
<linearGradient id="cbg" x1="0" y1="0" x2="0" y2="1"><stop offset="0.0000" stop-color="rgb(145,27,33)"/><stop offset="0.0167" stop-color="rgb(151,28,34)"/><stop offset="0.0333" stop-color="rgb(160,29,35)"/><stop offset="0.0500" stop-color="rgb(168,30,36)"/><stop offset="0.0667" stop-color="rgb(176,32,37)"/><stop offset="0.0833" stop-color="rgb(183,33,38)"/><stop offset="0.1000" stop-color="rgb(191,36,38)"/><stop offset="0.1167" stop-color="rgb(201,43,38)"/><stop offset="0.1333" stop-color="rgb(211,50,38)"/><stop offset="0.1500" stop-color="rgb(221,56,38)"/><stop offset="0.1667" stop-color="rgb(230,61,37)"/><stop offset="0.1833" stop-color="rgb(236,67,36)"/><stop offset="0.2000" stop-color="rgb(237,77,35)"/><stop offset="0.2167" stop-color="rgb(238,87,36)"/><stop offset="0.2333" stop-color="rgb(239,96,40)"/><stop offset="0.2500" stop-color="rgb(240,106,41)"/><stop offset="0.2667" stop-color="rgb(241,116,39)"/><stop offset="0.2833" stop-color="rgb(242,127,36)"/><stop offset="0.3000" stop-color="rgb(244,137,34)"/><stop offset="0.3167" stop-color="rgb(246,146,32)"/><stop offset="0.3333" stop-color="rgb(247,155,30)"/><stop offset="0.3500" stop-color="rgb(248,165,28)"/><stop offset="0.3667" stop-color="rgb(249,175,32)"/><stop offset="0.3833" stop-color="rgb(249,185,56)"/><stop offset="0.4000" stop-color="rgb(249,195,81)"/><stop offset="0.4167" stop-color="rgb(248,203,108)"/><stop offset="0.4333" stop-color="rgb(246,211,136)"/><stop offset="0.4500" stop-color="rgb(245,219,158)"/><stop offset="0.4667" stop-color="rgb(243,226,180)"/><stop offset="0.4833" stop-color="rgb(242,233,199)"/><stop offset="0.5000" stop-color="rgb(240,240,218)"/><stop offset="0.5167" stop-color="rgb(241,239,200)"/><stop offset="0.5333" stop-color="rgb(242,237,182)"/><stop offset="0.5500" stop-color="rgb(242,236,162)"/><stop offset="0.5667" stop-color="rgb(243,234,141)"/><stop offset="0.5833" stop-color="rgb(243,234,118)"/><stop offset="0.6000" stop-color="rgb(244,233,96)"/><stop offset="0.6167" stop-color="rgb(244,233,68)"/><stop offset="0.6333" stop-color="rgb(245,232,38)"/><stop offset="0.6500" stop-color="rgb(237,229,29)"/><stop offset="0.6667" stop-color="rgb(224,224,34)"/><stop offset="0.6833" stop-color="rgb(207,217,40)"/><stop offset="0.7000" stop-color="rgb(184,209,51)"/><stop offset="0.7167" stop-color="rgb(160,199,59)"/><stop offset="0.7333" stop-color="rgb(136,185,63)"/><stop offset="0.7500" stop-color="rgb(114,174,67)"/><stop offset="0.7667" stop-color="rgb(92,165,72)"/><stop offset="0.7833" stop-color="rgb(58,147,84)"/><stop offset="0.8000" stop-color="rgb(45,133,89)"/><stop offset="0.8167" stop-color="rgb(42,120,90)"/><stop offset="0.8333" stop-color="rgb(39,110,93)"/><stop offset="0.8500" stop-color="rgb(37,99,95)"/><stop offset="0.8667" stop-color="rgb(32,87,101)"/><stop offset="0.8833" stop-color="rgb(28,75,106)"/><stop offset="0.9000" stop-color="rgb(30,68,109)"/><stop offset="0.9167" stop-color="rgb(34,62,112)"/><stop offset="0.9333" stop-color="rgb(40,56,115)"/><stop offset="0.9500" stop-color="rgb(42,50,118)"/><stop offset="0.9667" stop-color="rgb(43,46,120)"/><stop offset="0.9833" stop-color="rgb(44,44,122)"/><stop offset="1.0000" stop-color="rgb(44,42,124)"/></linearGradient>
</defs>
<g clip-path="url(#cp00)"><g filter="url(#f00)">
<rect x="98.6" y="-1.2" width="325.1" height="324.0" fill="#000"/>
<ellipse cx="311.5" cy="152.7" rx="180.6" ry="113.8" transform="rotate(61.7 311.5 152.7)" fill="url(#gRn3_07)" fill-opacity="0.3131" class="pl"/>
<ellipse cx="382.7" cy="184.3" rx="260.1" ry="174.2" transform="rotate(78.3 382.7 184.3)" fill="url(#gRn0_8)" fill-opacity="0.1019" class="pl"/>
<ellipse cx="172.0" cy="127.0" rx="122.3" ry="93.5" transform="rotate(62.0 172.0 127.0)" fill="url(#gGn2)" fill-opacity="0.0281" class="pl"/>
</g></g>
<g clip-path="url(#cp01)"><g filter="url(#f01)">
<rect x="428.7" y="-1.2" width="331.0" height="324.0" fill="#000"/>
<ellipse cx="613.5" cy="149.5" rx="250.6" ry="151.0" transform="rotate(66.1 613.5 149.5)" fill="url(#gRn0_87)" fill-opacity="0.8531" class="pl"/>
<ellipse cx="545.5" cy="133.0" rx="376.1" ry="197.7" transform="rotate(66.3 545.5 133.0)" fill="url(#gGn0_6)" fill-opacity="0.1842" class="pl"/>
<ellipse cx="668.0" cy="161.8" rx="338.8" ry="238.3" transform="rotate(62.6 668.0 161.8)" fill="url(#gGn0_7)" fill-opacity="0.3500" class="pl"/>
<ellipse cx="495.0" cy="133.0" rx="269.8" ry="197.8" transform="rotate(78.0 495.0 133.0)" fill="url(#gGn2)" fill-opacity="0.0344" class="pl"/>
<ellipse cx="712.0" cy="168.0" rx="215.8" ry="165.5" transform="rotate(68.0 712.0 168.0)" fill="url(#gGn2)" fill-opacity="0.0625" class="pl"/>
</g></g>
<g clip-path="url(#cp02)"><g filter="url(#f02)">
<rect x="764.7" y="-1.2" width="331.3" height="324.0" fill="#000"/>
<ellipse cx="966.7" cy="149.8" rx="198.1" ry="133.7" transform="rotate(54.5 966.7 149.8)" fill="url(#gGp1)" fill-opacity="0.3818" class="pl"/>
<ellipse cx="1004.7" cy="181.8" rx="370.5" ry="320.0" transform="rotate(76.3 1004.7 181.8)" fill="url(#gGp1)" fill-opacity="0.0587" class="pl"/>
<ellipse cx="886.8" cy="141.2" rx="289.4" ry="163.7" transform="rotate(63.2 886.8 141.2)" fill="url(#gRp1)" fill-opacity="0.0625" class="pl"/>
</g></g>
<g clip-path="url(#cp10)"><g filter="url(#f10)">
<rect x="98.6" y="326.2" width="325.1" height="324.4" fill="#000"/>
<ellipse cx="262.9" cy="473.6" rx="208.4" ry="111.6" transform="rotate(67.8 262.9 473.6)" fill="url(#gRn1_864)" fill-opacity="0.9506" class="pl"/>
<ellipse cx="217.6" cy="467.5" rx="230.9" ry="162.7" transform="rotate(37.5 217.6 467.5)" fill="url(#gGn3_5)" fill-opacity="0.3344" class="pl"/>
<ellipse cx="310.0" cy="477.8" rx="608.2" ry="317.6" transform="rotate(27.7 310.0 477.8)" fill="url(#gGn0_5)" fill-opacity="0.1112" class="pl"/>
<ellipse cx="365.0" cy="500.0" rx="179.8" ry="136.7" transform="rotate(70.0 365.0 500.0)" fill="url(#gGn2)" fill-opacity="0.0200" class="pl"/>
<ellipse cx="145.0" cy="450.0" rx="197.8" ry="161.9" transform="rotate(70.0 145.0 450.0)" fill="url(#gGn2)" fill-opacity="0.0312" class="pl"/>
</g></g>
<g clip-path="url(#cp11)"><g filter="url(#f11)">
<rect x="428.7" y="326.2" width="331.0" height="324.4" fill="#000"/>
<ellipse cx="567.0" cy="469.0" rx="232.4" ry="166.0" transform="rotate(45.0 567.0 469.0)" fill="url(#gRn1_2)" fill-opacity="0.2625" class="pl"/>
<ellipse cx="530.0" cy="437.0" rx="283.1" ry="200.9" transform="rotate(38.0 530.0 437.0)" fill="url(#gRn1_5)" fill-opacity="0.1000" class="pl"/>
<ellipse cx="704.0" cy="495.0" rx="115.1" ry="82.7" transform="rotate(62.0 704.0 495.0)" fill="url(#gGn2)" fill-opacity="0.0312" class="pl"/>
</g></g>
<g clip-path="url(#cp12)"><g filter="url(#f12)">
<rect x="764.7" y="326.2" width="331.3" height="324.4" fill="#000"/>
<ellipse cx="910.0" cy="470.0" rx="178.7" ry="119.1" transform="rotate(50.0 910.0 470.0)" fill="url(#gGn1_36)" fill-opacity="0.3531" class="pl"/>
<ellipse cx="915.0" cy="476.0" rx="230.2" ry="154.7" transform="rotate(50.0 915.0 476.0)" fill="url(#gGn2)" fill-opacity="0.0562" class="pl"/>
<ellipse cx="1015.0" cy="490.0" rx="182.6" ry="118.7" transform="rotate(72.0 1015.0 490.0)" fill="url(#gRn1_5)" fill-opacity="0.0387" class="pl"/>
</g></g>
<g clip-path="url(#cp20)"><g filter="url(#f20)">
<rect x="98.6" y="654.4" width="325.1" height="329.6" fill="#000"/>
<ellipse cx="290.0" cy="810.0" rx="221.1" ry="136.5" transform="rotate(66.0 290.0 810.0)" fill="url(#gGn1)" fill-opacity="0.3250" class="pl"/>
<ellipse cx="295.0" cy="815.0" rx="244.6" ry="129.5" transform="rotate(66.0 295.0 815.0)" fill="url(#gGn2)" fill-opacity="0.0594" class="pl"/>
<ellipse cx="318.0" cy="858.0" rx="251.1" ry="146.1" transform="rotate(62.0 318.0 858.0)" fill="url(#gGn1_5)" fill-opacity="0.0438" class="pl"/>
<ellipse cx="203.0" cy="800.0" rx="264.8" ry="109.6" transform="rotate(74.0 203.0 800.0)" fill="url(#gRn1_5)" fill-opacity="0.0625" class="pl"/>
</g></g>
<g clip-path="url(#cp21)"><g filter="url(#f21)">
<rect x="428.7" y="654.4" width="331.0" height="329.6" fill="#000"/>
<ellipse cx="582.0" cy="801.0" rx="221.1" ry="143.1" transform="rotate(66.0 582.0 801.0)" fill="url(#gGn1)" fill-opacity="0.3250" class="pl"/>
<ellipse cx="580.0" cy="800.0" rx="244.6" ry="133.1" transform="rotate(66.0 580.0 800.0)" fill="url(#gGn2)" fill-opacity="0.0562" class="pl"/>
<ellipse cx="575.0" cy="792.0" rx="305.7" ry="172.7" transform="rotate(62.0 575.0 792.0)" fill="url(#gGn2)" fill-opacity="0.0250" class="pl"/>
<ellipse cx="675.0" cy="826.0" rx="251.1" ry="105.0" transform="rotate(76.0 675.0 826.0)" fill="url(#gRn1_5)" fill-opacity="0.0594" class="pl"/>
</g></g>
<g clip-path="url(#cp22)"><g filter="url(#f22)">
<rect x="764.7" y="654.4" width="331.3" height="329.6" fill="#000"/>
<ellipse cx="940.5" cy="807.5" rx="276.3" ry="165.8" transform="rotate(60.0 940.5 807.5)" fill="url(#gRn1)" fill-opacity="0.6031" class="pl"/>
</g></g>
<g stroke="#000" stroke-width="1.0" fill="none" clip-path="url(#cp00)">
<polyline points="284.0,0.0 307.0,115.1 422.5,138.1"/>
<polyline points="307.0,115.1 238.2,183.7"/>
<polyline points="99.5,156.1 238.2,183.7 265.9,322.0"/>
</g>
<g stroke="#000" fill="none">
<rect x="100.6" y="0.8" width="321.1" height="320.0" stroke-width="1.7"/>
<line x1="146.4" y1="320.8" x2="146.4" y2="328.3" stroke-width="1.6"/>
<line x1="329.9" y1="320.8" x2="329.9" y2="328.3" stroke-width="1.6"/>
<line x1="100.6" y1="92.2" x2="92.4" y2="92.2" stroke-width="1.6"/>
<line x1="100.6" y1="275.2" x2="92.4" y2="275.2" stroke-width="1.6"/>
<rect x="430.7" y="0.8" width="327.0" height="320.0" stroke-width="1.7"/>
<line x1="477.4" y1="320.8" x2="477.4" y2="328.3" stroke-width="1.6"/>
<line x1="664.1" y1="320.8" x2="664.1" y2="328.3" stroke-width="1.6"/>
<line x1="430.7" y1="92.2" x2="422.5" y2="92.2" stroke-width="1.6"/>
<line x1="430.7" y1="275.2" x2="422.5" y2="275.2" stroke-width="1.6"/>
<rect x="766.7" y="0.8" width="327.3" height="320.0" stroke-width="1.7"/>
<line x1="813.3" y1="320.8" x2="813.3" y2="328.3" stroke-width="1.6"/>
<line x1="1000.2" y1="320.8" x2="1000.2" y2="328.3" stroke-width="1.6"/>
<line x1="766.7" y1="92.2" x2="758.5" y2="92.2" stroke-width="1.6"/>
<line x1="766.7" y1="275.2" x2="758.5" y2="275.2" stroke-width="1.6"/>
<rect x="100.6" y="328.2" width="321.1" height="320.4" stroke-width="1.7"/>
<line x1="146.4" y1="648.6" x2="146.4" y2="656.1" stroke-width="1.6"/>
<line x1="329.9" y1="648.6" x2="329.9" y2="656.1" stroke-width="1.6"/>
<line x1="100.6" y1="420.2" x2="92.4" y2="420.2" stroke-width="1.6"/>
<line x1="100.6" y1="602.8" x2="92.4" y2="602.8" stroke-width="1.6"/>
<rect x="430.7" y="328.2" width="327.0" height="320.4" stroke-width="1.7"/>
<line x1="477.4" y1="648.6" x2="477.4" y2="656.1" stroke-width="1.6"/>
<line x1="664.1" y1="648.6" x2="664.1" y2="656.1" stroke-width="1.6"/>
<line x1="430.7" y1="420.2" x2="422.5" y2="420.2" stroke-width="1.6"/>
<line x1="430.7" y1="602.8" x2="422.5" y2="602.8" stroke-width="1.6"/>
<rect x="766.7" y="328.2" width="327.3" height="320.4" stroke-width="1.7"/>
<line x1="813.3" y1="648.6" x2="813.3" y2="656.1" stroke-width="1.6"/>
<line x1="1000.2" y1="648.6" x2="1000.2" y2="656.1" stroke-width="1.6"/>
<line x1="766.7" y1="420.2" x2="758.5" y2="420.2" stroke-width="1.6"/>
<line x1="766.7" y1="602.8" x2="758.5" y2="602.8" stroke-width="1.6"/>
<rect x="100.6" y="656.4" width="321.1" height="325.6" stroke-width="1.7"/>
<line x1="146.4" y1="982.0" x2="146.4" y2="989.5" stroke-width="1.6"/>
<line x1="329.9" y1="982.0" x2="329.9" y2="989.5" stroke-width="1.6"/>
<line x1="100.6" y1="749.3" x2="92.4" y2="749.3" stroke-width="1.6"/>
<line x1="100.6" y1="935.5" x2="92.4" y2="935.5" stroke-width="1.6"/>
<rect x="430.7" y="656.4" width="327.0" height="325.6" stroke-width="1.7"/>
<line x1="477.4" y1="982.0" x2="477.4" y2="989.5" stroke-width="1.6"/>
<line x1="664.1" y1="982.0" x2="664.1" y2="989.5" stroke-width="1.6"/>
<line x1="430.7" y1="749.3" x2="422.5" y2="749.3" stroke-width="1.6"/>
<line x1="430.7" y1="935.5" x2="422.5" y2="935.5" stroke-width="1.6"/>
<rect x="766.7" y="656.4" width="327.3" height="325.6" stroke-width="1.7"/>
<line x1="813.3" y1="982.0" x2="813.3" y2="989.5" stroke-width="1.6"/>
<line x1="1000.2" y1="982.0" x2="1000.2" y2="989.5" stroke-width="1.6"/>
<line x1="766.7" y1="749.3" x2="758.5" y2="749.3" stroke-width="1.6"/>
<line x1="766.7" y1="935.5" x2="758.5" y2="935.5" stroke-width="1.6"/>
</g>
<g opacity="0.999">
<text font-size="1" transform="matrix(40.2139 0 0 35.0376 138.50 54.85)" font-style="italic">J</text>
<text font-size="1" transform="matrix(26.4115 0 0 25.1908 155.57 59.80)">L</text>
<text font-size="1" transform="matrix(30.2913 0 0 36.9146 175.91 54.76)">(</text>
<path fill-rule="evenodd" d="M188.00,54.80 L200.10,30.70 L212.80,54.80 Z M191.00,51.80 L207.50,51.80 L199.70,34.90 Z"/>
<text font-size="1" transform="matrix(40.0000 0 0 34.1985 212.60 54.30)" font-style="italic">T</text>
<text font-size="1" transform="matrix(26.4115 0 0 25.1908 234.27 59.80)">L</text>
<text font-size="1" transform="matrix(31.8447 0 0 36.9146 252.37 54.76)">)</text>
<text font-size="1" transform="matrix(22.9213 0 0 40.3614 277.28 57.15)">[</text>
<text font-size="1" transform="matrix(33.3884 0 0 33.4752 284.90 54.30)">f</text>
<text font-size="1" transform="matrix(35.4377 0 0 34.1791 294.20 54.29)">W</text>
<text font-size="1" transform="matrix(24.4444 0 0 40.3614 328.14 57.15)">]</text>
<text font-size="1" transform="matrix(32.0388 0 0 37.7410 138.64 284.18)">(</text>
<text font-size="1" transform="matrix(33.5000 0 0 33.5000 150.16 284.00)">a</text>
<text font-size="1" transform="matrix(31.0680 0 0 37.7410 167.28 284.18)">)</text>
<text font-size="1" transform="matrix(40.2139 0 0 35.0376 469.40 54.85)" font-style="italic">J</text>
<text font-size="1" transform="matrix(28.0784 0 0 25.1908 486.43 59.80)">R</text>
<text font-size="1" transform="matrix(30.2913 0 0 36.9146 509.51 54.76)">(</text>
<path fill-rule="evenodd" d="M521.60,54.80 L533.70,30.70 L546.40,54.80 Z M524.60,51.80 L541.10,51.80 L533.30,34.90 Z"/>
<text font-size="1" transform="matrix(40.0000 0 0 34.1985 546.20 54.30)" font-style="italic">T</text>
<text font-size="1" transform="matrix(26.4115 0 0 25.1908 567.87 59.80)">L</text>
<text font-size="1" transform="matrix(31.8447 0 0 36.9146 585.97 54.76)">)</text>
<text font-size="1" transform="matrix(22.9213 0 0 40.3614 610.88 57.15)">[</text>
<text font-size="1" transform="matrix(33.3884 0 0 33.4752 618.50 54.30)">f</text>
<text font-size="1" transform="matrix(35.4377 0 0 34.1791 627.80 54.29)">W</text>
<text font-size="1" transform="matrix(24.4444 0 0 40.3614 661.74 57.15)">]</text>
<text font-size="1" transform="matrix(32.0388 0 0 37.7410 469.46 284.18)">(</text>
<text font-size="1" transform="matrix(33.5000 0 0 33.5000 481.95 284.00)">b</text>
<text font-size="1" transform="matrix(31.0680 0 0 37.7410 499.97 284.18)">)</text>
<text font-size="1" transform="matrix(40.2139 0 0 35.0376 805.40 54.85)" font-style="italic">J</text>
<text font-size="1" transform="matrix(27.3846 0 0 25.4275 822.10 59.85)">G</text>
<text font-size="1" transform="matrix(30.2913 0 0 36.9146 846.41 54.76)">(</text>
<path fill-rule="evenodd" d="M858.50,54.80 L870.60,30.70 L883.30,54.80 Z M861.50,51.80 L878.00,51.80 L870.20,34.90 Z"/>
<text font-size="1" transform="matrix(40.0000 0 0 34.1985 883.10 54.30)" font-style="italic">T</text>
<text font-size="1" transform="matrix(26.4115 0 0 25.1908 904.77 59.80)">L</text>
<text font-size="1" transform="matrix(31.8447 0 0 36.9146 922.87 54.76)">)</text>
<text font-size="1" transform="matrix(22.9213 0 0 40.3614 947.78 57.15)">[</text>
<text font-size="1" transform="matrix(33.3884 0 0 33.4752 955.40 54.30)">f</text>
<text font-size="1" transform="matrix(35.4377 0 0 34.1791 964.70 54.29)">W</text>
<text font-size="1" transform="matrix(24.4444 0 0 40.3614 998.64 57.15)">]</text>
<text font-size="1" transform="matrix(32.0388 0 0 37.7410 805.50 284.18)">(</text>
<text font-size="1" transform="matrix(33.5000 0 0 33.5000 816.34 284.00)">c</text>
<text font-size="1" transform="matrix(31.0680 0 0 37.7410 832.28 284.18)">)</text>
<text font-size="1" transform="matrix(40.2139 0 0 35.0376 138.50 382.25)" font-style="italic">J</text>
<text font-size="1" transform="matrix(26.4115 0 0 25.1908 155.57 387.20)">L</text>
<text font-size="1" transform="matrix(30.2913 0 0 36.9146 175.91 382.16)">(</text>
<path fill-rule="evenodd" d="M188.00,382.20 L200.10,358.10 L212.80,382.20 Z M191.00,379.20 L207.50,379.20 L199.70,362.30 Z"/>
<text font-size="1" transform="matrix(40.0000 0 0 34.1985 212.60 381.70)" font-style="italic">T</text>
<text font-size="1" transform="matrix(28.0784 0 0 25.1908 234.23 387.20)">R</text>
<text font-size="1" transform="matrix(31.8447 0 0 36.9146 255.07 382.16)">)</text>
<text font-size="1" transform="matrix(22.9213 0 0 40.3614 279.98 384.55)">[</text>
<text font-size="1" transform="matrix(33.3884 0 0 33.4752 287.60 381.70)">f</text>
<text font-size="1" transform="matrix(35.4377 0 0 34.1791 296.90 381.69)">W</text>
<text font-size="1" transform="matrix(24.4444 0 0 40.3614 330.84 384.55)">]</text>
<text font-size="1" transform="matrix(32.0388 0 0 37.7410 138.64 611.98)">(</text>
<text font-size="1" transform="matrix(33.5000 0 0 33.5000 150.12 611.80)">d</text>
<text font-size="1" transform="matrix(31.0680 0 0 37.7410 169.14 611.98)">)</text>
<text font-size="1" transform="matrix(40.2139 0 0 35.0376 469.40 382.25)" font-style="italic">J</text>
<text font-size="1" transform="matrix(28.0784 0 0 25.1908 486.43 387.20)">R</text>
<text font-size="1" transform="matrix(30.2913 0 0 36.9146 509.51 382.16)">(</text>
<path fill-rule="evenodd" d="M521.60,382.20 L533.70,358.10 L546.40,382.20 Z M524.60,379.20 L541.10,379.20 L533.30,362.30 Z"/>
<text font-size="1" transform="matrix(40.0000 0 0 34.1985 546.20 381.70)" font-style="italic">T</text>
<text font-size="1" transform="matrix(28.0784 0 0 25.1908 567.83 387.20)">R</text>
<text font-size="1" transform="matrix(31.8447 0 0 36.9146 588.67 382.16)">)</text>
<text font-size="1" transform="matrix(22.9213 0 0 40.3614 613.58 384.55)">[</text>
<text font-size="1" transform="matrix(33.3884 0 0 33.4752 621.20 381.70)">f</text>
<text font-size="1" transform="matrix(35.4377 0 0 34.1791 630.50 381.69)">W</text>
<text font-size="1" transform="matrix(24.4444 0 0 40.3614 664.44 384.55)">]</text>
<text font-size="1" transform="matrix(32.0388 0 0 37.7410 469.46 611.98)">(</text>
<text font-size="1" transform="matrix(33.5000 0 0 33.5000 480.30 611.80)">e</text>
<text font-size="1" transform="matrix(31.0680 0 0 37.7410 496.24 611.98)">)</text>
<text font-size="1" transform="matrix(40.2139 0 0 35.0376 805.40 382.25)" font-style="italic">J</text>
<text font-size="1" transform="matrix(27.3846 0 0 25.4275 822.10 387.25)">G</text>
<text font-size="1" transform="matrix(30.2913 0 0 36.9146 846.41 382.16)">(</text>
<path fill-rule="evenodd" d="M858.50,382.20 L870.60,358.10 L883.30,382.20 Z M861.50,379.20 L878.00,379.20 L870.20,362.30 Z"/>
<text font-size="1" transform="matrix(40.0000 0 0 34.1985 883.10 381.70)" font-style="italic">T</text>
<text font-size="1" transform="matrix(28.0784 0 0 25.1908 904.73 387.20)">R</text>
<text font-size="1" transform="matrix(31.8447 0 0 36.9146 925.57 382.16)">)</text>
<text font-size="1" transform="matrix(22.9213 0 0 40.3614 950.48 384.55)">[</text>
<text font-size="1" transform="matrix(33.3884 0 0 33.4752 958.10 381.70)">f</text>
<text font-size="1" transform="matrix(35.4377 0 0 34.1791 967.40 381.69)">W</text>
<text font-size="1" transform="matrix(24.4444 0 0 40.3614 1001.34 384.55)">]</text>
<text font-size="1" transform="matrix(32.0388 0 0 37.7410 805.50 611.98)">(</text>
<text font-size="1" transform="matrix(33.5000 0 0 33.5000 815.48 611.80)">f</text>
<text font-size="1" transform="matrix(31.0680 0 0 37.7410 827.63 611.98)">)</text>
<text font-size="1" transform="matrix(40.2139 0 0 35.0376 138.50 710.85)" font-style="italic">J</text>
<text font-size="1" transform="matrix(26.4115 0 0 25.1908 155.57 715.80)">L</text>
<text font-size="1" transform="matrix(30.2913 0 0 36.9146 175.91 710.76)">(</text>
<path fill-rule="evenodd" d="M188.00,710.80 L200.10,686.70 L212.80,710.80 Z M191.00,707.80 L207.50,707.80 L199.70,690.90 Z"/>
<text font-size="1" transform="matrix(40.0000 0 0 34.1985 212.60 710.30)" font-style="italic">T</text>
<text font-size="1" transform="matrix(27.3846 0 0 25.4275 233.90 715.85)">G</text>
<text font-size="1" transform="matrix(31.8447 0 0 36.9146 255.97 710.76)">)</text>
<text font-size="1" transform="matrix(22.9213 0 0 40.3614 280.88 713.15)">[</text>
<text font-size="1" transform="matrix(33.3884 0 0 33.4752 288.50 710.30)">f</text>
<text font-size="1" transform="matrix(35.4377 0 0 34.1791 297.80 710.29)">W</text>
<text font-size="1" transform="matrix(24.4444 0 0 40.3614 331.74 713.15)">]</text>
<text font-size="1" transform="matrix(32.0388 0 0 37.7410 138.64 944.38)">(</text>
<text font-size="1" transform="matrix(33.5000 0 0 33.5000 149.19 944.20)">g</text>
<text font-size="1" transform="matrix(31.0680 0 0 37.7410 167.28 944.38)">)</text>
<text font-size="1" transform="matrix(40.2139 0 0 35.0376 469.40 710.85)" font-style="italic">J</text>
<text font-size="1" transform="matrix(28.0784 0 0 25.1908 486.43 715.80)">R</text>
<text font-size="1" transform="matrix(30.2913 0 0 36.9146 509.51 710.76)">(</text>
<path fill-rule="evenodd" d="M521.60,710.80 L533.70,686.70 L546.40,710.80 Z M524.60,707.80 L541.10,707.80 L533.30,690.90 Z"/>
<text font-size="1" transform="matrix(40.0000 0 0 34.1985 546.20 710.30)" font-style="italic">T</text>
<text font-size="1" transform="matrix(27.3846 0 0 25.4275 567.50 715.85)">G</text>
<text font-size="1" transform="matrix(31.8447 0 0 36.9146 589.57 710.76)">)</text>
<text font-size="1" transform="matrix(22.9213 0 0 40.3614 614.48 713.15)">[</text>
<text font-size="1" transform="matrix(33.3884 0 0 33.4752 622.10 710.30)">f</text>
<text font-size="1" transform="matrix(35.4377 0 0 34.1791 631.40 710.29)">W</text>
<text font-size="1" transform="matrix(24.4444 0 0 40.3614 665.34 713.15)">]</text>
<text font-size="1" transform="matrix(32.0388 0 0 37.7410 469.46 944.38)">(</text>
<text font-size="1" transform="matrix(33.5000 0 0 33.5000 481.37 944.20)">h</text>
<text font-size="1" transform="matrix(31.0680 0 0 37.7410 499.97 944.38)">)</text>
<text font-size="1" transform="matrix(40.2139 0 0 35.0376 805.40 710.85)" font-style="italic">J</text>
<text font-size="1" transform="matrix(27.3846 0 0 25.4275 822.10 715.85)">G</text>
<text font-size="1" transform="matrix(30.2913 0 0 36.9146 846.41 710.76)">(</text>
<path fill-rule="evenodd" d="M858.50,710.80 L870.60,686.70 L883.30,710.80 Z M861.50,707.80 L878.00,707.80 L870.20,690.90 Z"/>
<text font-size="1" transform="matrix(40.0000 0 0 34.1985 883.10 710.30)" font-style="italic">T</text>
<text font-size="1" transform="matrix(27.3846 0 0 25.4275 904.40 715.85)">G</text>
<text font-size="1" transform="matrix(31.8447 0 0 36.9146 926.47 710.76)">)</text>
<text font-size="1" transform="matrix(22.9213 0 0 40.3614 951.38 713.15)">[</text>
<text font-size="1" transform="matrix(33.3884 0 0 33.4752 959.00 710.30)">f</text>
<text font-size="1" transform="matrix(35.4377 0 0 34.1791 968.30 710.29)">W</text>
<text font-size="1" transform="matrix(24.4444 0 0 40.3614 1002.24 713.15)">]</text>
<text font-size="1" transform="matrix(32.0388 0 0 37.7410 805.50 944.38)">(</text>
<text font-size="1" transform="matrix(33.5000 0 0 33.5000 816.39 944.20)">i</text>
<text font-size="1" transform="matrix(31.0680 0 0 37.7410 826.70 944.38)">)</text>
<text font-size="1" transform="matrix(40.7407 0 0 40.0000 665.43 288.10)">×</text>
<text font-size="1" transform="matrix(34.2857 0 0 34.4361 689.64 283.56)">5</text>
<text font-size="1" transform="matrix(40.7407 0 0 40.0000 331.04 615.90)">×</text>
<text font-size="1" transform="matrix(34.2857 0 0 34.4361 354.58 611.36)">5</text>
<text font-size="1" transform="matrix(34.7826 0 0 33.9623 64.52 100.50)">2</text>
<text font-size="1" transform="matrix(34.7059 0 0 34.0741 64.45 283.66)">0</text>
<text font-size="1" transform="matrix(34.7826 0 0 33.9623 64.52 428.50)">2</text>
<text font-size="1" transform="matrix(34.7059 0 0 34.0741 64.45 611.26)">0</text>
<text font-size="1" transform="matrix(34.7826 0 0 33.9623 64.52 757.60)">2</text>
<text font-size="1" transform="matrix(34.7059 0 0 34.0741 64.45 943.96)">0</text>
<text font-size="1" transform="matrix(34.8235 0 0 33.7778 137.69 1023.46)">0</text>
<text font-size="1" transform="matrix(34.7826 0 0 34.2642 321.42 1023.70)">2</text>
<text font-size="1" transform="matrix(34.8235 0 0 33.7778 468.69 1023.46)">0</text>
<text font-size="1" transform="matrix(34.7826 0 0 34.2642 655.62 1023.70)">2</text>
<text font-size="1" transform="matrix(34.8235 0 0 33.7778 804.59 1023.46)">0</text>
<text font-size="1" transform="matrix(34.7826 0 0 34.2642 991.72 1023.70)">2</text>
<text font-size="1" transform="matrix(37.0992 0 0 34.7761 201.75 1056.98)" font-style="italic">V</text>
<text font-size="1" transform="matrix(27.8363 0 0 24.9814 220.72 1061.55)">S</text>
<text font-size="1" transform="matrix(21.5730 0 0 39.1566 251.38 1059.21)">[</text>
<text font-size="1" transform="matrix(35.0168 0 0 35.7447 258.20 1057.30)">m</text>
<text font-size="1" transform="matrix(34.0000 0 0 34.7761 285.66 1056.98)">V</text>
<text font-size="1" transform="matrix(19.1111 0 0 39.1566 310.83 1059.21)">]</text>
<text font-size="1" transform="matrix(37.0992 0 0 34.7761 534.80 1056.98)" font-style="italic">V</text>
<text font-size="1" transform="matrix(27.8363 0 0 24.9814 553.77 1061.55)">S</text>
<text font-size="1" transform="matrix(21.5730 0 0 39.1566 584.43 1059.21)">[</text>
<text font-size="1" transform="matrix(35.0168 0 0 35.7447 591.25 1057.30)">m</text>
<text font-size="1" transform="matrix(34.0000 0 0 34.7761 618.71 1056.98)">V</text>
<text font-size="1" transform="matrix(19.1111 0 0 39.1566 643.88 1059.21)">]</text>
<text font-size="1" transform="matrix(37.0992 0 0 34.7761 870.95 1056.98)" font-style="italic">V</text>
<text font-size="1" transform="matrix(27.8363 0 0 24.9814 889.92 1061.55)">S</text>
<text font-size="1" transform="matrix(21.5730 0 0 39.1566 920.58 1059.21)">[</text>
<text font-size="1" transform="matrix(35.0168 0 0 35.7447 927.40 1057.30)">m</text>
<text font-size="1" transform="matrix(34.0000 0 0 34.7761 954.86 1056.98)">V</text>
<text font-size="1" transform="matrix(19.1111 0 0 39.1566 980.03 1059.21)">]</text>
<g transform="translate(25.4 221.80) rotate(-90)"><text font-size="1" transform="matrix(36.7939 0 0 35.3731 -1.93 -0.33)" font-style="italic">V</text><text font-size="1" transform="matrix(26.3077 0 0 26.3197 18.65 5.34)">G</text><text font-size="1" transform="matrix(22.9213 0 0 40.4819 54.08 2.73)">[</text><text font-size="1" transform="matrix(34.8822 0 0 32.5532 61.50 0.00)">m</text><text font-size="1" transform="matrix(35.2857 0 0 35.3731 88.45 -0.33)">V</text><text font-size="1" transform="matrix(20.0000 0 0 40.4819 113.40 2.73)">]</text></g>
<g transform="translate(25.4 549.40) rotate(-90)"><text font-size="1" transform="matrix(36.7939 0 0 35.3731 -1.93 -0.33)" font-style="italic">V</text><text font-size="1" transform="matrix(26.3077 0 0 26.3197 18.65 5.34)">G</text><text font-size="1" transform="matrix(22.9213 0 0 40.4819 54.08 2.73)">[</text><text font-size="1" transform="matrix(34.8822 0 0 32.5532 61.50 0.00)">m</text><text font-size="1" transform="matrix(35.2857 0 0 35.3731 88.45 -0.33)">V</text><text font-size="1" transform="matrix(20.0000 0 0 40.4819 113.40 2.73)">]</text></g>
<g transform="translate(25.4 880.20) rotate(-90)"><text font-size="1" transform="matrix(36.7939 0 0 35.3731 -1.93 -0.33)" font-style="italic">V</text><text font-size="1" transform="matrix(26.3077 0 0 26.3197 18.65 5.34)">G</text><text font-size="1" transform="matrix(22.9213 0 0 40.4819 54.08 2.73)">[</text><text font-size="1" transform="matrix(34.8822 0 0 32.5532 61.50 0.00)">m</text><text font-size="1" transform="matrix(35.2857 0 0 35.3731 88.45 -0.33)">V</text><text font-size="1" transform="matrix(20.0000 0 0 40.4819 113.40 2.73)">]</text></g>
</g>
<rect x="1112.1" y="368.3" width="23.5" height="252.3" fill="url(#cbg)" stroke="#000" stroke-width="1.7"/>
<line x1="1135.6" y1="424.2" x2="1143.2" y2="424.2" stroke="#000" stroke-width="1.6"/>
<line x1="1135.6" y1="494.4" x2="1143.2" y2="494.4" stroke="#000" stroke-width="1.6"/>
<line x1="1135.6" y1="565.3" x2="1143.2" y2="565.3" stroke="#000" stroke-width="1.6"/>
<g opacity="0.999">
<text font-size="1" transform="matrix(35.2941 0 0 34.0741 1147.43 432.36)">0</text>
<text font-size="1" transform="matrix(33.3333 0 0 34.0426 1165.33 432.09)">.</text>
<text font-size="1" transform="matrix(34.2857 0 0 34.5865 1173.43 432.35)">5</text>
<text font-size="1" transform="matrix(34.5882 0 0 34.0741 1147.70 502.56)">0</text>
<rect x="1148.0" y="565.10" width="9.0" height="1.9"/>
<text font-size="1" transform="matrix(34.7059 0 0 34.0741 1158.70 573.46)">0</text>
<text font-size="1" transform="matrix(33.3333 0 0 34.0426 1176.13 573.19)">.</text>
<text font-size="1" transform="matrix(34.2857 0 0 34.5865 1184.53 573.45)">5</text>
</g>
</svg></body></html>
